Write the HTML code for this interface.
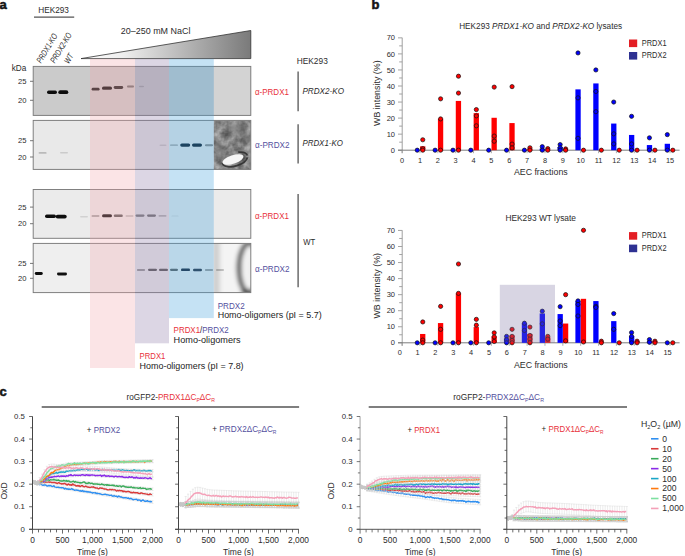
<!DOCTYPE html>
<html><head><meta charset="utf-8"><style>
html,body{margin:0;padding:0;background:#fff;}
svg{display:block;font-family:"Liberation Sans", sans-serif;}
</style></head><body>
<svg width="685" height="556" viewBox="0 0 685 556">
<rect width="685" height="556" fill="#fff"/>
<text x="-0.60" y="9.20" font-size="13" fill="#151515" text-anchor="start" font-weight="bold" stroke="#151515" stroke-width="0.55">a</text>
<text x="38.20" y="13.40" font-size="8.3" fill="#2c2c2c" text-anchor="start" font-weight="normal" textLength="30.7" lengthAdjust="spacingAndGlyphs">HEK293</text>
<line x1="34.00" y1="17.10" x2="74.20" y2="17.10" stroke="#555" stroke-width="1.3"/>
<text transform="translate(41.00,63.80) rotate(-59)" font-size="8.6" fill="#2c2c2c" font-style="italic" textLength="32.8" lengthAdjust="spacingAndGlyphs">PRDX1-KO</text>
<text transform="translate(54.80,63.80) rotate(-59)" font-size="8.6" fill="#2c2c2c" font-style="italic" textLength="33.8" lengthAdjust="spacingAndGlyphs">PRDX2-KO</text>
<text transform="translate(68.80,64.20) rotate(-59)" font-size="8.6" fill="#2c2c2c" font-style="italic" textLength="9.8" lengthAdjust="spacingAndGlyphs">WT</text>
<text x="11.70" y="70.80" font-size="8.3" fill="#2c2c2c" text-anchor="start" font-weight="normal" textLength="14.6" lengthAdjust="spacingAndGlyphs">kDa</text>
<defs><linearGradient id="tg" x1="0" x2="1" y1="0" y2="0"><stop offset="0" stop-color="#ffffff"/><stop offset="0.25" stop-color="#eeeeee"/><stop offset="1" stop-color="#7a7a7a"/></linearGradient><filter id="blur1" x="-20%" y="-50%" width="140%" height="200%"><feGaussianBlur stdDeviation="0.55"/></filter><filter id="blur2" x="-30%" y="-30%" width="160%" height="160%"><feGaussianBlur stdDeviation="2.2"/></filter><filter id="blur05"><feGaussianBlur stdDeviation="0.45"/></filter></defs>
<polygon points="81,58.6 250.8,30.5 250.8,58.6" fill="url(#tg)" stroke="#333" stroke-width="0.8"/>
<text x="120.80" y="34.20" font-size="8.8" fill="#2c2c2c" text-anchor="start" font-weight="normal" textLength="69.6" lengthAdjust="spacingAndGlyphs">20–250 mM NaCl</text>
<rect x="33.20" y="66.40" width="217.60" height="49.00" fill="#cbcbcb"/>
<rect x="33.20" y="120.40" width="217.60" height="49.00" fill="#e9e9e9"/>
<rect x="33.20" y="189.50" width="217.60" height="48.80" fill="#ebebeb"/>
<rect x="33.20" y="243.40" width="217.60" height="49.20" fill="#efefef"/>
<rect x="213.80" y="66.40" width="37.00" height="49.00" fill="#d3d3d3"/>
<clipPath id="cp2"><rect x="213.8" y="120.4" width="37" height="49"/></clipPath><clipPath id="cp4"><rect x="213.8" y="243.4" width="37" height="49.2"/></clipPath>
<filter id="turb" x="0" y="0" width="100%" height="100%"><feTurbulence type="fractalNoise" baseFrequency="0.13" numOctaves="3" seed="4"/><feColorMatrix type="matrix" values="0 0 0 0 0  0 0 0 0 0  0 0 0 0 0  0 0 0 -1.6 1.25"/></filter>
<g clip-path="url(#cp2)">
<rect x="205.00" y="115.00" width="55.00" height="60.00" fill="#b4b4b4"/>
<rect x="213.8" y="120.4" width="37" height="49" fill="#000" filter="url(#turb)" opacity="0.55"/>
<g filter="url(#blur2)">
<ellipse cx="236" cy="128" rx="10" ry="5" fill="#707070" opacity="0.6"/>
<ellipse cx="219" cy="150" rx="5" ry="12" fill="#707070" opacity="0.5"/>
<ellipse cx="246" cy="138" rx="4" ry="8" fill="#606060" opacity="0.5"/>
</g>
<g filter="url(#blur1)"><ellipse cx="235" cy="159.5" rx="13" ry="6.5" fill="none" stroke="#2a2a2a" stroke-width="1.8" stroke-dasharray="30 20" stroke-dashoffset="-2" opacity="0.85" transform="rotate(-18 235 159.5)"/><ellipse cx="233" cy="159.5" rx="11" ry="4.2" fill="#f6f6f6" transform="rotate(-18 233 159.5)"/></g></g>
<g clip-path="url(#cp4)"><g filter="url(#blur2)">
<rect x="205.00" y="240.00" width="55.00" height="60.00" fill="#f4f4f4"/>
<rect x="212" y="240" width="8" height="60" fill="#d0d0d0"/>
<ellipse cx="249.5" cy="268" rx="10.5" ry="25" fill="none" stroke="#454545" stroke-width="5"/>
<ellipse cx="252" cy="268" rx="6" ry="17" fill="#f0f0f0"/>
<ellipse cx="247" cy="292" rx="6" ry="3" fill="#222"/>
</g></g>
<rect x="47.0" y="90.5" width="10.0" height="3.5" rx="1.8" fill="#111" fill-opacity="1.00" filter="url(#blur1)"/>
<rect x="58.3" y="90.3" width="10.0" height="3.8" rx="1.9" fill="#111" fill-opacity="1.00" filter="url(#blur1)"/>
<rect x="91.6" y="87.8" width="8.0" height="2.8" rx="1.4" fill="#111" fill-opacity="0.94" filter="url(#blur1)"/>
<rect x="102.0" y="86.6" width="10.0" height="3.2" rx="1.6" fill="#111" fill-opacity="0.99" filter="url(#blur1)"/>
<rect x="113.7" y="86.1" width="9.5" height="2.8" rx="1.4" fill="#111" fill-opacity="0.88" filter="url(#blur1)"/>
<rect x="127.0" y="85.5" width="7.0" height="1.9" rx="0.9" fill="#111" fill-opacity="0.50" filter="url(#blur1)"/>
<rect x="139.0" y="85.8" width="5.0" height="1.5" rx="0.8" fill="#111" fill-opacity="0.17" filter="url(#blur1)"/>
<rect x="38.6" y="151.9" width="8.0" height="1.9" rx="0.9" fill="#111" fill-opacity="0.20" filter="url(#blur1)"/>
<rect x="60.0" y="152.0" width="8.0" height="1.6" rx="0.8" fill="#111" fill-opacity="0.13" filter="url(#blur1)"/>
<rect x="159.5" y="144.4" width="7.0" height="1.6" rx="0.8" fill="#111" fill-opacity="0.13" filter="url(#blur1)"/>
<rect x="170.0" y="144.3" width="8.0" height="1.8" rx="0.9" fill="#111" fill-opacity="0.24" filter="url(#blur1)"/>
<rect x="180.2" y="143.5" width="10.0" height="3.2" rx="1.6" fill="#0a1a2a" fill-opacity="1.00" filter="url(#blur1)"/>
<rect x="192.0" y="143.5" width="10.0" height="3.2" rx="1.6" fill="#0a1a2a" fill-opacity="1.00" filter="url(#blur1)"/>
<rect x="205.0" y="144.2" width="8.0" height="2.0" rx="1.0" fill="#111" fill-opacity="0.44" filter="url(#blur1)"/>
<rect x="45.0" y="214.4" width="11.0" height="3.5" rx="1.8" fill="#111" fill-opacity="1.00" filter="url(#blur1)"/>
<rect x="55.7" y="214.7" width="11.0" height="3.8" rx="1.9" fill="#111" fill-opacity="1.00" filter="url(#blur1)"/>
<rect x="80.0" y="216.0" width="8.0" height="1.6" rx="0.8" fill="#111" fill-opacity="0.11" filter="url(#blur1)"/>
<rect x="91.5" y="215.1" width="8.0" height="1.9" rx="0.9" fill="#111" fill-opacity="0.28" filter="url(#blur1)"/>
<rect x="102.0" y="214.2" width="10.0" height="3.0" rx="1.5" fill="#111" fill-opacity="0.99" filter="url(#blur1)"/>
<rect x="113.8" y="214.6" width="9.0" height="2.4" rx="1.2" fill="#111" fill-opacity="0.66" filter="url(#blur1)"/>
<rect x="125.5" y="215.2" width="8.0" height="1.6" rx="0.8" fill="#111" fill-opacity="0.22" filter="url(#blur1)"/>
<rect x="135.5" y="214.5" width="9.0" height="2.2" rx="1.1" fill="#111" fill-opacity="0.50" filter="url(#blur1)"/>
<rect x="147.0" y="214.5" width="9.0" height="2.2" rx="1.1" fill="#111" fill-opacity="0.55" filter="url(#blur1)"/>
<rect x="158.5" y="215.1" width="8.0" height="1.6" rx="0.8" fill="#111" fill-opacity="0.22" filter="url(#blur1)"/>
<rect x="171.5" y="215.4" width="7.0" height="1.2" rx="0.6" fill="#111" fill-opacity="0.09" filter="url(#blur1)"/>
<rect x="34.8" y="272.1" width="8.0" height="2.8" rx="1.4" fill="#111" fill-opacity="1.00" filter="url(#blur1)"/>
<rect x="57.0" y="272.6" width="10.0" height="2.8" rx="1.4" fill="#111" fill-opacity="0.99" filter="url(#blur1)"/>
<rect x="137.0" y="269.0" width="8.0" height="1.9" rx="0.9" fill="#111" fill-opacity="0.39" filter="url(#blur1)"/>
<rect x="148.0" y="268.7" width="9.0" height="2.2" rx="1.1" fill="#111" fill-opacity="0.66" filter="url(#blur1)"/>
<rect x="159.0" y="268.8" width="9.0" height="2.2" rx="1.1" fill="#111" fill-opacity="0.66" filter="url(#blur1)"/>
<rect x="170.0" y="268.7" width="8.0" height="2.2" rx="1.1" fill="#111" fill-opacity="0.66" filter="url(#blur1)"/>
<rect x="181.0" y="268.6" width="9.0" height="2.5" rx="1.2" fill="#0a1a2a" fill-opacity="0.94" filter="url(#blur1)"/>
<rect x="193.0" y="268.8" width="9.0" height="2.5" rx="1.2" fill="#0a1a2a" fill-opacity="0.88" filter="url(#blur1)"/>
<rect x="205.0" y="269.1" width="8.0" height="1.8" rx="0.9" fill="#111" fill-opacity="0.39" filter="url(#blur1)"/>
<rect x="216.0" y="269.2" width="8.0" height="1.6" rx="0.8" fill="#111" fill-opacity="0.28" filter="url(#blur1)"/>
<rect x="33.20" y="66.40" width="217.60" height="49.00" fill="none" stroke="#7a7a7a" stroke-width="0.95"/>
<rect x="33.20" y="120.40" width="217.60" height="49.00" fill="none" stroke="#7a7a7a" stroke-width="0.95"/>
<rect x="33.20" y="189.50" width="217.60" height="48.80" fill="none" stroke="#7a7a7a" stroke-width="0.95"/>
<rect x="33.20" y="243.40" width="217.60" height="49.20" fill="none" stroke="#7a7a7a" stroke-width="0.95"/>
<line x1="30.00" y1="81.30" x2="33.20" y2="81.30" stroke="#555" stroke-width="0.8"/>
<line x1="30.00" y1="100.30" x2="33.20" y2="100.30" stroke="#555" stroke-width="0.8"/>
<text x="26.50" y="83.90" font-size="7.6" fill="#2c2c2c" text-anchor="end" font-weight="normal">25</text>
<text x="26.50" y="102.90" font-size="7.6" fill="#2c2c2c" text-anchor="end" font-weight="normal">20</text>
<line x1="30.00" y1="140.70" x2="33.20" y2="140.70" stroke="#555" stroke-width="0.8"/>
<line x1="30.00" y1="157.00" x2="33.20" y2="157.00" stroke="#555" stroke-width="0.8"/>
<text x="26.50" y="143.30" font-size="7.6" fill="#2c2c2c" text-anchor="end" font-weight="normal">25</text>
<text x="26.50" y="159.60" font-size="7.6" fill="#2c2c2c" text-anchor="end" font-weight="normal">20</text>
<line x1="30.00" y1="207.10" x2="33.20" y2="207.10" stroke="#555" stroke-width="0.8"/>
<line x1="30.00" y1="223.70" x2="33.20" y2="223.70" stroke="#555" stroke-width="0.8"/>
<text x="26.50" y="209.70" font-size="7.6" fill="#2c2c2c" text-anchor="end" font-weight="normal">25</text>
<text x="26.50" y="226.30" font-size="7.6" fill="#2c2c2c" text-anchor="end" font-weight="normal">20</text>
<line x1="30.00" y1="263.40" x2="33.20" y2="263.40" stroke="#555" stroke-width="0.8"/>
<line x1="30.00" y1="278.30" x2="33.20" y2="278.30" stroke="#555" stroke-width="0.8"/>
<text x="26.50" y="266.00" font-size="7.6" fill="#2c2c2c" text-anchor="end" font-weight="normal">25</text>
<text x="26.50" y="280.90" font-size="7.6" fill="#2c2c2c" text-anchor="end" font-weight="normal">20</text>
<g>
<rect x="90.00" y="58.80" width="45.00" height="309.20" fill="rgb(242,165,172)" fill-opacity="0.3"/>
<rect x="135.00" y="58.80" width="34.00" height="284.50" fill="rgb(138,118,165)" fill-opacity="0.3"/>
<rect x="169.00" y="58.80" width="44.80" height="259.30" fill="rgb(62,158,218)" fill-opacity="0.3"/>
</g>
<text x="296.70" y="64.00" font-size="8.3" fill="#2c2c2c" text-anchor="start" font-weight="normal" textLength="31.1" lengthAdjust="spacingAndGlyphs">HEK293</text>
<text x="255.00" y="95.00" font-size="8.8" fill="#e8313b" text-anchor="start" font-weight="normal" textLength="33.9" lengthAdjust="spacingAndGlyphs">α-PRDX1</text>
<text x="255.00" y="148.30" font-size="8.8" fill="#5451a0" text-anchor="start" font-weight="normal" textLength="34.5" lengthAdjust="spacingAndGlyphs">α-PRDX2</text>
<text x="255.00" y="218.80" font-size="8.8" fill="#e8313b" text-anchor="start" font-weight="normal" textLength="33.9" lengthAdjust="spacingAndGlyphs">α-PRDX1</text>
<text x="255.00" y="272.30" font-size="8.8" fill="#5451a0" text-anchor="start" font-weight="normal" textLength="34.5" lengthAdjust="spacingAndGlyphs">α-PRDX2</text>
<line x1="298.10" y1="71.40" x2="298.10" y2="111.20" stroke="#555" stroke-width="1.3"/>
<line x1="298.10" y1="124.20" x2="298.10" y2="163.60" stroke="#555" stroke-width="1.3"/>
<line x1="298.10" y1="194.00" x2="298.10" y2="287.20" stroke="#555" stroke-width="1.3"/>
<text x="302.40" y="93.90" font-size="8.8" fill="#2c2c2c" text-anchor="start" font-weight="normal" font-style="italic" textLength="41.6" lengthAdjust="spacingAndGlyphs">PRDX2-KO</text>
<text x="302.40" y="146.30" font-size="8.8" fill="#2c2c2c" text-anchor="start" font-weight="normal" font-style="italic" textLength="40.5" lengthAdjust="spacingAndGlyphs">PRDX1-KO</text>
<text x="303.20" y="245.10" font-size="8.8" fill="#2c2c2c" text-anchor="start" font-weight="normal" textLength="12" lengthAdjust="spacingAndGlyphs">WT</text>
<text x="217.70" y="308.60" font-size="8.8" fill="#5451a0" text-anchor="start" font-weight="normal" textLength="27" lengthAdjust="spacingAndGlyphs">PRDX2</text>
<text x="217.70" y="318.30" font-size="8.8" fill="#222" text-anchor="start" font-weight="normal" textLength="104" lengthAdjust="spacingAndGlyphs">Homo-oligomers (pI = 5.7)</text>
<text x="173.6" y="333.3" font-size="8.8" textLength="55.2" lengthAdjust="spacingAndGlyphs"><tspan fill="#e8313b">PRDX1</tspan><tspan fill="#222">/</tspan><tspan fill="#5451a0">PRDX2</tspan></text>
<text x="173.60" y="342.80" font-size="8.8" fill="#222" text-anchor="start" font-weight="normal" textLength="67" lengthAdjust="spacingAndGlyphs">Homo-oligomers</text>
<text x="139.60" y="359.00" font-size="8.8" fill="#e8313b" text-anchor="start" font-weight="normal" textLength="25.8" lengthAdjust="spacingAndGlyphs">PRDX1</text>
<text x="139.60" y="368.50" font-size="8.8" fill="#222" text-anchor="start" font-weight="normal" textLength="104" lengthAdjust="spacingAndGlyphs">Homo-oligomers (pI = 7.8)</text>
<text x="371.60" y="8.90" font-size="13" fill="#151515" text-anchor="start" font-weight="bold" stroke="#151515" stroke-width="0.55">b</text>
<text x="459.2" y="28.70" font-size="8.4" fill="#2c2c2c" textLength="162.9" lengthAdjust="spacingAndGlyphs">HEK293 <tspan font-style="italic">PRDX1-KO</tspan> and <tspan font-style="italic">PRDX2-KO</tspan> lysates</text>
<rect x="629.00" y="39.50" width="8.20" height="7.60" fill="#e31e24"/>
<rect x="629.00" y="52.00" width="8.20" height="7.60" fill="#2e3192"/>
<text x="641.80" y="45.70" font-size="8.6" fill="#2c2c2c" text-anchor="start" font-weight="normal" textLength="24.7" lengthAdjust="spacingAndGlyphs">PRDX1</text>
<text x="641.80" y="58.30" font-size="8.6" fill="#2c2c2c" text-anchor="start" font-weight="normal" textLength="24.7" lengthAdjust="spacingAndGlyphs">PRDX2</text>
<line x1="402.20" y1="37.70" x2="402.20" y2="153.20" stroke="#a0a0a0" stroke-width="1"/>
<line x1="398.00" y1="150.20" x2="402.20" y2="150.20" stroke="#9a9a9a" stroke-width="0.9"/>
<text x="395.00" y="152.80" font-size="7.5" fill="#2c2c2c" text-anchor="end" font-weight="normal">0</text>
<line x1="399.20" y1="142.17" x2="402.20" y2="142.17" stroke="#9a9a9a" stroke-width="0.9"/>
<line x1="398.00" y1="134.15" x2="402.20" y2="134.15" stroke="#9a9a9a" stroke-width="0.9"/>
<text x="395.00" y="136.75" font-size="7.5" fill="#2c2c2c" text-anchor="end" font-weight="normal">10</text>
<line x1="399.20" y1="126.12" x2="402.20" y2="126.12" stroke="#9a9a9a" stroke-width="0.9"/>
<line x1="398.00" y1="118.10" x2="402.20" y2="118.10" stroke="#9a9a9a" stroke-width="0.9"/>
<text x="395.00" y="120.70" font-size="7.5" fill="#2c2c2c" text-anchor="end" font-weight="normal">20</text>
<line x1="399.20" y1="110.07" x2="402.20" y2="110.07" stroke="#9a9a9a" stroke-width="0.9"/>
<line x1="398.00" y1="102.05" x2="402.20" y2="102.05" stroke="#9a9a9a" stroke-width="0.9"/>
<text x="395.00" y="104.65" font-size="7.5" fill="#2c2c2c" text-anchor="end" font-weight="normal">30</text>
<line x1="399.20" y1="94.02" x2="402.20" y2="94.02" stroke="#9a9a9a" stroke-width="0.9"/>
<line x1="398.00" y1="86.00" x2="402.20" y2="86.00" stroke="#9a9a9a" stroke-width="0.9"/>
<text x="395.00" y="88.60" font-size="7.5" fill="#2c2c2c" text-anchor="end" font-weight="normal">40</text>
<line x1="399.20" y1="77.97" x2="402.20" y2="77.97" stroke="#9a9a9a" stroke-width="0.9"/>
<line x1="398.00" y1="69.95" x2="402.20" y2="69.95" stroke="#9a9a9a" stroke-width="0.9"/>
<text x="395.00" y="72.55" font-size="7.5" fill="#2c2c2c" text-anchor="end" font-weight="normal">50</text>
<line x1="399.20" y1="61.92" x2="402.20" y2="61.92" stroke="#9a9a9a" stroke-width="0.9"/>
<line x1="398.00" y1="53.90" x2="402.20" y2="53.90" stroke="#9a9a9a" stroke-width="0.9"/>
<text x="395.00" y="56.50" font-size="7.5" fill="#2c2c2c" text-anchor="end" font-weight="normal">60</text>
<line x1="399.20" y1="45.87" x2="402.20" y2="45.87" stroke="#9a9a9a" stroke-width="0.9"/>
<line x1="398.00" y1="37.85" x2="402.20" y2="37.85" stroke="#9a9a9a" stroke-width="0.9"/>
<text x="395.00" y="40.45" font-size="7.5" fill="#2c2c2c" text-anchor="end" font-weight="normal">70</text>
<line x1="398.00" y1="150.20" x2="679.60" y2="150.20" stroke="#6e6e6e" stroke-width="0.9"/>
<line x1="402.10" y1="150.20" x2="402.10" y2="153.20" stroke="#9a9a9a" stroke-width="0.8"/>
<text x="402.10" y="162.80" font-size="7.4" fill="#2c2c2c" text-anchor="middle" font-weight="normal">0</text>
<line x1="419.96" y1="150.20" x2="419.96" y2="153.20" stroke="#9a9a9a" stroke-width="0.8"/>
<text x="419.96" y="162.80" font-size="7.4" fill="#2c2c2c" text-anchor="middle" font-weight="normal">1</text>
<line x1="437.82" y1="150.20" x2="437.82" y2="153.20" stroke="#9a9a9a" stroke-width="0.8"/>
<text x="437.82" y="162.80" font-size="7.4" fill="#2c2c2c" text-anchor="middle" font-weight="normal">2</text>
<line x1="455.68" y1="150.20" x2="455.68" y2="153.20" stroke="#9a9a9a" stroke-width="0.8"/>
<text x="455.68" y="162.80" font-size="7.4" fill="#2c2c2c" text-anchor="middle" font-weight="normal">3</text>
<line x1="473.54" y1="150.20" x2="473.54" y2="153.20" stroke="#9a9a9a" stroke-width="0.8"/>
<text x="473.54" y="162.80" font-size="7.4" fill="#2c2c2c" text-anchor="middle" font-weight="normal">4</text>
<line x1="491.40" y1="150.20" x2="491.40" y2="153.20" stroke="#9a9a9a" stroke-width="0.8"/>
<text x="491.40" y="162.80" font-size="7.4" fill="#2c2c2c" text-anchor="middle" font-weight="normal">5</text>
<line x1="509.26" y1="150.20" x2="509.26" y2="153.20" stroke="#9a9a9a" stroke-width="0.8"/>
<text x="509.26" y="162.80" font-size="7.4" fill="#2c2c2c" text-anchor="middle" font-weight="normal">6</text>
<line x1="527.12" y1="150.20" x2="527.12" y2="153.20" stroke="#9a9a9a" stroke-width="0.8"/>
<text x="527.12" y="162.80" font-size="7.4" fill="#2c2c2c" text-anchor="middle" font-weight="normal">7</text>
<line x1="544.98" y1="150.20" x2="544.98" y2="153.20" stroke="#9a9a9a" stroke-width="0.8"/>
<text x="544.98" y="162.80" font-size="7.4" fill="#2c2c2c" text-anchor="middle" font-weight="normal">8</text>
<line x1="562.84" y1="150.20" x2="562.84" y2="153.20" stroke="#9a9a9a" stroke-width="0.8"/>
<text x="562.84" y="162.80" font-size="7.4" fill="#2c2c2c" text-anchor="middle" font-weight="normal">9</text>
<line x1="580.70" y1="150.20" x2="580.70" y2="153.20" stroke="#9a9a9a" stroke-width="0.8"/>
<text x="580.70" y="162.80" font-size="7.4" fill="#2c2c2c" text-anchor="middle" font-weight="normal">10</text>
<line x1="598.56" y1="150.20" x2="598.56" y2="153.20" stroke="#9a9a9a" stroke-width="0.8"/>
<text x="598.56" y="162.80" font-size="7.4" fill="#2c2c2c" text-anchor="middle" font-weight="normal">11</text>
<line x1="616.42" y1="150.20" x2="616.42" y2="153.20" stroke="#9a9a9a" stroke-width="0.8"/>
<text x="616.42" y="162.80" font-size="7.4" fill="#2c2c2c" text-anchor="middle" font-weight="normal">12</text>
<line x1="634.28" y1="150.20" x2="634.28" y2="153.20" stroke="#9a9a9a" stroke-width="0.8"/>
<text x="634.28" y="162.80" font-size="7.4" fill="#2c2c2c" text-anchor="middle" font-weight="normal">13</text>
<line x1="652.14" y1="150.20" x2="652.14" y2="153.20" stroke="#9a9a9a" stroke-width="0.8"/>
<text x="652.14" y="162.80" font-size="7.4" fill="#2c2c2c" text-anchor="middle" font-weight="normal">14</text>
<line x1="670.00" y1="150.20" x2="670.00" y2="153.20" stroke="#9a9a9a" stroke-width="0.8"/>
<text x="670.00" y="162.80" font-size="7.4" fill="#2c2c2c" text-anchor="middle" font-weight="normal">15</text>
<rect x="420.06" y="146.35" width="5.30" height="3.85" fill="#ff0000"/>
<rect x="437.92" y="118.74" width="5.30" height="31.46" fill="#ff0000"/>
<rect x="455.78" y="100.93" width="5.30" height="49.27" fill="#ff0000"/>
<rect x="473.64" y="113.12" width="5.30" height="37.08" fill="#ff0000"/>
<rect x="491.50" y="117.78" width="5.30" height="32.42" fill="#ff0000"/>
<rect x="509.36" y="123.08" width="5.30" height="27.12" fill="#ff0000"/>
<rect x="527.22" y="148.59" width="5.30" height="1.60" fill="#ff0000"/>
<rect x="539.68" y="148.59" width="5.30" height="1.60" fill="#0000ff"/>
<rect x="545.08" y="149.40" width="5.30" height="0.80" fill="#ff0000"/>
<rect x="557.54" y="146.99" width="5.30" height="3.21" fill="#0000ff"/>
<rect x="562.94" y="149.40" width="5.30" height="0.80" fill="#ff0000"/>
<rect x="575.40" y="89.37" width="5.30" height="60.83" fill="#0000ff"/>
<rect x="593.26" y="83.43" width="5.30" height="66.77" fill="#0000ff"/>
<rect x="611.12" y="123.56" width="5.30" height="26.64" fill="#0000ff"/>
<rect x="628.98" y="134.95" width="5.30" height="15.25" fill="#0000ff"/>
<rect x="646.84" y="145.06" width="5.30" height="5.14" fill="#0000ff"/>
<rect x="664.70" y="143.78" width="5.30" height="6.42" fill="#0000ff"/>
<circle cx="417.26" cy="150.20" r="2.1" fill="#0000ff" stroke="#111" stroke-width="0.7"/>
<circle cx="422.76" cy="139.77" r="2.1" fill="#ff0000" stroke="#111" stroke-width="0.7"/>
<circle cx="422.76" cy="148.59" r="2.1" fill="#ff0000" stroke="#111" stroke-width="0.7"/>
<circle cx="422.76" cy="150.20" r="2.1" fill="#ff0000" stroke="#111" stroke-width="0.7"/>
<circle cx="435.12" cy="150.20" r="2.1" fill="#0000ff" stroke="#111" stroke-width="0.7"/>
<circle cx="440.62" cy="98.84" r="2.1" fill="#ff0000" stroke="#111" stroke-width="0.7"/>
<circle cx="440.62" cy="118.90" r="2.1" fill="#ff0000" stroke="#111" stroke-width="0.7"/>
<circle cx="440.62" cy="150.20" r="2.1" fill="#ff0000" stroke="#111" stroke-width="0.7"/>
<circle cx="452.98" cy="150.20" r="2.1" fill="#0000ff" stroke="#111" stroke-width="0.7"/>
<circle cx="458.48" cy="76.21" r="2.1" fill="#ff0000" stroke="#111" stroke-width="0.7"/>
<circle cx="458.48" cy="93.06" r="2.1" fill="#ff0000" stroke="#111" stroke-width="0.7"/>
<circle cx="458.48" cy="150.20" r="2.1" fill="#ff0000" stroke="#111" stroke-width="0.7"/>
<circle cx="470.84" cy="150.20" r="2.1" fill="#0000ff" stroke="#111" stroke-width="0.7"/>
<circle cx="476.34" cy="109.59" r="2.1" fill="#ff0000" stroke="#111" stroke-width="0.7"/>
<circle cx="476.34" cy="115.85" r="2.1" fill="#ff0000" stroke="#111" stroke-width="0.7"/>
<circle cx="476.34" cy="125.80" r="2.1" fill="#ff0000" stroke="#111" stroke-width="0.7"/>
<circle cx="488.70" cy="150.20" r="2.1" fill="#0000ff" stroke="#111" stroke-width="0.7"/>
<circle cx="494.20" cy="87.12" r="2.1" fill="#ff0000" stroke="#111" stroke-width="0.7"/>
<circle cx="494.20" cy="136.08" r="2.1" fill="#ff0000" stroke="#111" stroke-width="0.7"/>
<circle cx="494.20" cy="141.21" r="2.1" fill="#ff0000" stroke="#111" stroke-width="0.7"/>
<circle cx="506.56" cy="150.20" r="2.1" fill="#0000ff" stroke="#111" stroke-width="0.7"/>
<circle cx="512.06" cy="86.64" r="2.1" fill="#ff0000" stroke="#111" stroke-width="0.7"/>
<circle cx="512.06" cy="144.10" r="2.1" fill="#ff0000" stroke="#111" stroke-width="0.7"/>
<circle cx="512.06" cy="147.95" r="2.1" fill="#ff0000" stroke="#111" stroke-width="0.7"/>
<circle cx="524.42" cy="150.20" r="2.1" fill="#0000ff" stroke="#111" stroke-width="0.7"/>
<circle cx="529.92" cy="147.79" r="2.1" fill="#ff0000" stroke="#111" stroke-width="0.7"/>
<circle cx="529.92" cy="150.20" r="2.1" fill="#ff0000" stroke="#111" stroke-width="0.7"/>
<circle cx="542.28" cy="146.67" r="2.1" fill="#0000ff" stroke="#111" stroke-width="0.7"/>
<circle cx="542.28" cy="150.20" r="2.1" fill="#0000ff" stroke="#111" stroke-width="0.7"/>
<circle cx="547.78" cy="148.59" r="2.1" fill="#ff0000" stroke="#111" stroke-width="0.7"/>
<circle cx="547.78" cy="150.20" r="2.1" fill="#ff0000" stroke="#111" stroke-width="0.7"/>
<circle cx="560.14" cy="144.58" r="2.1" fill="#0000ff" stroke="#111" stroke-width="0.7"/>
<circle cx="560.14" cy="147.79" r="2.1" fill="#0000ff" stroke="#111" stroke-width="0.7"/>
<circle cx="560.14" cy="150.20" r="2.1" fill="#0000ff" stroke="#111" stroke-width="0.7"/>
<circle cx="565.64" cy="148.92" r="2.1" fill="#ff0000" stroke="#111" stroke-width="0.7"/>
<circle cx="565.64" cy="150.20" r="2.1" fill="#ff0000" stroke="#111" stroke-width="0.7"/>
<circle cx="578.00" cy="52.94" r="2.1" fill="#0000ff" stroke="#111" stroke-width="0.7"/>
<circle cx="578.00" cy="97.88" r="2.1" fill="#0000ff" stroke="#111" stroke-width="0.7"/>
<circle cx="578.00" cy="138.32" r="2.1" fill="#0000ff" stroke="#111" stroke-width="0.7"/>
<circle cx="583.50" cy="150.20" r="2.1" fill="#ff0000" stroke="#111" stroke-width="0.7"/>
<circle cx="595.86" cy="69.95" r="2.1" fill="#0000ff" stroke="#111" stroke-width="0.7"/>
<circle cx="595.86" cy="91.46" r="2.1" fill="#0000ff" stroke="#111" stroke-width="0.7"/>
<circle cx="595.86" cy="111.68" r="2.1" fill="#0000ff" stroke="#111" stroke-width="0.7"/>
<circle cx="601.36" cy="150.20" r="2.1" fill="#ff0000" stroke="#111" stroke-width="0.7"/>
<circle cx="613.72" cy="102.05" r="2.1" fill="#0000ff" stroke="#111" stroke-width="0.7"/>
<circle cx="613.72" cy="133.83" r="2.1" fill="#0000ff" stroke="#111" stroke-width="0.7"/>
<circle cx="613.72" cy="143.94" r="2.1" fill="#0000ff" stroke="#111" stroke-width="0.7"/>
<circle cx="619.22" cy="150.20" r="2.1" fill="#ff0000" stroke="#111" stroke-width="0.7"/>
<circle cx="631.58" cy="116.33" r="2.1" fill="#0000ff" stroke="#111" stroke-width="0.7"/>
<circle cx="631.58" cy="143.94" r="2.1" fill="#0000ff" stroke="#111" stroke-width="0.7"/>
<circle cx="631.58" cy="150.20" r="2.1" fill="#0000ff" stroke="#111" stroke-width="0.7"/>
<circle cx="637.08" cy="150.20" r="2.1" fill="#ff0000" stroke="#111" stroke-width="0.7"/>
<circle cx="649.44" cy="137.84" r="2.1" fill="#0000ff" stroke="#111" stroke-width="0.7"/>
<circle cx="649.44" cy="150.20" r="2.1" fill="#0000ff" stroke="#111" stroke-width="0.7"/>
<circle cx="654.94" cy="150.20" r="2.1" fill="#ff0000" stroke="#111" stroke-width="0.7"/>
<circle cx="667.30" cy="134.63" r="2.1" fill="#0000ff" stroke="#111" stroke-width="0.7"/>
<circle cx="667.30" cy="150.20" r="2.1" fill="#0000ff" stroke="#111" stroke-width="0.7"/>
<circle cx="672.80" cy="150.20" r="2.1" fill="#ff0000" stroke="#111" stroke-width="0.7"/>
<text transform="translate(379.5,93.20) rotate(-90)" font-size="8.4" fill="#2c2c2c" text-anchor="middle" textLength="65.6" lengthAdjust="spacingAndGlyphs">WB intensity (%)</text>
<text x="513.90" y="174.90" font-size="8.6" fill="#2c2c2c" text-anchor="start" font-weight="normal" textLength="53.8" lengthAdjust="spacingAndGlyphs">AEC fractions</text>
<text x="505.4" y="221.30" font-size="8.4" fill="#2c2c2c" textLength="70.6" lengthAdjust="spacingAndGlyphs">HEK293 WT lysate</text>
<rect x="629.00" y="232.10" width="8.20" height="7.60" fill="#e31e24"/>
<rect x="629.00" y="244.60" width="8.20" height="7.60" fill="#2e3192"/>
<text x="641.80" y="238.30" font-size="8.6" fill="#2c2c2c" text-anchor="start" font-weight="normal" textLength="24.7" lengthAdjust="spacingAndGlyphs">PRDX1</text>
<text x="641.80" y="250.90" font-size="8.6" fill="#2c2c2c" text-anchor="start" font-weight="normal" textLength="24.7" lengthAdjust="spacingAndGlyphs">PRDX2</text>
<line x1="402.20" y1="230.30" x2="402.20" y2="345.80" stroke="#a0a0a0" stroke-width="1"/>
<line x1="398.00" y1="342.80" x2="402.20" y2="342.80" stroke="#9a9a9a" stroke-width="0.9"/>
<text x="395.00" y="345.40" font-size="7.5" fill="#2c2c2c" text-anchor="end" font-weight="normal">0</text>
<line x1="399.20" y1="334.78" x2="402.20" y2="334.78" stroke="#9a9a9a" stroke-width="0.9"/>
<line x1="398.00" y1="326.75" x2="402.20" y2="326.75" stroke="#9a9a9a" stroke-width="0.9"/>
<text x="395.00" y="329.35" font-size="7.5" fill="#2c2c2c" text-anchor="end" font-weight="normal">10</text>
<line x1="399.20" y1="318.73" x2="402.20" y2="318.73" stroke="#9a9a9a" stroke-width="0.9"/>
<line x1="398.00" y1="310.70" x2="402.20" y2="310.70" stroke="#9a9a9a" stroke-width="0.9"/>
<text x="395.00" y="313.30" font-size="7.5" fill="#2c2c2c" text-anchor="end" font-weight="normal">20</text>
<line x1="399.20" y1="302.68" x2="402.20" y2="302.68" stroke="#9a9a9a" stroke-width="0.9"/>
<line x1="398.00" y1="294.65" x2="402.20" y2="294.65" stroke="#9a9a9a" stroke-width="0.9"/>
<text x="395.00" y="297.25" font-size="7.5" fill="#2c2c2c" text-anchor="end" font-weight="normal">30</text>
<line x1="399.20" y1="286.62" x2="402.20" y2="286.62" stroke="#9a9a9a" stroke-width="0.9"/>
<line x1="398.00" y1="278.60" x2="402.20" y2="278.60" stroke="#9a9a9a" stroke-width="0.9"/>
<text x="395.00" y="281.20" font-size="7.5" fill="#2c2c2c" text-anchor="end" font-weight="normal">40</text>
<line x1="399.20" y1="270.58" x2="402.20" y2="270.58" stroke="#9a9a9a" stroke-width="0.9"/>
<line x1="398.00" y1="262.55" x2="402.20" y2="262.55" stroke="#9a9a9a" stroke-width="0.9"/>
<text x="395.00" y="265.15" font-size="7.5" fill="#2c2c2c" text-anchor="end" font-weight="normal">50</text>
<line x1="399.20" y1="254.53" x2="402.20" y2="254.53" stroke="#9a9a9a" stroke-width="0.9"/>
<line x1="398.00" y1="246.50" x2="402.20" y2="246.50" stroke="#9a9a9a" stroke-width="0.9"/>
<text x="395.00" y="249.10" font-size="7.5" fill="#2c2c2c" text-anchor="end" font-weight="normal">60</text>
<line x1="399.20" y1="238.48" x2="402.20" y2="238.48" stroke="#9a9a9a" stroke-width="0.9"/>
<line x1="398.00" y1="230.45" x2="402.20" y2="230.45" stroke="#9a9a9a" stroke-width="0.9"/>
<text x="395.00" y="233.05" font-size="7.5" fill="#2c2c2c" text-anchor="end" font-weight="normal">70</text>
<line x1="398.00" y1="342.80" x2="679.60" y2="342.80" stroke="#6e6e6e" stroke-width="0.9"/>
<line x1="402.10" y1="342.80" x2="402.10" y2="345.80" stroke="#9a9a9a" stroke-width="0.8"/>
<text x="399.70" y="355.40" font-size="7.4" fill="#2c2c2c" text-anchor="middle" font-weight="normal">0</text>
<line x1="419.96" y1="342.80" x2="419.96" y2="345.80" stroke="#9a9a9a" stroke-width="0.8"/>
<text x="417.56" y="355.40" font-size="7.4" fill="#2c2c2c" text-anchor="middle" font-weight="normal">1</text>
<line x1="437.82" y1="342.80" x2="437.82" y2="345.80" stroke="#9a9a9a" stroke-width="0.8"/>
<text x="435.42" y="355.40" font-size="7.4" fill="#2c2c2c" text-anchor="middle" font-weight="normal">2</text>
<line x1="455.68" y1="342.80" x2="455.68" y2="345.80" stroke="#9a9a9a" stroke-width="0.8"/>
<text x="453.28" y="355.40" font-size="7.4" fill="#2c2c2c" text-anchor="middle" font-weight="normal">3</text>
<line x1="473.54" y1="342.80" x2="473.54" y2="345.80" stroke="#9a9a9a" stroke-width="0.8"/>
<text x="471.14" y="355.40" font-size="7.4" fill="#2c2c2c" text-anchor="middle" font-weight="normal">4</text>
<line x1="491.40" y1="342.80" x2="491.40" y2="345.80" stroke="#9a9a9a" stroke-width="0.8"/>
<text x="489.00" y="355.40" font-size="7.4" fill="#2c2c2c" text-anchor="middle" font-weight="normal">5</text>
<line x1="509.26" y1="342.80" x2="509.26" y2="345.80" stroke="#9a9a9a" stroke-width="0.8"/>
<text x="506.86" y="355.40" font-size="7.4" fill="#2c2c2c" text-anchor="middle" font-weight="normal">6</text>
<line x1="527.12" y1="342.80" x2="527.12" y2="345.80" stroke="#9a9a9a" stroke-width="0.8"/>
<text x="524.72" y="355.40" font-size="7.4" fill="#2c2c2c" text-anchor="middle" font-weight="normal">7</text>
<line x1="544.98" y1="342.80" x2="544.98" y2="345.80" stroke="#9a9a9a" stroke-width="0.8"/>
<text x="542.58" y="355.40" font-size="7.4" fill="#2c2c2c" text-anchor="middle" font-weight="normal">8</text>
<line x1="562.84" y1="342.80" x2="562.84" y2="345.80" stroke="#9a9a9a" stroke-width="0.8"/>
<text x="560.44" y="355.40" font-size="7.4" fill="#2c2c2c" text-anchor="middle" font-weight="normal">9</text>
<line x1="580.70" y1="342.80" x2="580.70" y2="345.80" stroke="#9a9a9a" stroke-width="0.8"/>
<text x="578.30" y="355.40" font-size="7.4" fill="#2c2c2c" text-anchor="middle" font-weight="normal">10</text>
<line x1="598.56" y1="342.80" x2="598.56" y2="345.80" stroke="#9a9a9a" stroke-width="0.8"/>
<text x="596.16" y="355.40" font-size="7.4" fill="#2c2c2c" text-anchor="middle" font-weight="normal">11</text>
<line x1="616.42" y1="342.80" x2="616.42" y2="345.80" stroke="#9a9a9a" stroke-width="0.8"/>
<text x="614.02" y="355.40" font-size="7.4" fill="#2c2c2c" text-anchor="middle" font-weight="normal">12</text>
<line x1="634.28" y1="342.80" x2="634.28" y2="345.80" stroke="#9a9a9a" stroke-width="0.8"/>
<text x="631.88" y="355.40" font-size="7.4" fill="#2c2c2c" text-anchor="middle" font-weight="normal">13</text>
<line x1="652.14" y1="342.80" x2="652.14" y2="345.80" stroke="#9a9a9a" stroke-width="0.8"/>
<text x="649.74" y="355.40" font-size="7.4" fill="#2c2c2c" text-anchor="middle" font-weight="normal">14</text>
<line x1="670.00" y1="342.80" x2="670.00" y2="345.80" stroke="#9a9a9a" stroke-width="0.8"/>
<text x="667.60" y="355.40" font-size="7.4" fill="#2c2c2c" text-anchor="middle" font-weight="normal">15</text>
<rect x="420.06" y="333.97" width="5.30" height="8.83" fill="#ff0000"/>
<rect x="437.92" y="323.06" width="5.30" height="19.74" fill="#ff0000"/>
<rect x="455.78" y="293.37" width="5.30" height="49.43" fill="#ff0000"/>
<rect x="473.64" y="327.07" width="5.30" height="15.73" fill="#ff0000"/>
<rect x="491.50" y="336.38" width="5.30" height="6.42" fill="#ff0000"/>
<rect x="503.96" y="338.31" width="5.30" height="4.49" fill="#0000ff"/>
<rect x="509.36" y="335.42" width="5.30" height="7.38" fill="#ff0000"/>
<rect x="521.82" y="323.22" width="5.30" height="19.58" fill="#0000ff"/>
<rect x="527.22" y="333.97" width="5.30" height="8.83" fill="#ff0000"/>
<rect x="539.68" y="313.43" width="5.30" height="29.37" fill="#0000ff"/>
<rect x="545.08" y="337.18" width="5.30" height="5.62" fill="#ff0000"/>
<rect x="557.54" y="314.07" width="5.30" height="28.73" fill="#0000ff"/>
<rect x="562.94" y="323.54" width="5.30" height="19.26" fill="#ff0000"/>
<rect x="575.40" y="300.91" width="5.30" height="41.89" fill="#0000ff"/>
<rect x="580.80" y="298.82" width="5.30" height="43.98" fill="#ff0000"/>
<rect x="593.26" y="301.07" width="5.30" height="41.73" fill="#0000ff"/>
<rect x="598.66" y="342.00" width="5.30" height="0.80" fill="#ff0000"/>
<rect x="611.12" y="321.13" width="5.30" height="21.67" fill="#0000ff"/>
<rect x="628.98" y="336.06" width="5.30" height="6.74" fill="#0000ff"/>
<rect x="634.38" y="341.19" width="5.30" height="1.60" fill="#ff0000"/>
<rect x="646.84" y="341.19" width="5.30" height="1.60" fill="#0000ff"/>
<rect x="652.24" y="341.19" width="5.30" height="1.60" fill="#ff0000"/>
<circle cx="417.26" cy="342.80" r="2.1" fill="#0000ff" stroke="#111" stroke-width="0.7"/>
<circle cx="422.76" cy="321.94" r="2.1" fill="#ff0000" stroke="#111" stroke-width="0.7"/>
<circle cx="422.76" cy="340.07" r="2.1" fill="#ff0000" stroke="#111" stroke-width="0.7"/>
<circle cx="422.76" cy="342.80" r="2.1" fill="#ff0000" stroke="#111" stroke-width="0.7"/>
<circle cx="435.12" cy="342.80" r="2.1" fill="#0000ff" stroke="#111" stroke-width="0.7"/>
<circle cx="440.62" cy="306.37" r="2.1" fill="#ff0000" stroke="#111" stroke-width="0.7"/>
<circle cx="440.62" cy="329.32" r="2.1" fill="#ff0000" stroke="#111" stroke-width="0.7"/>
<circle cx="440.62" cy="342.80" r="2.1" fill="#ff0000" stroke="#111" stroke-width="0.7"/>
<circle cx="452.98" cy="342.80" r="2.1" fill="#0000ff" stroke="#111" stroke-width="0.7"/>
<circle cx="458.48" cy="263.99" r="2.1" fill="#ff0000" stroke="#111" stroke-width="0.7"/>
<circle cx="458.48" cy="293.37" r="2.1" fill="#ff0000" stroke="#111" stroke-width="0.7"/>
<circle cx="458.48" cy="342.80" r="2.1" fill="#ff0000" stroke="#111" stroke-width="0.7"/>
<circle cx="470.84" cy="342.80" r="2.1" fill="#0000ff" stroke="#111" stroke-width="0.7"/>
<circle cx="476.34" cy="319.37" r="2.1" fill="#ff0000" stroke="#111" stroke-width="0.7"/>
<circle cx="476.34" cy="325.14" r="2.1" fill="#ff0000" stroke="#111" stroke-width="0.7"/>
<circle cx="476.34" cy="342.80" r="2.1" fill="#ff0000" stroke="#111" stroke-width="0.7"/>
<circle cx="488.70" cy="342.80" r="2.1" fill="#0000ff" stroke="#111" stroke-width="0.7"/>
<circle cx="494.20" cy="332.85" r="2.1" fill="#ff0000" stroke="#111" stroke-width="0.7"/>
<circle cx="494.20" cy="336.86" r="2.1" fill="#ff0000" stroke="#111" stroke-width="0.7"/>
<circle cx="494.20" cy="341.52" r="2.1" fill="#ff0000" stroke="#111" stroke-width="0.7"/>
<circle cx="506.56" cy="336.38" r="2.1" fill="#0000ff" stroke="#111" stroke-width="0.7"/>
<circle cx="506.56" cy="339.75" r="2.1" fill="#0000ff" stroke="#111" stroke-width="0.7"/>
<circle cx="506.56" cy="342.80" r="2.1" fill="#0000ff" stroke="#111" stroke-width="0.7"/>
<circle cx="512.06" cy="329.32" r="2.1" fill="#ff0000" stroke="#111" stroke-width="0.7"/>
<circle cx="512.06" cy="336.38" r="2.1" fill="#ff0000" stroke="#111" stroke-width="0.7"/>
<circle cx="512.06" cy="340.39" r="2.1" fill="#ff0000" stroke="#111" stroke-width="0.7"/>
<circle cx="512.06" cy="342.80" r="2.1" fill="#ff0000" stroke="#111" stroke-width="0.7"/>
<circle cx="524.42" cy="323.22" r="2.1" fill="#0000ff" stroke="#111" stroke-width="0.7"/>
<circle cx="524.42" cy="330.44" r="2.1" fill="#0000ff" stroke="#111" stroke-width="0.7"/>
<circle cx="529.92" cy="327.07" r="2.1" fill="#ff0000" stroke="#111" stroke-width="0.7"/>
<circle cx="529.92" cy="335.42" r="2.1" fill="#ff0000" stroke="#111" stroke-width="0.7"/>
<circle cx="529.92" cy="339.11" r="2.1" fill="#ff0000" stroke="#111" stroke-width="0.7"/>
<circle cx="529.92" cy="342.80" r="2.1" fill="#ff0000" stroke="#111" stroke-width="0.7"/>
<circle cx="542.28" cy="311.18" r="2.1" fill="#0000ff" stroke="#111" stroke-width="0.7"/>
<circle cx="542.28" cy="323.86" r="2.1" fill="#0000ff" stroke="#111" stroke-width="0.7"/>
<circle cx="547.78" cy="336.38" r="2.1" fill="#ff0000" stroke="#111" stroke-width="0.7"/>
<circle cx="547.78" cy="339.11" r="2.1" fill="#ff0000" stroke="#111" stroke-width="0.7"/>
<circle cx="560.14" cy="306.69" r="2.1" fill="#0000ff" stroke="#111" stroke-width="0.7"/>
<circle cx="560.14" cy="320.97" r="2.1" fill="#0000ff" stroke="#111" stroke-width="0.7"/>
<circle cx="560.14" cy="325.63" r="2.1" fill="#0000ff" stroke="#111" stroke-width="0.7"/>
<circle cx="565.64" cy="294.65" r="2.1" fill="#ff0000" stroke="#111" stroke-width="0.7"/>
<circle cx="565.64" cy="340.87" r="2.1" fill="#ff0000" stroke="#111" stroke-width="0.7"/>
<circle cx="578.00" cy="300.91" r="2.1" fill="#0000ff" stroke="#111" stroke-width="0.7"/>
<circle cx="578.00" cy="304.44" r="2.1" fill="#0000ff" stroke="#111" stroke-width="0.7"/>
<circle cx="578.00" cy="316.00" r="2.1" fill="#0000ff" stroke="#111" stroke-width="0.7"/>
<circle cx="583.50" cy="230.29" r="2.1" fill="#ff0000" stroke="#111" stroke-width="0.7"/>
<circle cx="583.50" cy="342.00" r="2.1" fill="#ff0000" stroke="#111" stroke-width="0.7"/>
<circle cx="595.86" cy="306.37" r="2.1" fill="#0000ff" stroke="#111" stroke-width="0.7"/>
<circle cx="595.86" cy="307.49" r="2.1" fill="#0000ff" stroke="#111" stroke-width="0.7"/>
<circle cx="601.36" cy="341.19" r="2.1" fill="#ff0000" stroke="#111" stroke-width="0.7"/>
<circle cx="601.36" cy="342.80" r="2.1" fill="#ff0000" stroke="#111" stroke-width="0.7"/>
<circle cx="613.72" cy="313.59" r="2.1" fill="#0000ff" stroke="#111" stroke-width="0.7"/>
<circle cx="613.72" cy="329.32" r="2.1" fill="#0000ff" stroke="#111" stroke-width="0.7"/>
<circle cx="619.22" cy="342.80" r="2.1" fill="#ff0000" stroke="#111" stroke-width="0.7"/>
<circle cx="631.58" cy="332.53" r="2.1" fill="#0000ff" stroke="#111" stroke-width="0.7"/>
<circle cx="631.58" cy="336.38" r="2.1" fill="#0000ff" stroke="#111" stroke-width="0.7"/>
<circle cx="631.58" cy="342.80" r="2.1" fill="#0000ff" stroke="#111" stroke-width="0.7"/>
<circle cx="637.08" cy="341.19" r="2.1" fill="#ff0000" stroke="#111" stroke-width="0.7"/>
<circle cx="637.08" cy="342.80" r="2.1" fill="#ff0000" stroke="#111" stroke-width="0.7"/>
<circle cx="649.44" cy="339.59" r="2.1" fill="#0000ff" stroke="#111" stroke-width="0.7"/>
<circle cx="649.44" cy="342.32" r="2.1" fill="#0000ff" stroke="#111" stroke-width="0.7"/>
<circle cx="654.94" cy="341.19" r="2.1" fill="#ff0000" stroke="#111" stroke-width="0.7"/>
<circle cx="654.94" cy="342.80" r="2.1" fill="#ff0000" stroke="#111" stroke-width="0.7"/>
<circle cx="667.30" cy="342.80" r="2.1" fill="#0000ff" stroke="#111" stroke-width="0.7"/>
<circle cx="672.80" cy="342.80" r="2.1" fill="#ff0000" stroke="#111" stroke-width="0.7"/>
<rect x="499.80" y="284.80" width="55.20" height="58.00" fill="rgb(125,115,162)" fill-opacity="0.3"/>
<text transform="translate(379.5,285.80) rotate(-90)" font-size="8.4" fill="#2c2c2c" text-anchor="middle" textLength="65.6" lengthAdjust="spacingAndGlyphs">WB intensity (%)</text>
<text x="513.90" y="367.50" font-size="8.6" fill="#2c2c2c" text-anchor="start" font-weight="normal" textLength="53.8" lengthAdjust="spacingAndGlyphs">AEC fractions</text>
<text x="-0.40" y="396.00" font-size="13" fill="#151515" text-anchor="start" font-weight="bold" stroke="#151515" stroke-width="0.55">c</text>
<path d="M39.7 482.8V485.6M38.6 482.8h2.2M38.6 485.6h2.2M42.1 483.4V486.1M41.0 483.4h2.2M41.0 486.1h2.2M44.5 483.8V486.5M43.4 483.8h2.2M43.4 486.5h2.2M46.9 484.2V486.9M45.8 484.2h2.2M45.8 486.9h2.2M49.3 484.5V487.2M48.2 484.5h2.2M48.2 487.2h2.2M51.7 484.9V487.6M50.6 484.9h2.2M50.6 487.6h2.2M54.1 485.3V488.0M53.0 485.3h2.2M53.0 488.0h2.2M56.5 485.7V488.4M55.4 485.7h2.2M55.4 488.4h2.2M58.9 486.1V488.8M57.8 486.1h2.2M57.8 488.8h2.2M61.3 486.4V489.1M60.2 486.4h2.2M60.2 489.1h2.2M63.7 486.8V489.5M62.6 486.8h2.2M62.6 489.5h2.2M66.1 487.2V489.9M65.0 487.2h2.2M65.0 489.9h2.2M68.5 487.6V490.3M67.4 487.6h2.2M67.4 490.3h2.2M70.9 488.0V490.7M69.8 488.0h2.2M69.8 490.7h2.2M73.3 488.3V491.0M72.2 488.3h2.2M72.2 491.0h2.2M75.7 488.7V491.4M74.6 488.7h2.2M74.6 491.4h2.2M78.1 489.1V491.8M77.0 489.1h2.2M77.0 491.8h2.2M80.5 489.5V492.2M79.4 489.5h2.2M79.4 492.2h2.2M82.9 489.9V492.6M81.8 489.9h2.2M81.8 492.6h2.2M85.3 490.2V492.9M84.2 490.2h2.2M84.2 492.9h2.2M87.7 490.6V493.3M86.6 490.6h2.2M86.6 493.3h2.2M90.1 491.0V493.7M89.0 491.0h2.2M89.0 493.7h2.2M92.5 491.4V494.1M91.4 491.4h2.2M91.4 494.1h2.2M94.9 491.8V494.5M93.8 491.8h2.2M93.8 494.5h2.2M97.3 492.1V494.8M96.2 492.1h2.2M96.2 494.8h2.2M99.7 492.5V495.2M98.6 492.5h2.2M98.6 495.2h2.2M102.1 492.9V495.6M101.0 492.9h2.2M101.0 495.6h2.2M104.5 493.3V496.0M103.4 493.3h2.2M103.4 496.0h2.2M106.9 493.7V496.4M105.8 493.7h2.2M105.8 496.4h2.2M109.3 494.0V496.7M108.2 494.0h2.2M108.2 496.7h2.2M111.7 494.4V497.1M110.6 494.4h2.2M110.6 497.1h2.2M114.1 494.8V497.5M113.0 494.8h2.2M113.0 497.5h2.2M116.5 495.2V497.9M115.4 495.2h2.2M115.4 497.9h2.2M118.9 495.6V498.3M117.8 495.6h2.2M117.8 498.3h2.2M121.3 495.9V498.6M120.2 495.9h2.2M120.2 498.6h2.2M123.7 496.3V499.0M122.6 496.3h2.2M122.6 499.0h2.2M126.1 496.7V499.4M125.0 496.7h2.2M125.0 499.4h2.2M128.5 497.1V499.8M127.4 497.1h2.2M127.4 499.8h2.2M130.9 497.5V500.2M129.8 497.5h2.2M129.8 500.2h2.2M133.3 497.8V500.5M132.2 497.8h2.2M132.2 500.5h2.2M135.7 498.2V500.9M134.6 498.2h2.2M134.6 500.9h2.2M138.1 498.6V501.3M137.0 498.6h2.2M137.0 501.3h2.2M140.5 499.0V501.7M139.4 499.0h2.2M139.4 501.7h2.2M142.9 499.4V502.1M141.8 499.4h2.2M141.8 502.1h2.2M145.3 499.7V502.4M144.2 499.7h2.2M144.2 502.4h2.2M147.7 500.1V502.8M146.6 500.1h2.2M146.6 502.8h2.2M150.1 500.5V503.2M149.0 500.5h2.2M149.0 503.2h2.2M152.5 500.7V503.4M151.4 500.7h2.2M151.4 503.4h2.2" stroke="#d2d2d2" stroke-width="0.4" fill="none"/>
<polyline points="38.50,483.87 39.40,484.51 40.30,484.23 41.20,484.23 42.10,484.88 43.00,485.30 43.90,485.05 44.80,485.02 45.70,484.97 46.60,485.85 47.50,486.01 48.40,485.52 49.30,485.74 50.20,485.55 51.10,485.86 52.00,486.35 52.90,486.55 53.80,485.79 54.70,486.84 55.60,487.14 56.50,487.39 57.40,487.14 58.30,487.27 59.20,487.57 60.10,487.62 61.00,487.66 61.90,487.67 62.80,487.68 63.70,488.10 64.60,488.88 65.50,488.23 66.40,489.05 67.30,488.79 68.20,489.35 69.10,489.02 70.00,489.41 70.90,489.24 71.80,488.41 72.70,489.61 73.60,489.47 74.50,490.30 75.40,490.11 76.30,489.96 77.20,490.34 78.10,490.33 79.00,490.56 79.90,491.05 80.80,490.70 81.70,491.28 82.60,490.57 83.50,491.46 84.40,491.23 85.30,491.59 86.20,491.43 87.10,492.06 88.00,491.70 88.90,492.20 89.80,491.90 90.70,492.25 91.60,492.54 92.50,492.98 93.40,492.63 94.30,492.87 95.20,492.64 96.10,493.42 97.00,493.27 97.90,493.42 98.80,493.64 99.70,493.80 100.60,493.95 101.50,494.34 102.40,494.62 103.30,494.56 104.20,494.39 105.10,494.25 106.00,494.56 106.90,494.68 107.80,494.91 108.70,495.07 109.60,495.38 110.50,495.34 111.40,495.16 112.30,495.97 113.20,496.23 114.10,495.53 115.00,496.21 115.90,496.13 116.80,496.30 117.70,497.08 118.60,496.09 119.50,496.44 120.40,497.09 121.30,497.05 122.20,497.39 123.10,497.85 124.00,497.75 124.90,497.74 125.80,497.65 126.70,497.92 127.60,498.27 128.50,498.00 129.40,498.81 130.30,498.46 131.20,498.50 132.10,499.09 133.00,499.71 133.90,499.57 134.80,499.35 135.70,499.40 136.60,499.22 137.50,500.17 138.40,500.00 139.30,499.93 140.20,500.33 141.10,501.17 142.00,500.31 142.90,499.98 143.80,500.53 144.70,501.28 145.60,501.27 146.50,501.21 147.40,500.63 148.30,501.36 149.20,501.65 150.10,501.31 151.00,501.94 151.90,501.42" fill="none" stroke="#2f8ff0" stroke-width="1.45" stroke-linejoin="round"/>
<path d="M39.7 481.8V484.5M38.6 481.8h2.2M38.6 484.5h2.2M42.1 481.3V484.0M41.0 481.3h2.2M41.0 484.0h2.2M44.5 480.7V483.4M43.4 480.7h2.2M43.4 483.4h2.2M46.9 480.6V483.3M45.8 480.6h2.2M45.8 483.3h2.2M49.3 480.7V483.4M48.2 480.7h2.2M48.2 483.4h2.2M51.7 481.0V483.7M50.6 481.0h2.2M50.6 483.7h2.2M54.1 481.3V484.0M53.0 481.3h2.2M53.0 484.0h2.2M56.5 481.6V484.3M55.4 481.6h2.2M55.4 484.3h2.2M58.9 481.9V484.6M57.8 481.9h2.2M57.8 484.6h2.2M61.3 482.2V484.9M60.2 482.2h2.2M60.2 484.9h2.2M63.7 482.5V485.2M62.6 482.5h2.2M62.6 485.2h2.2M66.1 482.8V485.5M65.0 482.8h2.2M65.0 485.5h2.2M68.5 483.1V485.8M67.4 483.1h2.2M67.4 485.8h2.2M70.9 483.4V486.1M69.8 483.4h2.2M69.8 486.1h2.2M73.3 483.7V486.4M72.2 483.7h2.2M72.2 486.4h2.2M75.7 484.0V486.7M74.6 484.0h2.2M74.6 486.7h2.2M78.1 484.3V487.0M77.0 484.3h2.2M77.0 487.0h2.2M80.5 484.6V487.3M79.4 484.6h2.2M79.4 487.3h2.2M82.9 484.9V487.6M81.8 484.9h2.2M81.8 487.6h2.2M85.3 485.1V487.9M84.2 485.1h2.2M84.2 487.9h2.2M87.7 485.4V488.2M86.6 485.4h2.2M86.6 488.2h2.2M90.1 485.7V488.4M89.0 485.7h2.2M89.0 488.4h2.2M92.5 486.0V488.7M91.4 486.0h2.2M91.4 488.7h2.2M94.9 486.3V489.0M93.8 486.3h2.2M93.8 489.0h2.2M97.3 486.6V489.3M96.2 486.6h2.2M96.2 489.3h2.2M99.7 486.9V489.6M98.6 486.9h2.2M98.6 489.6h2.2M102.1 487.2V489.9M101.0 487.2h2.2M101.0 489.9h2.2M104.5 487.5V490.2M103.4 487.5h2.2M103.4 490.2h2.2M106.9 487.8V490.5M105.8 487.8h2.2M105.8 490.5h2.2M109.3 488.1V490.8M108.2 488.1h2.2M108.2 490.8h2.2M111.7 488.4V491.1M110.6 488.4h2.2M110.6 491.1h2.2M114.1 488.7V491.4M113.0 488.7h2.2M113.0 491.4h2.2M116.5 489.0V491.7M115.4 489.0h2.2M115.4 491.7h2.2M118.9 489.3V492.0M117.8 489.3h2.2M117.8 492.0h2.2M121.3 489.6V492.3M120.2 489.6h2.2M120.2 492.3h2.2M123.7 489.9V492.6M122.6 489.9h2.2M122.6 492.6h2.2M126.1 490.2V492.9M125.0 490.2h2.2M125.0 492.9h2.2M128.5 490.5V493.2M127.4 490.5h2.2M127.4 493.2h2.2M130.9 490.8V493.5M129.8 490.8h2.2M129.8 493.5h2.2M133.3 491.1V493.8M132.2 491.1h2.2M132.2 493.8h2.2M135.7 491.4V494.1M134.6 491.4h2.2M134.6 494.1h2.2M138.1 491.7V494.4M137.0 491.7h2.2M137.0 494.4h2.2M140.5 492.0V494.7M139.4 492.0h2.2M139.4 494.7h2.2M142.9 492.2V495.0M141.8 492.2h2.2M141.8 495.0h2.2M145.3 492.5V495.2M144.2 492.5h2.2M144.2 495.2h2.2M147.7 492.8V495.5M146.6 492.8h2.2M146.6 495.5h2.2M150.1 493.1V495.8M149.0 493.1h2.2M149.0 495.8h2.2M152.5 493.3V496.0M151.4 493.3h2.2M151.4 496.0h2.2" stroke="#d2d2d2" stroke-width="0.4" fill="none"/>
<polyline points="38.50,483.22 39.40,483.39 40.30,483.19 41.20,482.62 42.10,482.16 43.00,482.18 43.90,482.09 44.80,482.61 45.70,482.18 46.60,482.12 47.50,482.11 48.40,481.82 49.30,482.19 50.20,481.94 51.10,482.26 52.00,482.50 52.90,482.47 53.80,482.48 54.70,482.46 55.60,482.99 56.50,483.03 57.40,483.49 58.30,482.67 59.20,482.83 60.10,483.45 61.00,483.66 61.90,484.01 62.80,483.67 63.70,483.77 64.60,483.26 65.50,483.98 66.40,484.42 67.30,485.05 68.20,483.95 69.10,484.44 70.00,485.12 70.90,484.67 71.80,485.35 72.70,483.85 73.60,484.71 74.50,484.99 75.40,485.34 76.30,486.07 77.20,485.54 78.10,486.10 79.00,485.54 79.90,486.51 80.80,486.23 81.70,485.67 82.60,485.65 83.50,486.65 84.40,486.87 85.30,486.22 86.20,486.34 87.10,487.03 88.00,487.05 88.90,487.16 89.80,487.43 90.70,487.38 91.60,486.88 92.50,487.17 93.40,486.85 94.30,487.64 95.20,487.76 96.10,488.14 97.00,487.98 97.90,488.47 98.80,488.73 99.70,488.06 100.60,487.93 101.50,488.23 102.40,488.19 103.30,488.64 104.20,489.06 105.10,488.91 106.00,489.17 106.90,489.51 107.80,489.81 108.70,489.85 109.60,489.50 110.50,489.56 111.40,489.87 112.30,489.38 113.20,489.88 114.10,489.87 115.00,489.78 115.90,490.53 116.80,491.01 117.70,490.26 118.60,490.82 119.50,490.30 120.40,490.72 121.30,490.62 122.20,490.81 123.10,491.82 124.00,491.04 124.90,491.59 125.80,491.73 126.70,491.74 127.60,491.47 128.50,491.55 129.40,491.62 130.30,492.57 131.20,492.34 132.10,493.02 133.00,492.41 133.90,492.30 134.80,492.84 135.70,492.64 136.60,492.75 137.50,492.62 138.40,493.30 139.30,493.42 140.20,493.51 141.10,492.82 142.00,493.14 142.90,493.64 143.80,493.64 144.70,493.79 145.60,493.87 146.50,494.11 147.40,494.26 148.30,494.65 149.20,494.56 150.10,493.93 151.00,494.37 151.90,494.59" fill="none" stroke="#d83a3a" stroke-width="1.45" stroke-linejoin="round"/>
<path d="M39.7 481.6V484.3M38.6 481.6h2.2M38.6 484.3h2.2M42.1 480.7V483.4M41.0 480.7h2.2M41.0 483.4h2.2M44.5 479.6V482.3M43.4 479.6h2.2M43.4 482.3h2.2M46.9 478.7V481.4M45.8 478.7h2.2M45.8 481.4h2.2M49.3 478.3V481.0M48.2 478.3h2.2M48.2 481.0h2.2M51.7 478.3V481.0M50.6 478.3h2.2M50.6 481.0h2.2M54.1 478.5V481.2M53.0 478.5h2.2M53.0 481.2h2.2M56.5 478.7V481.4M55.4 478.7h2.2M55.4 481.4h2.2M58.9 479.0V481.7M57.8 479.0h2.2M57.8 481.7h2.2M61.3 479.2V481.9M60.2 479.2h2.2M60.2 481.9h2.2M63.7 479.4V482.1M62.6 479.4h2.2M62.6 482.1h2.2M66.1 479.7V482.4M65.0 479.7h2.2M65.0 482.4h2.2M68.5 479.9V482.6M67.4 479.9h2.2M67.4 482.6h2.2M70.9 480.1V482.8M69.8 480.1h2.2M69.8 482.8h2.2M73.3 480.4V483.1M72.2 480.4h2.2M72.2 483.1h2.2M75.7 480.6V483.3M74.6 480.6h2.2M74.6 483.3h2.2M78.1 480.8V483.5M77.0 480.8h2.2M77.0 483.5h2.2M80.5 481.1V483.8M79.4 481.1h2.2M79.4 483.8h2.2M82.9 481.3V484.0M81.8 481.3h2.2M81.8 484.0h2.2M85.3 481.5V484.2M84.2 481.5h2.2M84.2 484.2h2.2M87.7 481.7V484.5M86.6 481.7h2.2M86.6 484.5h2.2M90.1 482.0V484.7M89.0 482.0h2.2M89.0 484.7h2.2M92.5 482.2V484.9M91.4 482.2h2.2M91.4 484.9h2.2M94.9 482.4V485.2M93.8 482.4h2.2M93.8 485.2h2.2M97.3 482.7V485.4M96.2 482.7h2.2M96.2 485.4h2.2M99.7 482.9V485.6M98.6 482.9h2.2M98.6 485.6h2.2M102.1 483.1V485.8M101.0 483.1h2.2M101.0 485.8h2.2M104.5 483.4V486.1M103.4 483.4h2.2M103.4 486.1h2.2M106.9 483.6V486.3M105.8 483.6h2.2M105.8 486.3h2.2M109.3 483.8V486.5M108.2 483.8h2.2M108.2 486.5h2.2M111.7 484.1V486.8M110.6 484.1h2.2M110.6 486.8h2.2M114.1 484.3V487.0M113.0 484.3h2.2M113.0 487.0h2.2M116.5 484.5V487.2M115.4 484.5h2.2M115.4 487.2h2.2M118.9 484.8V487.5M117.8 484.8h2.2M117.8 487.5h2.2M121.3 485.0V487.7M120.2 485.0h2.2M120.2 487.7h2.2M123.7 485.2V487.9M122.6 485.2h2.2M122.6 487.9h2.2M126.1 485.5V488.2M125.0 485.5h2.2M125.0 488.2h2.2M128.5 485.7V488.4M127.4 485.7h2.2M127.4 488.4h2.2M130.9 485.9V488.6M129.8 485.9h2.2M129.8 488.6h2.2M133.3 486.2V488.9M132.2 486.2h2.2M132.2 488.9h2.2M135.7 486.4V489.1M134.6 486.4h2.2M134.6 489.1h2.2M138.1 486.6V489.3M137.0 486.6h2.2M137.0 489.3h2.2M140.5 486.9V489.6M139.4 486.9h2.2M139.4 489.6h2.2M142.9 487.1V489.8M141.8 487.1h2.2M141.8 489.8h2.2M145.3 487.3V490.0M144.2 487.3h2.2M144.2 490.0h2.2M147.7 487.5V490.3M146.6 487.5h2.2M146.6 490.3h2.2M150.1 487.8V490.5M149.0 487.8h2.2M149.0 490.5h2.2M152.5 487.9V490.6M151.4 487.9h2.2M151.4 490.6h2.2" stroke="#d2d2d2" stroke-width="0.4" fill="none"/>
<polyline points="38.50,483.11 39.40,483.07 40.30,482.76 41.20,482.36 42.10,482.30 43.00,481.62 43.90,481.18 44.80,481.08 45.70,480.72 46.60,480.47 47.50,480.25 48.40,479.47 49.30,480.40 50.20,479.71 51.10,479.83 52.00,479.88 52.90,479.72 53.80,479.47 54.70,479.89 55.60,480.04 56.50,480.28 57.40,480.21 58.30,479.97 59.20,480.47 60.10,480.80 61.00,480.92 61.90,480.96 62.80,481.14 63.70,480.44 64.60,480.76 65.50,481.03 66.40,480.58 67.30,481.34 68.20,480.98 69.10,481.05 70.00,481.88 70.90,481.97 71.80,481.86 72.70,481.37 73.60,481.33 74.50,482.22 75.40,481.58 76.30,482.12 77.20,482.21 78.10,482.35 79.00,482.36 79.90,482.92 80.80,482.75 81.70,482.91 82.60,482.46 83.50,482.04 84.40,481.92 85.30,482.98 86.20,483.50 87.10,483.17 88.00,483.43 88.90,482.59 89.80,483.13 90.70,483.62 91.60,483.19 92.50,483.40 93.40,484.17 94.30,483.91 95.20,483.90 96.10,483.91 97.00,483.96 97.90,484.20 98.80,484.12 99.70,484.45 100.60,484.63 101.50,483.96 102.40,484.41 103.30,484.47 104.20,485.20 105.10,484.84 106.00,484.61 106.90,485.37 107.80,484.70 108.70,485.26 109.60,485.09 110.50,485.35 111.40,485.33 112.30,485.10 113.20,485.70 114.10,485.16 115.00,485.99 115.90,486.12 116.80,485.69 117.70,486.34 118.60,486.21 119.50,485.89 120.40,485.88 121.30,486.91 122.20,486.28 123.10,485.93 124.00,486.24 124.90,486.78 125.80,486.98 126.70,486.97 127.60,487.33 128.50,487.13 129.40,487.19 130.30,487.27 131.20,486.94 132.10,487.47 133.00,487.94 133.90,487.24 134.80,488.00 135.70,487.89 136.60,487.87 137.50,488.03 138.40,488.32 139.30,488.17 140.20,487.49 141.10,488.46 142.00,488.40 142.90,488.09 143.80,488.29 144.70,488.37 145.60,488.43 146.50,489.41 147.40,489.15 148.30,488.92 149.20,488.88 150.10,488.70 151.00,489.03 151.90,489.31" fill="none" stroke="#3aaa5a" stroke-width="1.45" stroke-linejoin="round"/>
<path d="M39.7 481.5V484.2M38.6 481.5h2.2M38.6 484.2h2.2M42.1 480.5V483.2M41.0 480.5h2.2M41.0 483.2h2.2M44.5 479.1V481.8M43.4 479.1h2.2M43.4 481.8h2.2M46.9 477.7V480.4M45.8 477.7h2.2M45.8 480.4h2.2M49.3 476.5V479.2M48.2 476.5h2.2M48.2 479.2h2.2M51.7 475.6V478.4M50.6 475.6h2.2M50.6 478.4h2.2M54.1 475.3V478.0M53.0 475.3h2.2M53.0 478.0h2.2M56.5 475.1V477.8M55.4 475.1h2.2M55.4 477.8h2.2M58.9 474.9V477.6M57.8 474.9h2.2M57.8 477.6h2.2M61.3 474.8V477.5M60.2 474.8h2.2M60.2 477.5h2.2M63.7 474.7V477.4M62.6 474.7h2.2M62.6 477.4h2.2M66.1 474.6V477.3M65.0 474.6h2.2M65.0 477.3h2.2M68.5 474.4V477.1M67.4 474.4h2.2M67.4 477.1h2.2M70.9 474.3V477.0M69.8 474.3h2.2M69.8 477.0h2.2M73.3 474.2V476.9M72.2 474.2h2.2M72.2 476.9h2.2M75.7 474.0V476.7M74.6 474.0h2.2M74.6 476.7h2.2M78.1 473.9V476.6M77.0 473.9h2.2M77.0 476.6h2.2M80.5 473.8V476.5M79.4 473.8h2.2M79.4 476.5h2.2M82.9 473.7V476.4M81.8 473.7h2.2M81.8 476.4h2.2M85.3 473.6V476.3M84.2 473.6h2.2M84.2 476.3h2.2M87.7 473.6V476.3M86.6 473.6h2.2M86.6 476.3h2.2M90.1 473.7V476.4M89.0 473.7h2.2M89.0 476.4h2.2M92.5 473.8V476.5M91.4 473.8h2.2M91.4 476.5h2.2M94.9 473.9V476.6M93.8 473.9h2.2M93.8 476.6h2.2M97.3 474.1V476.8M96.2 474.1h2.2M96.2 476.8h2.2M99.7 474.2V476.9M98.6 474.2h2.2M98.6 476.9h2.2M102.1 474.3V477.1M101.0 474.3h2.2M101.0 477.1h2.2M104.5 474.5V477.2M103.4 474.5h2.2M103.4 477.2h2.2M106.9 474.6V477.3M105.8 474.6h2.2M105.8 477.3h2.2M109.3 474.7V477.5M108.2 474.7h2.2M108.2 477.5h2.2M111.7 474.9V477.6M110.6 474.9h2.2M110.6 477.6h2.2M114.1 475.0V477.7M113.0 475.0h2.2M113.0 477.7h2.2M116.5 475.2V477.9M115.4 475.2h2.2M115.4 477.9h2.2M118.9 475.3V478.0M117.8 475.3h2.2M117.8 478.0h2.2M121.3 475.4V478.1M120.2 475.4h2.2M120.2 478.1h2.2M123.7 475.6V478.3M122.6 475.6h2.2M122.6 478.3h2.2M126.1 475.7V478.4M125.0 475.7h2.2M125.0 478.4h2.2M128.5 475.8V478.5M127.4 475.8h2.2M127.4 478.5h2.2M130.9 476.0V478.7M129.8 476.0h2.2M129.8 478.7h2.2M133.3 476.1V478.8M132.2 476.1h2.2M132.2 478.8h2.2M135.7 476.2V478.9M134.6 476.2h2.2M134.6 478.9h2.2M138.1 476.4V479.1M137.0 476.4h2.2M137.0 479.1h2.2M140.5 476.5V479.2M139.4 476.5h2.2M139.4 479.2h2.2M142.9 476.6V479.4M141.8 476.6h2.2M141.8 479.4h2.2M145.3 476.8V479.5M144.2 476.8h2.2M144.2 479.5h2.2M147.7 476.9V479.6M146.6 476.9h2.2M146.6 479.6h2.2M150.1 477.0V479.7M149.0 477.0h2.2M149.0 479.7h2.2M152.5 477.1V479.8M151.4 477.1h2.2M151.4 479.8h2.2" stroke="#d2d2d2" stroke-width="0.4" fill="none"/>
<polyline points="38.50,483.03 39.40,482.88 40.30,482.70 41.20,482.19 42.10,481.61 43.00,481.44 43.90,481.07 44.80,480.54 45.70,479.39 46.60,478.80 47.50,478.38 48.40,477.96 49.30,477.54 50.20,477.45 51.10,476.95 52.00,477.26 52.90,476.83 53.80,476.87 54.70,476.32 55.60,476.66 56.50,476.46 57.40,476.24 58.30,475.89 59.20,476.52 60.10,476.52 61.00,475.92 61.90,476.48 62.80,475.94 63.70,476.21 64.60,476.02 65.50,476.51 66.40,475.66 67.30,476.00 68.20,476.08 69.10,475.09 70.00,475.47 70.90,474.54 71.80,475.47 72.70,475.66 73.60,475.47 74.50,474.95 75.40,475.42 76.30,475.22 77.20,475.15 78.10,475.55 79.00,475.18 79.90,475.33 80.80,475.52 81.70,474.80 82.60,474.82 83.50,474.97 84.40,475.25 85.30,475.58 86.20,474.78 87.10,474.97 88.00,475.49 88.90,475.00 89.80,475.50 90.70,475.07 91.60,475.06 92.50,475.05 93.40,475.14 94.30,475.20 95.20,475.67 96.10,475.48 97.00,475.57 97.90,475.53 98.80,475.43 99.70,475.37 100.60,475.10 101.50,476.47 102.40,475.59 103.30,475.83 104.20,475.10 105.10,475.57 106.00,476.44 106.90,475.84 107.80,476.18 108.70,475.76 109.60,476.45 110.50,476.20 111.40,476.26 112.30,476.30 113.20,476.51 114.10,476.95 115.00,476.28 115.90,476.16 116.80,476.55 117.70,476.90 118.60,476.56 119.50,476.50 120.40,476.79 121.30,476.78 122.20,476.39 123.10,477.24 124.00,477.11 124.90,477.59 125.80,477.26 126.70,477.32 127.60,477.44 128.50,477.41 129.40,476.67 130.30,477.35 131.20,477.37 132.10,476.70 133.00,477.46 133.90,478.04 134.80,477.41 135.70,477.89 136.60,477.13 137.50,478.09 138.40,477.93 139.30,478.30 140.20,477.82 141.10,478.22 142.00,477.97 142.90,478.12 143.80,478.24 144.70,477.80 145.60,477.86 146.50,478.18 147.40,478.54 148.30,478.64 149.20,478.26 150.10,477.63 151.00,478.57 151.90,478.71" fill="none" stroke="#8a2be8" stroke-width="1.45" stroke-linejoin="round"/>
<path d="M39.7 481.0V483.7M38.6 481.0h2.2M38.6 483.7h2.2M42.1 479.6V482.3M41.0 479.6h2.2M41.0 482.3h2.2M44.5 477.6V480.3M43.4 477.6h2.2M43.4 480.3h2.2M46.9 475.6V478.3M45.8 475.6h2.2M45.8 478.3h2.2M49.3 473.9V476.6M48.2 473.9h2.2M48.2 476.6h2.2M51.7 472.7V475.4M50.6 472.7h2.2M50.6 475.4h2.2M54.1 472.0V474.7M53.0 472.0h2.2M53.0 474.7h2.2M56.5 471.6V474.3M55.4 471.6h2.2M55.4 474.3h2.2M58.9 471.2V474.0M57.8 471.2h2.2M57.8 474.0h2.2M61.3 470.9V473.6M60.2 470.9h2.2M60.2 473.6h2.2M63.7 470.6V473.3M62.6 470.6h2.2M62.6 473.3h2.2M66.1 470.2V472.9M65.0 470.2h2.2M65.0 472.9h2.2M68.5 469.9V472.6M67.4 469.9h2.2M67.4 472.6h2.2M70.9 469.5V472.2M69.8 469.5h2.2M69.8 472.2h2.2M73.3 469.2V471.9M72.2 469.2h2.2M72.2 471.9h2.2M75.7 468.9V471.6M74.6 468.9h2.2M74.6 471.6h2.2M78.1 468.5V471.3M77.0 468.5h2.2M77.0 471.3h2.2M80.5 468.3V471.0M79.4 468.3h2.2M79.4 471.0h2.2M82.9 468.3V471.0M81.8 468.3h2.2M81.8 471.0h2.2M85.3 468.3V471.0M84.2 468.3h2.2M84.2 471.0h2.2M87.7 468.3V471.0M86.6 468.3h2.2M86.6 471.0h2.2M90.1 468.3V471.1M89.0 468.3h2.2M89.0 471.1h2.2M92.5 468.4V471.1M91.4 468.4h2.2M91.4 471.1h2.2M94.9 468.4V471.1M93.8 468.4h2.2M93.8 471.1h2.2M97.3 468.5V471.2M96.2 468.5h2.2M96.2 471.2h2.2M99.7 468.5V471.2M98.6 468.5h2.2M98.6 471.2h2.2M102.1 468.6V471.3M101.0 468.6h2.2M101.0 471.3h2.2M104.5 468.6V471.3M103.4 468.6h2.2M103.4 471.3h2.2M106.9 468.7V471.4M105.8 468.7h2.2M105.8 471.4h2.2M109.3 468.7V471.4M108.2 468.7h2.2M108.2 471.4h2.2M111.7 468.7V471.5M110.6 468.7h2.2M110.6 471.5h2.2M114.1 468.8V471.5M113.0 468.8h2.2M113.0 471.5h2.2M116.5 468.8V471.5M115.4 468.8h2.2M115.4 471.5h2.2M118.9 468.9V471.6M117.8 468.9h2.2M117.8 471.6h2.2M121.3 468.9V471.6M120.2 468.9h2.2M120.2 471.6h2.2M123.7 469.0V471.7M122.6 469.0h2.2M122.6 471.7h2.2M126.1 469.0V471.7M125.0 469.0h2.2M125.0 471.7h2.2M128.5 469.1V471.8M127.4 469.1h2.2M127.4 471.8h2.2M130.9 469.1V471.8M129.8 469.1h2.2M129.8 471.8h2.2M133.3 469.2V471.9M132.2 469.2h2.2M132.2 471.9h2.2M135.7 469.2V471.9M134.6 469.2h2.2M134.6 471.9h2.2M138.1 469.2V472.0M137.0 469.2h2.2M137.0 472.0h2.2M140.5 469.3V472.0M139.4 469.3h2.2M139.4 472.0h2.2M142.9 469.3V472.0M141.8 469.3h2.2M141.8 472.0h2.2M145.3 469.4V472.1M144.2 469.4h2.2M144.2 472.1h2.2M147.7 469.4V472.1M146.6 469.4h2.2M146.6 472.1h2.2M150.1 469.5V472.2M149.0 469.5h2.2M149.0 472.2h2.2M152.5 469.5V472.2M151.4 469.5h2.2M151.4 472.2h2.2" stroke="#d2d2d2" stroke-width="0.4" fill="none"/>
<polyline points="38.50,482.77 39.40,482.73 40.30,482.44 41.20,481.86 42.10,480.98 43.00,479.77 43.90,479.49 44.80,478.89 45.70,478.49 46.60,477.17 47.50,476.53 48.40,476.25 49.30,475.60 50.20,474.75 51.10,473.97 52.00,473.74 52.90,473.59 53.80,473.54 54.70,473.15 55.60,473.10 56.50,472.27 57.40,473.18 58.30,472.80 59.20,472.16 60.10,472.51 61.00,471.85 61.90,472.19 62.80,472.00 63.70,472.03 64.60,472.22 65.50,471.97 66.40,470.83 67.30,471.20 68.20,471.08 69.10,470.84 70.00,470.84 70.90,470.56 71.80,470.84 72.70,470.70 73.60,470.19 74.50,470.49 75.40,470.67 76.30,470.20 77.20,470.18 78.10,469.71 79.00,470.04 79.90,470.07 80.80,469.78 81.70,469.14 82.60,469.62 83.50,469.55 84.40,469.60 85.30,469.52 86.20,469.33 87.10,469.20 88.00,470.18 88.90,469.24 89.80,469.69 90.70,469.81 91.60,468.97 92.50,469.80 93.40,469.14 94.30,469.47 95.20,470.12 96.10,469.66 97.00,469.59 97.90,469.88 98.80,470.60 99.70,469.99 100.60,469.95 101.50,470.26 102.40,469.35 103.30,470.02 104.20,470.09 105.10,470.07 106.00,470.24 106.90,470.26 107.80,470.00 108.70,469.95 109.60,470.22 110.50,470.11 111.40,470.54 112.30,469.95 113.20,470.37 114.10,470.08 115.00,470.45 115.90,470.34 116.80,470.13 117.70,470.60 118.60,469.45 119.50,470.26 120.40,470.29 121.30,470.52 122.20,469.80 123.10,469.88 124.00,470.24 124.90,470.78 125.80,470.53 126.70,470.19 127.60,470.56 128.50,470.79 129.40,470.81 130.30,470.70 131.20,470.46 132.10,470.69 133.00,470.50 133.90,469.64 134.80,469.98 135.70,470.88 136.60,470.46 137.50,470.56 138.40,470.65 139.30,470.29 140.20,470.74 141.10,470.76 142.00,470.79 142.90,470.72 143.80,470.30 144.70,470.48 145.60,471.16 146.50,470.90 147.40,471.03 148.30,470.53 149.20,470.73 150.10,470.54 151.00,470.85 151.90,471.45" fill="none" stroke="#1aa6c8" stroke-width="1.45" stroke-linejoin="round"/>
<path d="M39.7 480.9V483.6M38.6 480.9h2.2M38.6 483.6h2.2M42.1 479.3V482.0M41.0 479.3h2.2M41.0 482.0h2.2M44.5 477.2V479.9M43.4 477.2h2.2M43.4 479.9h2.2M46.9 475.0V477.7M45.8 475.0h2.2M45.8 477.7h2.2M49.3 473.0V475.7M48.2 473.0h2.2M48.2 475.7h2.2M51.7 471.3V474.0M50.6 471.3h2.2M50.6 474.0h2.2M54.1 470.0V472.7M53.0 470.0h2.2M53.0 472.7h2.2M56.5 468.9V471.6M55.4 468.9h2.2M55.4 471.6h2.2M58.9 467.9V470.6M57.8 467.9h2.2M57.8 470.6h2.2M61.3 466.8V469.5M60.2 466.8h2.2M60.2 469.5h2.2M63.7 465.8V468.5M62.6 465.8h2.2M62.6 468.5h2.2M66.1 464.8V467.5M65.0 464.8h2.2M65.0 467.5h2.2M68.5 464.0V466.7M67.4 464.0h2.2M67.4 466.7h2.2M70.9 463.5V466.2M69.8 463.5h2.2M69.8 466.2h2.2M73.3 463.2V466.0M72.2 463.2h2.2M72.2 466.0h2.2M75.7 463.0V465.7M74.6 463.0h2.2M74.6 465.7h2.2M78.1 462.8V465.5M77.0 462.8h2.2M77.0 465.5h2.2M80.5 462.6V465.3M79.4 462.6h2.2M79.4 465.3h2.2M82.9 462.4V465.1M81.8 462.4h2.2M81.8 465.1h2.2M85.3 462.2V464.9M84.2 462.2h2.2M84.2 464.9h2.2M87.7 462.0V464.7M86.6 462.0h2.2M86.6 464.7h2.2M90.1 461.8V464.5M89.0 461.8h2.2M89.0 464.5h2.2M92.5 461.5V464.3M91.4 461.5h2.2M91.4 464.3h2.2M94.9 461.3V464.0M93.8 461.3h2.2M93.8 464.0h2.2M97.3 461.1V463.8M96.2 461.1h2.2M96.2 463.8h2.2M99.7 460.9V463.6M98.6 460.9h2.2M98.6 463.6h2.2M102.1 460.7V463.4M101.0 460.7h2.2M101.0 463.4h2.2M104.5 460.6V463.3M103.4 460.6h2.2M103.4 463.3h2.2M106.9 460.5V463.2M105.8 460.5h2.2M105.8 463.2h2.2M109.3 460.4V463.2M108.2 460.4h2.2M108.2 463.2h2.2M111.7 460.4V463.1M110.6 460.4h2.2M110.6 463.1h2.2M114.1 460.4V463.1M113.0 460.4h2.2M113.0 463.1h2.2M116.5 460.4V463.1M115.4 460.4h2.2M115.4 463.1h2.2M118.9 460.4V463.1M117.8 460.4h2.2M117.8 463.1h2.2M121.3 460.3V463.0M120.2 460.3h2.2M120.2 463.0h2.2M123.7 460.3V463.0M122.6 460.3h2.2M122.6 463.0h2.2M126.1 460.3V463.0M125.0 460.3h2.2M125.0 463.0h2.2M128.5 460.3V463.0M127.4 460.3h2.2M127.4 463.0h2.2M130.9 460.2V463.0M129.8 460.2h2.2M129.8 463.0h2.2M133.3 460.2V462.9M132.2 460.2h2.2M132.2 462.9h2.2M135.7 460.2V462.9M134.6 460.2h2.2M134.6 462.9h2.2M138.1 460.2V462.9M137.0 460.2h2.2M137.0 462.9h2.2M140.5 460.2V462.9M139.4 460.2h2.2M139.4 462.9h2.2M142.9 460.1V462.8M141.8 460.1h2.2M141.8 462.8h2.2M145.3 460.1V462.8M144.2 460.1h2.2M144.2 462.8h2.2M147.7 460.1V462.8M146.6 460.1h2.2M146.6 462.8h2.2M150.1 460.1V462.8M149.0 460.1h2.2M149.0 462.8h2.2M152.5 460.1V462.8M151.4 460.1h2.2M151.4 462.8h2.2" stroke="#d2d2d2" stroke-width="0.4" fill="none"/>
<polyline points="38.50,482.69 39.40,482.24 40.30,481.85 41.20,481.17 42.10,481.05 43.00,479.85 43.90,479.29 44.80,478.47 45.70,477.32 46.60,476.50 47.50,476.09 48.40,475.58 49.30,475.10 50.20,473.83 51.10,472.68 52.00,472.50 52.90,472.70 53.80,471.80 54.70,470.96 55.60,470.15 56.50,469.90 57.40,469.76 58.30,469.42 59.20,469.42 60.10,468.83 61.00,468.40 61.90,468.15 62.80,467.49 63.70,467.25 64.60,466.64 65.50,465.93 66.40,465.81 67.30,465.60 68.20,465.54 69.10,465.71 70.00,465.08 70.90,464.72 71.80,465.08 72.70,464.26 73.60,464.67 74.50,464.36 75.40,464.50 76.30,464.72 77.20,463.59 78.10,464.53 79.00,463.79 79.90,464.18 80.80,463.84 81.70,464.10 82.60,463.90 83.50,463.40 84.40,462.99 85.30,463.80 86.20,463.45 87.10,463.07 88.00,463.49 88.90,462.99 89.80,463.38 90.70,462.87 91.60,462.84 92.50,462.52 93.40,462.70 94.30,463.12 95.20,462.45 96.10,462.93 97.00,462.27 97.90,461.95 98.80,462.16 99.70,462.44 100.60,461.82 101.50,462.07 102.40,462.45 103.30,462.11 104.20,461.50 105.10,462.00 106.00,461.83 106.90,461.95 107.80,462.36 108.70,461.97 109.60,461.69 110.50,461.72 111.40,461.84 112.30,462.45 113.20,461.38 114.10,461.53 115.00,461.42 115.90,461.33 116.80,461.87 117.70,461.91 118.60,461.61 119.50,461.18 120.40,462.23 121.30,461.76 122.20,461.91 123.10,461.49 124.00,461.20 124.90,461.75 125.80,462.04 126.70,461.62 127.60,461.72 128.50,462.11 129.40,461.33 130.30,461.77 131.20,461.38 132.10,462.00 133.00,461.23 133.90,462.02 134.80,461.23 135.70,462.12 136.60,461.11 137.50,461.65 138.40,462.02 139.30,461.59 140.20,461.40 141.10,461.81 142.00,461.65 142.90,461.40 143.80,461.53 144.70,462.44 145.60,461.60 146.50,461.32 147.40,461.35 148.30,461.12 149.20,461.64 150.10,460.61 151.00,461.16 151.90,461.31" fill="none" stroke="#ff7a10" stroke-width="1.45" stroke-linejoin="round"/>
<path d="M39.7 480.2V482.9M38.6 480.2h2.2M38.6 482.9h2.2M42.1 477.8V480.5M41.0 477.8h2.2M41.0 480.5h2.2M44.5 474.8V477.5M43.4 474.8h2.2M43.4 477.5h2.2M46.9 471.7V474.4M45.8 471.7h2.2M45.8 474.4h2.2M49.3 469.0V471.8M48.2 469.0h2.2M48.2 471.8h2.2M51.7 467.2V469.9M50.6 467.2h2.2M50.6 469.9h2.2M54.1 466.1V468.8M53.0 466.1h2.2M53.0 468.8h2.2M56.5 465.4V468.1M55.4 465.4h2.2M55.4 468.1h2.2M58.9 464.8V467.5M57.8 464.8h2.2M57.8 467.5h2.2M61.3 464.2V466.9M60.2 464.2h2.2M60.2 466.9h2.2M63.7 463.7V466.4M62.6 463.7h2.2M62.6 466.4h2.2M66.1 463.1V465.9M65.0 463.1h2.2M65.0 465.9h2.2M68.5 462.7V465.4M67.4 462.7h2.2M67.4 465.4h2.2M70.9 462.5V465.2M69.8 462.5h2.2M69.8 465.2h2.2M73.3 462.4V465.1M72.2 462.4h2.2M72.2 465.1h2.2M75.7 462.3V465.0M74.6 462.3h2.2M74.6 465.0h2.2M78.1 462.2V464.9M77.0 462.2h2.2M77.0 464.9h2.2M80.5 462.1V464.8M79.4 462.1h2.2M79.4 464.8h2.2M82.9 462.0V464.7M81.8 462.0h2.2M81.8 464.7h2.2M85.3 461.9V464.6M84.2 461.9h2.2M84.2 464.6h2.2M87.7 461.9V464.6M86.6 461.9h2.2M86.6 464.6h2.2M90.1 461.8V464.5M89.0 461.8h2.2M89.0 464.5h2.2M92.5 461.7V464.4M91.4 461.7h2.2M91.4 464.4h2.2M94.9 461.6V464.3M93.8 461.6h2.2M93.8 464.3h2.2M97.3 461.5V464.2M96.2 461.5h2.2M96.2 464.2h2.2M99.7 461.4V464.1M98.6 461.4h2.2M98.6 464.1h2.2M102.1 461.3V464.1M101.0 461.3h2.2M101.0 464.1h2.2M104.5 461.3V464.0M103.4 461.3h2.2M103.4 464.0h2.2M106.9 461.2V463.9M105.8 461.2h2.2M105.8 463.9h2.2M109.3 461.1V463.8M108.2 461.1h2.2M108.2 463.8h2.2M111.7 461.0V463.7M110.6 461.0h2.2M110.6 463.7h2.2M114.1 460.9V463.6M113.0 460.9h2.2M113.0 463.6h2.2M116.5 460.8V463.6M115.4 460.8h2.2M115.4 463.6h2.2M118.9 460.8V463.5M117.8 460.8h2.2M117.8 463.5h2.2M121.3 460.7V463.4M120.2 460.7h2.2M120.2 463.4h2.2M123.7 460.6V463.3M122.6 460.6h2.2M122.6 463.3h2.2M126.1 460.5V463.2M125.0 460.5h2.2M125.0 463.2h2.2M128.5 460.4V463.1M127.4 460.4h2.2M127.4 463.1h2.2M130.9 460.3V463.1M129.8 460.3h2.2M129.8 463.1h2.2M133.3 460.3V463.0M132.2 460.3h2.2M132.2 463.0h2.2M135.7 460.2V462.9M134.6 460.2h2.2M134.6 462.9h2.2M138.1 460.1V462.8M137.0 460.1h2.2M137.0 462.8h2.2M140.5 460.0V462.7M139.4 460.0h2.2M139.4 462.7h2.2M142.9 459.9V462.6M141.8 459.9h2.2M141.8 462.6h2.2M145.3 459.8V462.5M144.2 459.8h2.2M144.2 462.5h2.2M147.7 459.8V462.5M146.6 459.8h2.2M146.6 462.5h2.2M150.1 459.7V462.4M149.0 459.7h2.2M149.0 462.4h2.2M152.5 459.6V462.3M151.4 459.6h2.2M151.4 462.3h2.2" stroke="#d2d2d2" stroke-width="0.4" fill="none"/>
<polyline points="38.50,482.27 39.40,481.42 40.30,480.75 41.20,480.15 42.10,479.37 43.00,477.76 43.90,476.81 44.80,476.37 45.70,474.96 46.60,473.32 47.50,472.33 48.40,471.24 49.30,470.20 50.20,469.54 51.10,468.40 52.00,468.52 52.90,468.02 53.80,467.43 54.70,467.00 55.60,466.73 56.50,466.28 57.40,466.67 58.30,465.94 59.20,465.94 60.10,466.21 61.00,465.71 61.90,464.79 62.80,464.99 63.70,465.18 64.60,465.58 65.50,464.86 66.40,464.67 67.30,464.25 68.20,463.41 69.10,463.78 70.00,463.82 70.90,464.14 71.80,464.16 72.70,463.81 73.60,463.85 74.50,462.72 75.40,463.76 76.30,463.80 77.20,463.22 78.10,463.52 79.00,463.90 79.90,463.07 80.80,463.55 81.70,463.83 82.60,463.28 83.50,463.20 84.40,463.43 85.30,463.07 86.20,463.00 87.10,463.51 88.00,463.84 88.90,463.92 89.80,463.17 90.70,462.71 91.60,462.75 92.50,462.60 93.40,462.42 94.30,462.97 95.20,462.61 96.10,463.40 97.00,462.66 97.90,462.73 98.80,462.85 99.70,462.93 100.60,463.11 101.50,462.68 102.40,462.29 103.30,462.78 104.20,462.46 105.10,462.81 106.00,462.49 106.90,462.85 107.80,462.38 108.70,462.54 109.60,462.34 110.50,462.60 111.40,462.75 112.30,462.45 113.20,461.99 114.10,461.79 115.00,462.36 115.90,461.97 116.80,461.95 117.70,462.03 118.60,462.62 119.50,461.99 120.40,462.37 121.30,461.66 122.20,461.75 123.10,461.77 124.00,462.74 124.90,461.71 125.80,461.65 126.70,462.25 127.60,461.51 128.50,461.76 129.40,461.81 130.30,461.94 131.20,462.01 132.10,461.79 133.00,460.65 133.90,461.53 134.80,461.50 135.70,461.73 136.60,461.69 137.50,461.64 138.40,461.72 139.30,461.13 140.20,461.46 141.10,461.07 142.00,461.67 142.90,460.98 143.80,461.26 144.70,461.00 145.60,461.22 146.50,461.43 147.40,460.74 148.30,461.23 149.20,461.11 150.10,461.32 151.00,460.95 151.90,461.12" fill="none" stroke="#7ee0a0" stroke-width="1.45" stroke-linejoin="round"/>
<path d="M39.7 477.6V483.1M38.6 477.6h2.2M38.6 483.1h2.2M42.1 474.0V479.4M41.0 474.0h2.2M41.0 479.4h2.2M44.5 469.8V475.2M43.4 469.8h2.2M43.4 475.2h2.2M46.9 466.3V471.7M45.8 466.3h2.2M45.8 471.7h2.2M49.3 464.5V469.9M48.2 464.5h2.2M48.2 469.9h2.2M51.7 464.0V469.4M50.6 464.0h2.2M50.6 469.4h2.2M54.1 464.1V469.5M53.0 464.1h2.2M53.0 469.5h2.2M56.5 464.4V469.8M55.4 464.4h2.2M55.4 469.8h2.2M58.9 464.6V470.0M57.8 464.6h2.2M57.8 470.0h2.2M61.3 464.8V470.3M60.2 464.8h2.2M60.2 470.3h2.2M63.7 465.0V470.4M62.6 465.0h2.2M62.6 470.4h2.2M66.1 465.1V470.5M65.0 465.1h2.2M65.0 470.5h2.2M68.5 465.2V470.6M67.4 465.2h2.2M67.4 470.6h2.2M70.9 465.3V470.7M69.8 465.3h2.2M69.8 470.7h2.2M73.3 465.4V470.8M72.2 465.4h2.2M72.2 470.8h2.2M75.7 465.5V470.9M74.6 465.5h2.2M74.6 470.9h2.2M78.1 465.6V471.0M77.0 465.6h2.2M77.0 471.0h2.2M80.5 465.7V471.1M79.4 465.7h2.2M79.4 471.1h2.2M82.9 465.8V471.2M81.8 465.8h2.2M81.8 471.2h2.2M85.3 465.9V471.3M84.2 465.9h2.2M84.2 471.3h2.2M87.7 466.0V471.4M86.6 466.0h2.2M86.6 471.4h2.2M90.1 466.1V471.5M89.0 466.1h2.2M89.0 471.5h2.2M92.5 466.2V471.6M91.4 466.2h2.2M91.4 471.6h2.2M94.9 466.4V471.8M93.8 466.4h2.2M93.8 471.8h2.2M97.3 466.6V472.0M96.2 466.6h2.2M96.2 472.0h2.2M99.7 466.8V472.2M98.6 466.8h2.2M98.6 472.2h2.2M102.1 467.0V472.4M101.0 467.0h2.2M101.0 472.4h2.2M104.5 467.2V472.6M103.4 467.2h2.2M103.4 472.6h2.2M106.9 467.4V472.8M105.8 467.4h2.2M105.8 472.8h2.2M109.3 467.6V473.1M108.2 467.6h2.2M108.2 473.1h2.2M111.7 467.9V473.3M110.6 467.9h2.2M110.6 473.3h2.2M114.1 468.1V473.5M113.0 468.1h2.2M113.0 473.5h2.2M116.5 468.3V473.7M115.4 468.3h2.2M115.4 473.7h2.2M118.9 468.5V473.9M117.8 468.5h2.2M117.8 473.9h2.2M121.3 468.7V474.1M120.2 468.7h2.2M120.2 474.1h2.2M123.7 468.9V474.4M122.6 468.9h2.2M122.6 474.4h2.2M126.1 469.2V474.6M125.0 469.2h2.2M125.0 474.6h2.2M128.5 469.4V474.8M127.4 469.4h2.2M127.4 474.8h2.2M130.9 469.6V475.0M129.8 469.6h2.2M129.8 475.0h2.2M133.3 469.8V475.2M132.2 469.8h2.2M132.2 475.2h2.2M135.7 470.0V475.4M134.6 470.0h2.2M134.6 475.4h2.2M138.1 470.2V475.7M137.0 470.2h2.2M137.0 475.7h2.2M140.5 470.5V475.9M139.4 470.5h2.2M139.4 475.9h2.2M142.9 470.7V476.1M141.8 470.7h2.2M141.8 476.1h2.2M145.3 470.9V476.3M144.2 470.9h2.2M144.2 476.3h2.2M147.7 471.1V476.5M146.6 471.1h2.2M146.6 476.5h2.2M150.1 471.3V476.7M149.0 471.3h2.2M149.0 476.7h2.2M152.5 471.4V476.9M151.4 471.4h2.2M151.4 476.9h2.2" stroke="#d2d2d2" stroke-width="0.4" fill="none"/>
<polyline points="38.50,481.55 39.40,480.61 40.30,479.47 41.20,478.45 42.10,477.18 43.00,475.00 43.90,473.25 44.80,471.78 45.70,470.95 46.60,469.19 47.50,468.28 48.40,467.58 49.30,467.04 50.20,466.99 51.10,466.68 52.00,466.42 52.90,466.90 53.80,467.27 54.70,466.93 55.60,466.92 56.50,467.66 57.40,467.39 58.30,467.08 59.20,467.40 60.10,467.41 61.00,467.92 61.90,467.31 62.80,467.11 63.70,467.78 64.60,468.00 65.50,468.18 66.40,467.57 67.30,467.86 68.20,468.18 69.10,467.58 70.00,467.75 70.90,467.84 71.80,468.62 72.70,468.13 73.60,467.93 74.50,468.55 75.40,467.90 76.30,467.78 77.20,467.94 78.10,468.53 79.00,468.56 79.90,468.07 80.80,468.09 81.70,468.04 82.60,468.09 83.50,468.53 84.40,468.66 85.30,469.15 86.20,468.36 87.10,467.92 88.00,468.82 88.90,468.86 89.80,468.54 90.70,468.67 91.60,469.27 92.50,469.12 93.40,469.30 94.30,468.38 95.20,469.32 96.10,468.90 97.00,468.64 97.90,468.73 98.80,468.96 99.70,468.97 100.60,469.96 101.50,469.76 102.40,469.96 103.30,469.91 104.20,469.07 105.10,470.51 106.00,469.88 106.90,470.53 107.80,469.80 108.70,469.89 109.60,470.54 110.50,469.81 111.40,470.52 112.30,470.21 113.20,470.61 114.10,470.97 115.00,470.99 115.90,470.99 116.80,470.84 117.70,471.07 118.60,470.45 119.50,471.34 120.40,471.50 121.30,471.67 122.20,471.76 123.10,472.06 124.00,471.99 124.90,471.48 125.80,471.83 126.70,471.98 127.60,471.90 128.50,471.75 129.40,471.97 130.30,472.01 131.20,472.51 132.10,472.50 133.00,472.74 133.90,472.61 134.80,472.91 135.70,472.86 136.60,472.87 137.50,472.97 138.40,473.07 139.30,473.22 140.20,472.73 141.10,473.33 142.00,473.63 142.90,473.33 143.80,473.81 144.70,473.89 145.60,473.60 146.50,474.24 147.40,474.81 148.30,473.78 149.20,473.62 150.10,474.54 151.00,474.36 151.90,473.94" fill="none" stroke="#f4a0b8" stroke-width="1.45" stroke-linejoin="round"/>
<polyline points="32.50,483.30 32.98,482.66 33.46,483.01 33.94,482.47 34.42,483.82 34.90,482.04 35.38,482.91 35.86,482.78 36.34,483.37 36.82,484.76 37.30,483.59 37.78,484.55 38.26,483.79" fill="none" stroke="#c6c6c6" stroke-width="1.6" stroke-linejoin="round"/>
<polyline points="32.50,482.52 32.98,482.27 33.46,482.32 33.94,481.78 34.42,481.92 34.90,483.26 35.38,482.72 35.86,481.85 36.34,482.62 36.82,483.55 37.30,483.22 37.78,483.42 38.26,482.58" fill="none" stroke="#c6c6c6" stroke-width="1.6" stroke-linejoin="round"/>
<polyline points="32.50,481.92 32.98,481.80 33.46,480.68 33.94,483.23 34.42,483.12 34.90,483.74 35.38,483.77 35.86,482.24 36.34,482.73 36.82,481.91 37.30,484.41 37.78,483.71 38.26,482.14" fill="none" stroke="#c6c6c6" stroke-width="1.6" stroke-linejoin="round"/>
<polyline points="32.50,481.25 32.98,481.45 33.46,481.58 33.94,482.28 34.42,482.44 34.90,482.54 35.38,482.11 35.86,482.91 36.34,482.68 36.82,482.00 37.30,483.80 37.78,483.57 38.26,482.67" fill="none" stroke="#c6c6c6" stroke-width="1.6" stroke-linejoin="round"/>
<polyline points="32.50,482.12 32.98,482.16 33.46,480.74 33.94,482.00 34.42,482.69 34.90,481.79 35.38,480.94 35.86,483.50 36.34,483.28 36.82,482.80 37.30,483.33 37.78,481.41 38.26,482.46" fill="none" stroke="#c6c6c6" stroke-width="1.6" stroke-linejoin="round"/>
<polyline points="32.50,482.21 32.98,481.72 33.46,482.70 33.94,482.69 34.42,482.33 34.90,480.91 35.38,484.16 35.86,482.44 36.34,481.88 36.82,482.34 37.30,481.55 37.78,482.51 38.26,482.65" fill="none" stroke="#c6c6c6" stroke-width="1.6" stroke-linejoin="round"/>
<polyline points="32.50,482.03 32.98,482.62 33.46,481.04 33.94,483.06 34.42,482.46 34.90,482.83 35.38,483.10 35.86,484.14 36.34,482.93 36.82,482.58 37.30,482.53 37.78,481.95 38.26,482.48" fill="none" stroke="#c6c6c6" stroke-width="1.6" stroke-linejoin="round"/>
<polyline points="32.50,482.36 32.98,481.82 33.46,481.68 33.94,482.84 34.42,483.35 34.90,483.10 35.38,481.74 35.86,481.80 36.34,483.06 36.82,482.30 37.30,481.67 37.78,481.12 38.26,482.17" fill="none" stroke="#c6c6c6" stroke-width="1.6" stroke-linejoin="round"/>
<line x1="32.50" y1="416.40" x2="32.50" y2="529.30" stroke="#444" stroke-width="1.0"/>
<line x1="29.10" y1="529.30" x2="152.90" y2="529.30" stroke="#444" stroke-width="1.0"/>
<line x1="29.10" y1="529.30" x2="32.50" y2="529.30" stroke="#444" stroke-width="0.8"/>
<text x="24.90" y="531.80" font-size="7.8" fill="#2c2c2c" text-anchor="end" font-weight="normal">0</text>
<line x1="30.30" y1="518.02" x2="32.50" y2="518.02" stroke="#444" stroke-width="0.8"/>
<line x1="29.10" y1="506.74" x2="32.50" y2="506.74" stroke="#444" stroke-width="0.8"/>
<text x="24.90" y="509.24" font-size="7.8" fill="#2c2c2c" text-anchor="end" font-weight="normal">0.1</text>
<line x1="30.30" y1="495.46" x2="32.50" y2="495.46" stroke="#444" stroke-width="0.8"/>
<line x1="29.10" y1="484.18" x2="32.50" y2="484.18" stroke="#444" stroke-width="0.8"/>
<text x="24.90" y="486.68" font-size="7.8" fill="#2c2c2c" text-anchor="end" font-weight="normal">0.2</text>
<line x1="30.30" y1="472.90" x2="32.50" y2="472.90" stroke="#444" stroke-width="0.8"/>
<line x1="29.10" y1="461.62" x2="32.50" y2="461.62" stroke="#444" stroke-width="0.8"/>
<text x="24.90" y="464.12" font-size="7.8" fill="#2c2c2c" text-anchor="end" font-weight="normal">0.3</text>
<line x1="30.30" y1="450.34" x2="32.50" y2="450.34" stroke="#444" stroke-width="0.8"/>
<line x1="29.10" y1="439.06" x2="32.50" y2="439.06" stroke="#444" stroke-width="0.8"/>
<text x="24.90" y="441.56" font-size="7.8" fill="#2c2c2c" text-anchor="end" font-weight="normal">0.4</text>
<line x1="30.30" y1="427.78" x2="32.50" y2="427.78" stroke="#444" stroke-width="0.8"/>
<line x1="29.10" y1="416.50" x2="32.50" y2="416.50" stroke="#444" stroke-width="0.8"/>
<text x="24.90" y="419.00" font-size="7.8" fill="#2c2c2c" text-anchor="end" font-weight="normal">0.5</text>
<line x1="32.50" y1="529.30" x2="32.50" y2="533.60" stroke="#444" stroke-width="0.8"/>
<line x1="38.50" y1="529.30" x2="38.50" y2="532.40" stroke="#444" stroke-width="0.8"/>
<line x1="44.50" y1="529.30" x2="44.50" y2="532.40" stroke="#444" stroke-width="0.8"/>
<line x1="50.50" y1="529.30" x2="50.50" y2="532.40" stroke="#444" stroke-width="0.8"/>
<line x1="56.50" y1="529.30" x2="56.50" y2="532.40" stroke="#444" stroke-width="0.8"/>
<line x1="62.50" y1="529.30" x2="62.50" y2="533.60" stroke="#444" stroke-width="0.8"/>
<line x1="68.50" y1="529.30" x2="68.50" y2="532.40" stroke="#444" stroke-width="0.8"/>
<line x1="74.50" y1="529.30" x2="74.50" y2="532.40" stroke="#444" stroke-width="0.8"/>
<line x1="80.50" y1="529.30" x2="80.50" y2="532.40" stroke="#444" stroke-width="0.8"/>
<line x1="86.50" y1="529.30" x2="86.50" y2="532.40" stroke="#444" stroke-width="0.8"/>
<line x1="92.50" y1="529.30" x2="92.50" y2="533.60" stroke="#444" stroke-width="0.8"/>
<line x1="98.50" y1="529.30" x2="98.50" y2="532.40" stroke="#444" stroke-width="0.8"/>
<line x1="104.50" y1="529.30" x2="104.50" y2="532.40" stroke="#444" stroke-width="0.8"/>
<line x1="110.50" y1="529.30" x2="110.50" y2="532.40" stroke="#444" stroke-width="0.8"/>
<line x1="116.50" y1="529.30" x2="116.50" y2="532.40" stroke="#444" stroke-width="0.8"/>
<line x1="122.50" y1="529.30" x2="122.50" y2="533.60" stroke="#444" stroke-width="0.8"/>
<line x1="128.50" y1="529.30" x2="128.50" y2="532.40" stroke="#444" stroke-width="0.8"/>
<line x1="134.50" y1="529.30" x2="134.50" y2="532.40" stroke="#444" stroke-width="0.8"/>
<line x1="140.50" y1="529.30" x2="140.50" y2="532.40" stroke="#444" stroke-width="0.8"/>
<line x1="146.50" y1="529.30" x2="146.50" y2="532.40" stroke="#444" stroke-width="0.8"/>
<line x1="152.50" y1="529.30" x2="152.50" y2="533.60" stroke="#444" stroke-width="0.8"/>
<text x="32.50" y="542.90" font-size="8.4" fill="#2c2c2c" text-anchor="middle" font-weight="normal">0</text>
<text x="62.50" y="542.90" font-size="8.4" fill="#2c2c2c" text-anchor="middle" font-weight="normal">500</text>
<text x="92.50" y="542.90" font-size="8.4" fill="#2c2c2c" text-anchor="middle" font-weight="normal">1,000</text>
<text x="122.50" y="542.90" font-size="8.4" fill="#2c2c2c" text-anchor="middle" font-weight="normal">1,500</text>
<text x="152.50" y="542.90" font-size="8.4" fill="#2c2c2c" text-anchor="middle" font-weight="normal">2,000</text>
<text x="92.50" y="554.60" font-size="8.5" fill="#2c2c2c" text-anchor="middle" font-weight="normal">Time (s)</text>
<text x="86.8" y="432.6" font-size="9" fill="#222" lengthAdjust="spacingAndGlyphs" textLength="33.4">+ <tspan fill="#5451a0">PRDX2</tspan></text>
<path d="M185.7 502.0V507.4M184.6 502.0h2.2M184.6 507.4h2.2M188.1 501.9V507.3M187.0 501.9h2.2M187.0 507.3h2.2M190.5 501.7V507.1M189.4 501.7h2.2M189.4 507.1h2.2M192.9 501.5V506.9M191.8 501.5h2.2M191.8 506.9h2.2M195.3 501.3V506.7M194.2 501.3h2.2M194.2 506.7h2.2M197.7 501.2V506.6M196.6 501.2h2.2M196.6 506.6h2.2M200.1 501.2V506.6M199.0 501.2h2.2M199.0 506.6h2.2M202.5 501.2V506.6M201.4 501.2h2.2M201.4 506.6h2.2M204.9 501.2V506.6M203.8 501.2h2.2M203.8 506.6h2.2M207.3 501.2V506.7M206.2 501.2h2.2M206.2 506.7h2.2M209.7 501.3V506.7M208.6 501.3h2.2M208.6 506.7h2.2M212.1 501.3V506.7M211.0 501.3h2.2M211.0 506.7h2.2M214.5 501.3V506.8M213.4 501.3h2.2M213.4 506.8h2.2M216.9 501.4V506.8M215.8 501.4h2.2M215.8 506.8h2.2M219.3 501.4V506.8M218.2 501.4h2.2M218.2 506.8h2.2M221.7 501.4V506.8M220.6 501.4h2.2M220.6 506.8h2.2M224.1 501.5V506.9M223.0 501.5h2.2M223.0 506.9h2.2M226.5 501.5V506.9M225.4 501.5h2.2M225.4 506.9h2.2M228.9 501.5V506.9M227.8 501.5h2.2M227.8 506.9h2.2M231.3 501.6V507.0M230.2 501.6h2.2M230.2 507.0h2.2M233.7 501.6V507.0M232.6 501.6h2.2M232.6 507.0h2.2M236.1 501.6V507.0M235.0 501.6h2.2M235.0 507.0h2.2M238.5 501.7V507.1M237.4 501.7h2.2M237.4 507.1h2.2M240.9 501.7V507.1M239.8 501.7h2.2M239.8 507.1h2.2M243.3 501.7V507.1M242.2 501.7h2.2M242.2 507.1h2.2M245.7 501.8V507.2M244.6 501.8h2.2M244.6 507.2h2.2M248.1 501.8V507.2M247.0 501.8h2.2M247.0 507.2h2.2M250.5 501.8V507.2M249.4 501.8h2.2M249.4 507.2h2.2M252.9 501.8V507.3M251.8 501.8h2.2M251.8 507.3h2.2M255.3 501.9V507.3M254.2 501.9h2.2M254.2 507.3h2.2M257.7 501.9V507.3M256.6 501.9h2.2M256.6 507.3h2.2M260.1 501.9V507.4M259.0 501.9h2.2M259.0 507.4h2.2M262.5 502.0V507.4M261.4 502.0h2.2M261.4 507.4h2.2M264.9 502.0V507.4M263.8 502.0h2.2M263.8 507.4h2.2M267.3 502.0V507.5M266.2 502.0h2.2M266.2 507.5h2.2M269.7 502.1V507.5M268.6 502.1h2.2M268.6 507.5h2.2M272.1 502.1V507.5M271.0 502.1h2.2M271.0 507.5h2.2M274.5 502.1V507.5M273.4 502.1h2.2M273.4 507.5h2.2M276.9 502.2V507.6M275.8 502.2h2.2M275.8 507.6h2.2M279.3 502.2V507.6M278.2 502.2h2.2M278.2 507.6h2.2M281.7 502.2V507.6M280.6 502.2h2.2M280.6 507.6h2.2M284.1 502.3V507.7M283.0 502.3h2.2M283.0 507.7h2.2M286.5 502.3V507.7M285.4 502.3h2.2M285.4 507.7h2.2M288.9 502.3V507.7M287.8 502.3h2.2M287.8 507.7h2.2M291.3 502.4V507.8M290.2 502.4h2.2M290.2 507.8h2.2M293.7 502.4V507.8M292.6 502.4h2.2M292.6 507.8h2.2M296.1 502.4V507.8M295.0 502.4h2.2M295.0 507.8h2.2M298.5 502.4V507.9M297.4 502.4h2.2M297.4 507.9h2.2" stroke="#d2d2d2" stroke-width="0.4" fill="none"/>
<polyline points="184.50,504.67 185.40,504.76 186.30,504.22 187.20,503.87 188.10,504.09 189.00,504.86 189.90,504.28 190.80,504.44 191.70,504.28 192.60,504.39 193.50,504.26 194.40,504.04 195.30,503.41 196.20,503.71 197.10,503.77 198.00,503.87 198.90,504.11 199.80,503.94 200.70,503.48 201.60,503.62 202.50,503.27 203.40,503.82 204.30,503.92 205.20,504.43 206.10,503.81 207.00,504.49 207.90,503.48 208.80,504.17 209.70,503.98 210.60,504.42 211.50,504.16 212.40,504.31 213.30,503.67 214.20,503.96 215.10,504.43 216.00,504.68 216.90,504.10 217.80,504.24 218.70,504.45 219.60,503.93 220.50,504.18 221.40,504.10 222.30,504.34 223.20,504.34 224.10,504.32 225.00,504.69 225.90,504.00 226.80,504.08 227.70,504.77 228.60,504.20 229.50,503.88 230.40,504.18 231.30,503.86 232.20,504.37 233.10,504.29 234.00,504.72 234.90,504.60 235.80,504.90 236.70,504.62 237.60,504.28 238.50,504.20 239.40,504.01 240.30,504.35 241.20,504.71 242.10,504.28 243.00,504.47 243.90,503.87 244.80,503.83 245.70,504.16 246.60,504.83 247.50,504.65 248.40,504.44 249.30,504.73 250.20,504.35 251.10,504.32 252.00,504.28 252.90,504.48 253.80,504.85 254.70,504.85 255.60,504.63 256.50,504.18 257.40,504.12 258.30,504.32 259.20,504.52 260.10,504.44 261.00,504.40 261.90,504.27 262.80,504.42 263.70,505.18 264.60,504.41 265.50,504.60 266.40,504.88 267.30,504.58 268.20,504.67 269.10,504.79 270.00,505.32 270.90,504.76 271.80,504.63 272.70,504.83 273.60,505.33 274.50,504.70 275.40,504.63 276.30,504.81 277.20,504.74 278.10,505.00 279.00,505.11 279.90,504.75 280.80,505.04 281.70,504.88 282.60,503.92 283.50,504.74 284.40,504.93 285.30,505.50 286.20,504.97 287.10,504.77 288.00,505.24 288.90,505.11 289.80,505.76 290.70,504.88 291.60,505.26 292.50,504.87 293.40,504.66 294.30,505.16 295.20,504.80 296.10,505.05 297.00,505.20 297.90,505.23" fill="none" stroke="#2f8ff0" stroke-width="1.45" stroke-linejoin="round"/>
<path d="M185.7 502.0V507.4M184.6 502.0h2.2M184.6 507.4h2.2M188.1 501.9V507.3M187.0 501.9h2.2M187.0 507.3h2.2M190.5 501.7V507.1M189.4 501.7h2.2M189.4 507.1h2.2M192.9 501.5V506.9M191.8 501.5h2.2M191.8 506.9h2.2M195.3 501.3V506.7M194.2 501.3h2.2M194.2 506.7h2.2M197.7 501.2V506.6M196.6 501.2h2.2M196.6 506.6h2.2M200.1 501.2V506.6M199.0 501.2h2.2M199.0 506.6h2.2M202.5 501.2V506.6M201.4 501.2h2.2M201.4 506.6h2.2M204.9 501.2V506.6M203.8 501.2h2.2M203.8 506.6h2.2M207.3 501.2V506.7M206.2 501.2h2.2M206.2 506.7h2.2M209.7 501.3V506.7M208.6 501.3h2.2M208.6 506.7h2.2M212.1 501.3V506.7M211.0 501.3h2.2M211.0 506.7h2.2M214.5 501.3V506.8M213.4 501.3h2.2M213.4 506.8h2.2M216.9 501.4V506.8M215.8 501.4h2.2M215.8 506.8h2.2M219.3 501.4V506.8M218.2 501.4h2.2M218.2 506.8h2.2M221.7 501.4V506.8M220.6 501.4h2.2M220.6 506.8h2.2M224.1 501.5V506.9M223.0 501.5h2.2M223.0 506.9h2.2M226.5 501.5V506.9M225.4 501.5h2.2M225.4 506.9h2.2M228.9 501.5V506.9M227.8 501.5h2.2M227.8 506.9h2.2M231.3 501.6V507.0M230.2 501.6h2.2M230.2 507.0h2.2M233.7 501.6V507.0M232.6 501.6h2.2M232.6 507.0h2.2M236.1 501.6V507.0M235.0 501.6h2.2M235.0 507.0h2.2M238.5 501.7V507.1M237.4 501.7h2.2M237.4 507.1h2.2M240.9 501.7V507.1M239.8 501.7h2.2M239.8 507.1h2.2M243.3 501.7V507.1M242.2 501.7h2.2M242.2 507.1h2.2M245.7 501.8V507.2M244.6 501.8h2.2M244.6 507.2h2.2M248.1 501.8V507.2M247.0 501.8h2.2M247.0 507.2h2.2M250.5 501.8V507.2M249.4 501.8h2.2M249.4 507.2h2.2M252.9 501.8V507.3M251.8 501.8h2.2M251.8 507.3h2.2M255.3 501.9V507.3M254.2 501.9h2.2M254.2 507.3h2.2M257.7 501.9V507.3M256.6 501.9h2.2M256.6 507.3h2.2M260.1 501.9V507.4M259.0 501.9h2.2M259.0 507.4h2.2M262.5 502.0V507.4M261.4 502.0h2.2M261.4 507.4h2.2M264.9 502.0V507.4M263.8 502.0h2.2M263.8 507.4h2.2M267.3 502.0V507.5M266.2 502.0h2.2M266.2 507.5h2.2M269.7 502.1V507.5M268.6 502.1h2.2M268.6 507.5h2.2M272.1 502.1V507.5M271.0 502.1h2.2M271.0 507.5h2.2M274.5 502.1V507.5M273.4 502.1h2.2M273.4 507.5h2.2M276.9 502.2V507.6M275.8 502.2h2.2M275.8 507.6h2.2M279.3 502.2V507.6M278.2 502.2h2.2M278.2 507.6h2.2M281.7 502.2V507.6M280.6 502.2h2.2M280.6 507.6h2.2M284.1 502.3V507.7M283.0 502.3h2.2M283.0 507.7h2.2M286.5 502.3V507.7M285.4 502.3h2.2M285.4 507.7h2.2M288.9 502.3V507.7M287.8 502.3h2.2M287.8 507.7h2.2M291.3 502.4V507.8M290.2 502.4h2.2M290.2 507.8h2.2M293.7 502.4V507.8M292.6 502.4h2.2M292.6 507.8h2.2M296.1 502.4V507.8M295.0 502.4h2.2M295.0 507.8h2.2M298.5 502.4V507.9M297.4 502.4h2.2M297.4 507.9h2.2" stroke="#d2d2d2" stroke-width="0.4" fill="none"/>
<polyline points="184.50,504.67 185.40,504.95 186.30,504.26 187.20,504.35 188.10,504.89 189.00,504.23 189.90,504.65 190.80,504.82 191.70,503.88 192.60,504.59 193.50,503.73 194.40,503.98 195.30,503.70 196.20,503.77 197.10,503.54 198.00,503.77 198.90,503.69 199.80,503.79 200.70,503.52 201.60,504.00 202.50,503.57 203.40,503.42 204.30,503.93 205.20,503.78 206.10,504.10 207.00,504.04 207.90,503.88 208.80,504.08 209.70,504.26 210.60,504.00 211.50,503.95 212.40,503.92 213.30,503.81 214.20,504.60 215.10,503.61 216.00,504.12 216.90,504.32 217.80,504.21 218.70,503.96 219.60,503.84 220.50,504.24 221.40,504.09 222.30,504.65 223.20,504.11 224.10,504.21 225.00,504.32 225.90,503.92 226.80,503.64 227.70,503.90 228.60,504.48 229.50,503.76 230.40,504.36 231.30,504.28 232.20,504.46 233.10,504.15 234.00,504.13 234.90,504.27 235.80,504.40 236.70,504.39 237.60,504.48 238.50,504.06 239.40,504.54 240.30,504.44 241.20,504.47 242.10,504.65 243.00,504.50 243.90,504.90 244.80,504.32 245.70,504.29 246.60,504.57 247.50,503.99 248.40,504.75 249.30,504.33 250.20,504.37 251.10,504.70 252.00,504.62 252.90,504.28 253.80,504.55 254.70,504.49 255.60,504.15 256.50,504.54 257.40,505.14 258.30,504.86 259.20,504.38 260.10,504.69 261.00,505.00 261.90,505.30 262.80,504.59 263.70,504.23 264.60,505.10 265.50,505.40 266.40,504.58 267.30,504.92 268.20,504.85 269.10,504.87 270.00,505.07 270.90,504.66 271.80,504.52 272.70,504.70 273.60,505.01 274.50,504.52 275.40,504.89 276.30,504.68 277.20,505.17 278.10,504.68 279.00,504.67 279.90,504.51 280.80,504.92 281.70,504.80 282.60,505.13 283.50,504.68 284.40,504.73 285.30,504.65 286.20,505.12 287.10,505.39 288.00,505.04 288.90,505.10 289.80,505.28 290.70,504.87 291.60,504.77 292.50,504.96 293.40,504.74 294.30,504.98 295.20,505.42 296.10,505.31 297.00,505.24 297.90,504.93" fill="none" stroke="#d83a3a" stroke-width="1.45" stroke-linejoin="round"/>
<path d="M185.7 502.0V507.4M184.6 502.0h2.2M184.6 507.4h2.2M188.1 501.9V507.3M187.0 501.9h2.2M187.0 507.3h2.2M190.5 501.7V507.1M189.4 501.7h2.2M189.4 507.1h2.2M192.9 501.5V506.9M191.8 501.5h2.2M191.8 506.9h2.2M195.3 501.3V506.7M194.2 501.3h2.2M194.2 506.7h2.2M197.7 501.2V506.6M196.6 501.2h2.2M196.6 506.6h2.2M200.1 501.2V506.6M199.0 501.2h2.2M199.0 506.6h2.2M202.5 501.2V506.6M201.4 501.2h2.2M201.4 506.6h2.2M204.9 501.2V506.6M203.8 501.2h2.2M203.8 506.6h2.2M207.3 501.2V506.7M206.2 501.2h2.2M206.2 506.7h2.2M209.7 501.3V506.7M208.6 501.3h2.2M208.6 506.7h2.2M212.1 501.3V506.7M211.0 501.3h2.2M211.0 506.7h2.2M214.5 501.3V506.8M213.4 501.3h2.2M213.4 506.8h2.2M216.9 501.4V506.8M215.8 501.4h2.2M215.8 506.8h2.2M219.3 501.4V506.8M218.2 501.4h2.2M218.2 506.8h2.2M221.7 501.4V506.8M220.6 501.4h2.2M220.6 506.8h2.2M224.1 501.5V506.9M223.0 501.5h2.2M223.0 506.9h2.2M226.5 501.5V506.9M225.4 501.5h2.2M225.4 506.9h2.2M228.9 501.5V506.9M227.8 501.5h2.2M227.8 506.9h2.2M231.3 501.6V507.0M230.2 501.6h2.2M230.2 507.0h2.2M233.7 501.6V507.0M232.6 501.6h2.2M232.6 507.0h2.2M236.1 501.6V507.0M235.0 501.6h2.2M235.0 507.0h2.2M238.5 501.7V507.1M237.4 501.7h2.2M237.4 507.1h2.2M240.9 501.7V507.1M239.8 501.7h2.2M239.8 507.1h2.2M243.3 501.7V507.1M242.2 501.7h2.2M242.2 507.1h2.2M245.7 501.8V507.2M244.6 501.8h2.2M244.6 507.2h2.2M248.1 501.8V507.2M247.0 501.8h2.2M247.0 507.2h2.2M250.5 501.8V507.2M249.4 501.8h2.2M249.4 507.2h2.2M252.9 501.8V507.3M251.8 501.8h2.2M251.8 507.3h2.2M255.3 501.9V507.3M254.2 501.9h2.2M254.2 507.3h2.2M257.7 501.9V507.3M256.6 501.9h2.2M256.6 507.3h2.2M260.1 501.9V507.4M259.0 501.9h2.2M259.0 507.4h2.2M262.5 502.0V507.4M261.4 502.0h2.2M261.4 507.4h2.2M264.9 502.0V507.4M263.8 502.0h2.2M263.8 507.4h2.2M267.3 502.0V507.5M266.2 502.0h2.2M266.2 507.5h2.2M269.7 502.1V507.5M268.6 502.1h2.2M268.6 507.5h2.2M272.1 502.1V507.5M271.0 502.1h2.2M271.0 507.5h2.2M274.5 502.1V507.5M273.4 502.1h2.2M273.4 507.5h2.2M276.9 502.2V507.6M275.8 502.2h2.2M275.8 507.6h2.2M279.3 502.2V507.6M278.2 502.2h2.2M278.2 507.6h2.2M281.7 502.2V507.6M280.6 502.2h2.2M280.6 507.6h2.2M284.1 502.3V507.7M283.0 502.3h2.2M283.0 507.7h2.2M286.5 502.3V507.7M285.4 502.3h2.2M285.4 507.7h2.2M288.9 502.3V507.7M287.8 502.3h2.2M287.8 507.7h2.2M291.3 502.4V507.8M290.2 502.4h2.2M290.2 507.8h2.2M293.7 502.4V507.8M292.6 502.4h2.2M292.6 507.8h2.2M296.1 502.4V507.8M295.0 502.4h2.2M295.0 507.8h2.2M298.5 502.4V507.9M297.4 502.4h2.2M297.4 507.9h2.2" stroke="#d2d2d2" stroke-width="0.4" fill="none"/>
<polyline points="184.50,504.67 185.40,504.40 186.30,504.62 187.20,504.31 188.10,504.83 189.00,504.53 189.90,503.96 190.80,504.20 191.70,503.93 192.60,504.77 193.50,504.63 194.40,504.31 195.30,503.67 196.20,503.43 197.10,504.09 198.00,504.19 198.90,504.18 199.80,504.14 200.70,503.70 201.60,503.98 202.50,503.30 203.40,503.67 204.30,504.12 205.20,503.85 206.10,503.98 207.00,503.70 207.90,503.68 208.80,504.08 209.70,503.70 210.60,503.82 211.50,504.03 212.40,503.94 213.30,503.82 214.20,504.14 215.10,504.26 216.00,503.67 216.90,504.08 217.80,504.27 218.70,503.96 219.60,504.57 220.50,504.11 221.40,504.56 222.30,504.28 223.20,504.71 224.10,504.40 225.00,503.91 225.90,504.25 226.80,504.59 227.70,503.68 228.60,504.43 229.50,503.78 230.40,504.42 231.30,504.72 232.20,503.71 233.10,504.43 234.00,504.07 234.90,503.95 235.80,504.73 236.70,504.32 237.60,504.53 238.50,504.18 239.40,504.38 240.30,504.78 241.20,504.38 242.10,504.17 243.00,504.51 243.90,504.26 244.80,504.61 245.70,504.47 246.60,504.36 247.50,504.44 248.40,504.10 249.30,504.21 250.20,504.26 251.10,504.31 252.00,504.49 252.90,504.91 253.80,504.24 254.70,504.04 255.60,504.52 256.50,504.68 257.40,504.62 258.30,504.25 259.20,504.55 260.10,504.95 261.00,504.71 261.90,504.91 262.80,504.75 263.70,504.97 264.60,504.98 265.50,504.26 266.40,504.41 267.30,505.24 268.20,505.06 269.10,504.91 270.00,504.90 270.90,505.22 271.80,504.53 272.70,505.31 273.60,504.61 274.50,504.62 275.40,504.97 276.30,505.07 277.20,504.86 278.10,504.84 279.00,505.55 279.90,505.30 280.80,504.76 281.70,504.97 282.60,505.08 283.50,505.27 284.40,505.19 285.30,505.22 286.20,504.13 287.10,505.39 288.00,504.55 288.90,504.88 289.80,504.98 290.70,504.99 291.60,505.18 292.50,504.58 293.40,504.93 294.30,505.11 295.20,505.15 296.10,505.06 297.00,505.48 297.90,505.24" fill="none" stroke="#3aaa5a" stroke-width="1.45" stroke-linejoin="round"/>
<path d="M185.7 502.0V507.4M184.6 502.0h2.2M184.6 507.4h2.2M188.1 501.9V507.3M187.0 501.9h2.2M187.0 507.3h2.2M190.5 501.7V507.1M189.4 501.7h2.2M189.4 507.1h2.2M192.9 501.5V506.9M191.8 501.5h2.2M191.8 506.9h2.2M195.3 501.3V506.7M194.2 501.3h2.2M194.2 506.7h2.2M197.7 501.2V506.6M196.6 501.2h2.2M196.6 506.6h2.2M200.1 501.2V506.6M199.0 501.2h2.2M199.0 506.6h2.2M202.5 501.2V506.6M201.4 501.2h2.2M201.4 506.6h2.2M204.9 501.2V506.6M203.8 501.2h2.2M203.8 506.6h2.2M207.3 501.2V506.7M206.2 501.2h2.2M206.2 506.7h2.2M209.7 501.3V506.7M208.6 501.3h2.2M208.6 506.7h2.2M212.1 501.3V506.7M211.0 501.3h2.2M211.0 506.7h2.2M214.5 501.3V506.8M213.4 501.3h2.2M213.4 506.8h2.2M216.9 501.4V506.8M215.8 501.4h2.2M215.8 506.8h2.2M219.3 501.4V506.8M218.2 501.4h2.2M218.2 506.8h2.2M221.7 501.4V506.8M220.6 501.4h2.2M220.6 506.8h2.2M224.1 501.5V506.9M223.0 501.5h2.2M223.0 506.9h2.2M226.5 501.5V506.9M225.4 501.5h2.2M225.4 506.9h2.2M228.9 501.5V506.9M227.8 501.5h2.2M227.8 506.9h2.2M231.3 501.6V507.0M230.2 501.6h2.2M230.2 507.0h2.2M233.7 501.6V507.0M232.6 501.6h2.2M232.6 507.0h2.2M236.1 501.6V507.0M235.0 501.6h2.2M235.0 507.0h2.2M238.5 501.7V507.1M237.4 501.7h2.2M237.4 507.1h2.2M240.9 501.7V507.1M239.8 501.7h2.2M239.8 507.1h2.2M243.3 501.7V507.1M242.2 501.7h2.2M242.2 507.1h2.2M245.7 501.8V507.2M244.6 501.8h2.2M244.6 507.2h2.2M248.1 501.8V507.2M247.0 501.8h2.2M247.0 507.2h2.2M250.5 501.8V507.2M249.4 501.8h2.2M249.4 507.2h2.2M252.9 501.8V507.3M251.8 501.8h2.2M251.8 507.3h2.2M255.3 501.9V507.3M254.2 501.9h2.2M254.2 507.3h2.2M257.7 501.9V507.3M256.6 501.9h2.2M256.6 507.3h2.2M260.1 501.9V507.4M259.0 501.9h2.2M259.0 507.4h2.2M262.5 502.0V507.4M261.4 502.0h2.2M261.4 507.4h2.2M264.9 502.0V507.4M263.8 502.0h2.2M263.8 507.4h2.2M267.3 502.0V507.5M266.2 502.0h2.2M266.2 507.5h2.2M269.7 502.1V507.5M268.6 502.1h2.2M268.6 507.5h2.2M272.1 502.1V507.5M271.0 502.1h2.2M271.0 507.5h2.2M274.5 502.1V507.5M273.4 502.1h2.2M273.4 507.5h2.2M276.9 502.2V507.6M275.8 502.2h2.2M275.8 507.6h2.2M279.3 502.2V507.6M278.2 502.2h2.2M278.2 507.6h2.2M281.7 502.2V507.6M280.6 502.2h2.2M280.6 507.6h2.2M284.1 502.3V507.7M283.0 502.3h2.2M283.0 507.7h2.2M286.5 502.3V507.7M285.4 502.3h2.2M285.4 507.7h2.2M288.9 502.3V507.7M287.8 502.3h2.2M287.8 507.7h2.2M291.3 502.4V507.8M290.2 502.4h2.2M290.2 507.8h2.2M293.7 502.4V507.8M292.6 502.4h2.2M292.6 507.8h2.2M296.1 502.4V507.8M295.0 502.4h2.2M295.0 507.8h2.2M298.5 502.4V507.9M297.4 502.4h2.2M297.4 507.9h2.2" stroke="#d2d2d2" stroke-width="0.4" fill="none"/>
<polyline points="184.50,504.67 185.40,504.87 186.30,504.47 187.20,504.44 188.10,505.14 189.00,504.57 189.90,504.12 190.80,504.74 191.70,504.62 192.60,503.87 193.50,504.15 194.40,504.18 195.30,504.35 196.20,503.88 197.10,504.07 198.00,503.81 198.90,503.73 199.80,503.65 200.70,503.97 201.60,504.04 202.50,503.88 203.40,503.93 204.30,503.86 205.20,504.08 206.10,504.01 207.00,504.12 207.90,504.14 208.80,503.92 209.70,503.62 210.60,504.16 211.50,503.82 212.40,503.91 213.30,503.99 214.20,503.83 215.10,504.22 216.00,503.89 216.90,503.98 217.80,505.17 218.70,503.99 219.60,503.93 220.50,503.52 221.40,504.46 222.30,504.12 223.20,504.05 224.10,504.47 225.00,503.81 225.90,504.06 226.80,504.45 227.70,504.59 228.60,504.36 229.50,503.51 230.40,503.59 231.30,505.03 232.20,504.84 233.10,504.08 234.00,504.34 234.90,504.51 235.80,504.14 236.70,504.31 237.60,504.26 238.50,504.28 239.40,504.71 240.30,503.98 241.20,504.54 242.10,504.06 243.00,504.21 243.90,504.42 244.80,504.40 245.70,504.47 246.60,505.04 247.50,504.58 248.40,504.36 249.30,505.00 250.20,504.98 251.10,504.19 252.00,504.29 252.90,505.03 253.80,504.42 254.70,504.59 255.60,504.29 256.50,504.70 257.40,504.68 258.30,504.86 259.20,504.58 260.10,504.69 261.00,504.86 261.90,504.78 262.80,504.92 263.70,504.50 264.60,505.03 265.50,505.20 266.40,505.03 267.30,504.41 268.20,504.91 269.10,504.57 270.00,504.55 270.90,504.95 271.80,504.57 272.70,504.66 273.60,504.84 274.50,505.06 275.40,504.87 276.30,505.26 277.20,504.96 278.10,505.07 279.00,504.76 279.90,504.81 280.80,505.12 281.70,504.67 282.60,504.58 283.50,504.94 284.40,505.20 285.30,504.83 286.20,505.76 287.10,505.19 288.00,504.84 288.90,504.41 289.80,505.27 290.70,504.58 291.60,504.34 292.50,504.49 293.40,505.83 294.30,504.76 295.20,505.05 296.10,504.81 297.00,505.19 297.90,505.33" fill="none" stroke="#8a2be8" stroke-width="1.45" stroke-linejoin="round"/>
<path d="M185.7 502.0V507.4M184.6 502.0h2.2M184.6 507.4h2.2M188.1 501.9V507.3M187.0 501.9h2.2M187.0 507.3h2.2M190.5 501.7V507.1M189.4 501.7h2.2M189.4 507.1h2.2M192.9 501.5V506.9M191.8 501.5h2.2M191.8 506.9h2.2M195.3 501.3V506.7M194.2 501.3h2.2M194.2 506.7h2.2M197.7 501.2V506.6M196.6 501.2h2.2M196.6 506.6h2.2M200.1 501.2V506.6M199.0 501.2h2.2M199.0 506.6h2.2M202.5 501.2V506.6M201.4 501.2h2.2M201.4 506.6h2.2M204.9 501.2V506.6M203.8 501.2h2.2M203.8 506.6h2.2M207.3 501.2V506.7M206.2 501.2h2.2M206.2 506.7h2.2M209.7 501.3V506.7M208.6 501.3h2.2M208.6 506.7h2.2M212.1 501.3V506.7M211.0 501.3h2.2M211.0 506.7h2.2M214.5 501.3V506.8M213.4 501.3h2.2M213.4 506.8h2.2M216.9 501.4V506.8M215.8 501.4h2.2M215.8 506.8h2.2M219.3 501.4V506.8M218.2 501.4h2.2M218.2 506.8h2.2M221.7 501.4V506.8M220.6 501.4h2.2M220.6 506.8h2.2M224.1 501.5V506.9M223.0 501.5h2.2M223.0 506.9h2.2M226.5 501.5V506.9M225.4 501.5h2.2M225.4 506.9h2.2M228.9 501.5V506.9M227.8 501.5h2.2M227.8 506.9h2.2M231.3 501.6V507.0M230.2 501.6h2.2M230.2 507.0h2.2M233.7 501.6V507.0M232.6 501.6h2.2M232.6 507.0h2.2M236.1 501.6V507.0M235.0 501.6h2.2M235.0 507.0h2.2M238.5 501.7V507.1M237.4 501.7h2.2M237.4 507.1h2.2M240.9 501.7V507.1M239.8 501.7h2.2M239.8 507.1h2.2M243.3 501.7V507.1M242.2 501.7h2.2M242.2 507.1h2.2M245.7 501.8V507.2M244.6 501.8h2.2M244.6 507.2h2.2M248.1 501.8V507.2M247.0 501.8h2.2M247.0 507.2h2.2M250.5 501.8V507.2M249.4 501.8h2.2M249.4 507.2h2.2M252.9 501.8V507.3M251.8 501.8h2.2M251.8 507.3h2.2M255.3 501.9V507.3M254.2 501.9h2.2M254.2 507.3h2.2M257.7 501.9V507.3M256.6 501.9h2.2M256.6 507.3h2.2M260.1 501.9V507.4M259.0 501.9h2.2M259.0 507.4h2.2M262.5 502.0V507.4M261.4 502.0h2.2M261.4 507.4h2.2M264.9 502.0V507.4M263.8 502.0h2.2M263.8 507.4h2.2M267.3 502.0V507.5M266.2 502.0h2.2M266.2 507.5h2.2M269.7 502.1V507.5M268.6 502.1h2.2M268.6 507.5h2.2M272.1 502.1V507.5M271.0 502.1h2.2M271.0 507.5h2.2M274.5 502.1V507.5M273.4 502.1h2.2M273.4 507.5h2.2M276.9 502.2V507.6M275.8 502.2h2.2M275.8 507.6h2.2M279.3 502.2V507.6M278.2 502.2h2.2M278.2 507.6h2.2M281.7 502.2V507.6M280.6 502.2h2.2M280.6 507.6h2.2M284.1 502.3V507.7M283.0 502.3h2.2M283.0 507.7h2.2M286.5 502.3V507.7M285.4 502.3h2.2M285.4 507.7h2.2M288.9 502.3V507.7M287.8 502.3h2.2M287.8 507.7h2.2M291.3 502.4V507.8M290.2 502.4h2.2M290.2 507.8h2.2M293.7 502.4V507.8M292.6 502.4h2.2M292.6 507.8h2.2M296.1 502.4V507.8M295.0 502.4h2.2M295.0 507.8h2.2M298.5 502.4V507.9M297.4 502.4h2.2M297.4 507.9h2.2" stroke="#d2d2d2" stroke-width="0.4" fill="none"/>
<polyline points="184.50,504.67 185.40,504.75 186.30,504.20 187.20,504.36 188.10,504.66 189.00,504.38 189.90,504.15 190.80,504.16 191.70,504.27 192.60,504.39 193.50,504.34 194.40,504.18 195.30,504.15 196.20,504.43 197.10,504.34 198.00,503.60 198.90,504.22 199.80,504.28 200.70,503.88 201.60,503.42 202.50,503.49 203.40,504.03 204.30,504.23 205.20,504.09 206.10,504.22 207.00,504.12 207.90,503.81 208.80,504.30 209.70,504.23 210.60,504.07 211.50,504.01 212.40,504.26 213.30,504.28 214.20,504.40 215.10,504.29 216.00,503.90 216.90,504.15 217.80,505.06 218.70,503.91 219.60,504.13 220.50,504.40 221.40,504.22 222.30,505.10 223.20,504.68 224.10,503.81 225.00,503.51 225.90,503.51 226.80,504.44 227.70,504.21 228.60,503.99 229.50,504.63 230.40,503.71 231.30,504.50 232.20,504.17 233.10,504.65 234.00,504.19 234.90,504.32 235.80,503.99 236.70,504.70 237.60,504.36 238.50,503.79 239.40,504.75 240.30,504.28 241.20,504.26 242.10,504.57 243.00,504.51 243.90,503.99 244.80,504.09 245.70,504.28 246.60,504.39 247.50,504.84 248.40,504.47 249.30,503.94 250.20,504.19 251.10,504.96 252.00,505.20 252.90,504.76 253.80,504.52 254.70,504.75 255.60,504.69 256.50,504.50 257.40,504.33 258.30,504.56 259.20,504.24 260.10,505.10 261.00,504.52 261.90,504.54 262.80,505.16 263.70,504.30 264.60,505.22 265.50,505.18 266.40,503.89 267.30,504.34 268.20,504.64 269.10,504.34 270.00,504.42 270.90,505.15 271.80,504.65 272.70,504.37 273.60,504.88 274.50,504.82 275.40,505.00 276.30,504.63 277.20,505.05 278.10,505.08 279.00,505.29 279.90,505.21 280.80,504.86 281.70,504.79 282.60,505.07 283.50,505.29 284.40,504.87 285.30,504.87 286.20,504.59 287.10,505.17 288.00,505.15 288.90,504.87 289.80,504.56 290.70,505.07 291.60,505.09 292.50,505.38 293.40,505.21 294.30,504.80 295.20,504.84 296.10,504.77 297.00,505.66 297.90,504.88" fill="none" stroke="#1aa6c8" stroke-width="1.45" stroke-linejoin="round"/>
<path d="M185.7 502.0V507.4M184.6 502.0h2.2M184.6 507.4h2.2M188.1 501.9V507.3M187.0 501.9h2.2M187.0 507.3h2.2M190.5 501.7V507.1M189.4 501.7h2.2M189.4 507.1h2.2M192.9 501.5V506.9M191.8 501.5h2.2M191.8 506.9h2.2M195.3 501.3V506.7M194.2 501.3h2.2M194.2 506.7h2.2M197.7 501.2V506.6M196.6 501.2h2.2M196.6 506.6h2.2M200.1 501.2V506.6M199.0 501.2h2.2M199.0 506.6h2.2M202.5 501.2V506.6M201.4 501.2h2.2M201.4 506.6h2.2M204.9 501.3V506.7M203.8 501.3h2.2M203.8 506.7h2.2M207.3 501.3V506.7M206.2 501.3h2.2M206.2 506.7h2.2M209.7 501.4V506.8M208.6 501.4h2.2M208.6 506.8h2.2M212.1 501.4V506.8M211.0 501.4h2.2M211.0 506.8h2.2M214.5 501.5V506.9M213.4 501.5h2.2M213.4 506.9h2.2M216.9 501.5V506.9M215.8 501.5h2.2M215.8 506.9h2.2M219.3 501.6V507.0M218.2 501.6h2.2M218.2 507.0h2.2M221.7 501.6V507.0M220.6 501.6h2.2M220.6 507.0h2.2M224.1 501.6V507.1M223.0 501.6h2.2M223.0 507.1h2.2M226.5 501.7V507.1M225.4 501.7h2.2M225.4 507.1h2.2M228.9 501.7V507.2M227.8 501.7h2.2M227.8 507.2h2.2M231.3 501.8V507.2M230.2 501.8h2.2M230.2 507.2h2.2M233.7 501.8V507.3M232.6 501.8h2.2M232.6 507.3h2.2M236.1 501.9V507.3M235.0 501.9h2.2M235.0 507.3h2.2M238.5 501.9V507.4M237.4 501.9h2.2M237.4 507.4h2.2M240.9 502.0V507.4M239.8 502.0h2.2M239.8 507.4h2.2M243.3 502.0V507.4M242.2 502.0h2.2M242.2 507.4h2.2M245.7 502.1V507.5M244.6 502.1h2.2M244.6 507.5h2.2M248.1 502.1V507.5M247.0 502.1h2.2M247.0 507.5h2.2M250.5 502.2V507.6M249.4 502.2h2.2M249.4 507.6h2.2M252.9 502.2V507.6M251.8 502.2h2.2M251.8 507.6h2.2M255.3 502.3V507.7M254.2 502.3h2.2M254.2 507.7h2.2M257.7 502.3V507.7M256.6 502.3h2.2M256.6 507.7h2.2M260.1 502.4V507.8M259.0 502.4h2.2M259.0 507.8h2.2M262.5 502.4V507.8M261.4 502.4h2.2M261.4 507.8h2.2M264.9 502.5V507.9M263.8 502.5h2.2M263.8 507.9h2.2M267.3 502.5V507.9M266.2 502.5h2.2M266.2 507.9h2.2M269.7 502.6V508.0M268.6 502.6h2.2M268.6 508.0h2.2M272.1 502.6V508.0M271.0 502.6h2.2M271.0 508.0h2.2M274.5 502.7V508.1M273.4 502.7h2.2M273.4 508.1h2.2M276.9 502.7V508.1M275.8 502.7h2.2M275.8 508.1h2.2M279.3 502.7V508.2M278.2 502.7h2.2M278.2 508.2h2.2M281.7 502.8V508.2M280.6 502.8h2.2M280.6 508.2h2.2M284.1 502.8V508.3M283.0 502.8h2.2M283.0 508.3h2.2M286.5 502.9V508.3M285.4 502.9h2.2M285.4 508.3h2.2M288.9 502.9V508.4M287.8 502.9h2.2M287.8 508.4h2.2M291.3 503.0V508.4M290.2 503.0h2.2M290.2 508.4h2.2M293.7 503.0V508.4M292.6 503.0h2.2M292.6 508.4h2.2M296.1 503.1V508.5M295.0 503.1h2.2M295.0 508.5h2.2M298.5 503.1V508.5M297.4 503.1h2.2M297.4 508.5h2.2" stroke="#d2d2d2" stroke-width="0.4" fill="none"/>
<polyline points="184.50,504.67 185.40,504.98 186.30,504.48 187.20,505.38 188.10,504.60 189.00,504.78 189.90,504.02 190.80,504.30 191.70,503.85 192.60,504.32 193.50,503.48 194.40,504.18 195.30,503.38 196.20,504.10 197.10,504.22 198.00,503.61 198.90,504.01 199.80,503.91 200.70,504.33 201.60,504.02 202.50,503.89 203.40,504.17 204.30,503.84 205.20,504.71 206.10,503.71 207.00,504.15 207.90,503.57 208.80,504.16 209.70,504.28 210.60,504.23 211.50,504.02 212.40,503.93 213.30,504.29 214.20,504.41 215.10,504.04 216.00,503.93 216.90,504.77 217.80,504.57 218.70,504.46 219.60,503.72 220.50,503.89 221.40,504.05 222.30,504.16 223.20,504.70 224.10,504.00 225.00,504.52 225.90,504.65 226.80,503.79 227.70,504.89 228.60,504.00 229.50,504.40 230.40,504.78 231.30,504.44 232.20,504.79 233.10,504.48 234.00,504.76 234.90,504.95 235.80,503.74 236.70,504.77 237.60,504.31 238.50,504.66 239.40,504.44 240.30,505.08 241.20,505.03 242.10,505.76 243.00,504.41 243.90,504.61 244.80,505.14 245.70,504.52 246.60,504.61 247.50,503.89 248.40,504.76 249.30,504.56 250.20,504.68 251.10,504.65 252.00,504.92 252.90,505.06 253.80,504.72 254.70,504.57 255.60,505.36 256.50,505.36 257.40,505.03 258.30,504.46 259.20,505.12 260.10,505.62 261.00,504.83 261.90,504.87 262.80,504.50 263.70,505.08 264.60,504.53 265.50,505.41 266.40,504.91 267.30,505.17 268.20,505.61 269.10,505.34 270.00,504.84 270.90,504.93 271.80,505.43 272.70,504.97 273.60,505.05 274.50,505.07 275.40,505.28 276.30,505.30 277.20,505.68 278.10,505.45 279.00,505.41 279.90,505.70 280.80,505.58 281.70,505.45 282.60,505.45 283.50,505.20 284.40,505.88 285.30,505.70 286.20,505.51 287.10,505.73 288.00,505.52 288.90,505.79 289.80,505.29 290.70,505.75 291.60,506.06 292.50,505.48 293.40,505.20 294.30,506.37 295.20,505.81 296.10,505.76 297.00,505.47 297.90,505.33" fill="none" stroke="#ff7a10" stroke-width="1.45" stroke-linejoin="round"/>
<path d="M185.7 501.7V507.2M184.6 501.7h2.2M184.6 507.2h2.2M188.1 501.4V506.8M187.0 501.4h2.2M187.0 506.8h2.2M190.5 500.9V506.3M189.4 500.9h2.2M189.4 506.3h2.2M192.9 500.4V505.8M191.8 500.4h2.2M191.8 505.8h2.2M195.3 499.9V505.4M194.2 499.9h2.2M194.2 505.4h2.2M197.7 499.7V505.1M196.6 499.7h2.2M196.6 505.1h2.2M200.1 499.7V505.1M199.0 499.7h2.2M199.0 505.1h2.2M202.5 499.7V505.2M201.4 499.7h2.2M201.4 505.2h2.2M204.9 499.8V505.3M203.8 499.8h2.2M203.8 505.3h2.2M207.3 499.9V505.3M206.2 499.9h2.2M206.2 505.3h2.2M209.7 500.0V505.4M208.6 500.0h2.2M208.6 505.4h2.2M212.1 500.1V505.5M211.0 500.1h2.2M211.0 505.5h2.2M214.5 500.2V505.6M213.4 500.2h2.2M213.4 505.6h2.2M216.9 500.3V505.7M215.8 500.3h2.2M215.8 505.7h2.2M219.3 500.4V505.8M218.2 500.4h2.2M218.2 505.8h2.2M221.7 500.5V505.9M220.6 500.5h2.2M220.6 505.9h2.2M224.1 500.6V506.0M223.0 500.6h2.2M223.0 506.0h2.2M226.5 500.6V506.1M225.4 500.6h2.2M225.4 506.1h2.2M228.9 500.7V506.2M227.8 500.7h2.2M227.8 506.2h2.2M231.3 500.8V506.2M230.2 500.8h2.2M230.2 506.2h2.2M233.7 500.9V506.3M232.6 500.9h2.2M232.6 506.3h2.2M236.1 501.0V506.4M235.0 501.0h2.2M235.0 506.4h2.2M238.5 501.1V506.5M237.4 501.1h2.2M237.4 506.5h2.2M240.9 501.1V506.5M239.8 501.1h2.2M239.8 506.5h2.2M243.3 501.1V506.5M242.2 501.1h2.2M242.2 506.5h2.2M245.7 501.1V506.5M244.6 501.1h2.2M244.6 506.5h2.2M248.1 501.1V506.6M247.0 501.1h2.2M247.0 506.6h2.2M250.5 501.1V506.6M249.4 501.1h2.2M249.4 506.6h2.2M252.9 501.2V506.6M251.8 501.2h2.2M251.8 506.6h2.2M255.3 501.2V506.6M254.2 501.2h2.2M254.2 506.6h2.2M257.7 501.2V506.6M256.6 501.2h2.2M256.6 506.6h2.2M260.1 501.2V506.6M259.0 501.2h2.2M259.0 506.6h2.2M262.5 501.2V506.6M261.4 501.2h2.2M261.4 506.6h2.2M264.9 501.2V506.6M263.8 501.2h2.2M263.8 506.6h2.2M267.3 501.2V506.6M266.2 501.2h2.2M266.2 506.6h2.2M269.7 501.2V506.6M268.6 501.2h2.2M268.6 506.6h2.2M272.1 501.2V506.6M271.0 501.2h2.2M271.0 506.6h2.2M274.5 501.2V506.6M273.4 501.2h2.2M273.4 506.6h2.2M276.9 501.2V506.7M275.8 501.2h2.2M275.8 506.7h2.2M279.3 501.3V506.7M278.2 501.3h2.2M278.2 506.7h2.2M281.7 501.3V506.7M280.6 501.3h2.2M280.6 506.7h2.2M284.1 501.3V506.7M283.0 501.3h2.2M283.0 506.7h2.2M286.5 501.3V506.7M285.4 501.3h2.2M285.4 506.7h2.2M288.9 501.3V506.7M287.8 501.3h2.2M287.8 506.7h2.2M291.3 501.3V506.7M290.2 501.3h2.2M290.2 506.7h2.2M293.7 501.3V506.7M292.6 501.3h2.2M292.6 506.7h2.2M296.1 501.3V506.7M295.0 501.3h2.2M295.0 506.7h2.2M298.5 501.3V506.7M297.4 501.3h2.2M297.4 506.7h2.2" stroke="#d2d2d2" stroke-width="0.4" fill="none"/>
<polyline points="184.50,504.53 185.40,504.52 186.30,504.87 187.20,504.03 188.10,503.76 189.00,503.75 189.90,503.68 190.80,503.77 191.70,502.54 192.60,503.51 193.50,503.43 194.40,502.48 195.30,502.56 196.20,502.32 197.10,502.35 198.00,501.87 198.90,501.93 199.80,502.56 200.70,502.08 201.60,502.80 202.50,503.00 203.40,502.10 204.30,502.66 205.20,503.24 206.10,502.59 207.00,502.83 207.90,502.49 208.80,502.71 209.70,502.97 210.60,502.98 211.50,502.55 212.40,503.12 213.30,502.82 214.20,503.21 215.10,502.78 216.00,502.39 216.90,502.81 217.80,502.67 218.70,502.92 219.60,503.40 220.50,503.22 221.40,503.14 222.30,503.06 223.20,503.42 224.10,503.07 225.00,503.53 225.90,503.31 226.80,503.37 227.70,503.77 228.60,503.11 229.50,503.45 230.40,503.47 231.30,503.54 232.20,504.24 233.10,504.05 234.00,503.92 234.90,503.35 235.80,503.88 236.70,503.53 237.60,504.08 238.50,504.04 239.40,503.93 240.30,503.46 241.20,504.34 242.10,503.87 243.00,503.69 243.90,503.78 244.80,503.83 245.70,503.58 246.60,503.74 247.50,504.16 248.40,503.64 249.30,504.09 250.20,503.96 251.10,503.39 252.00,503.08 252.90,503.40 253.80,503.73 254.70,504.11 255.60,504.11 256.50,503.34 257.40,503.77 258.30,504.32 259.20,503.38 260.10,503.70 261.00,503.47 261.90,503.76 262.80,504.58 263.70,504.13 264.60,503.95 265.50,503.96 266.40,503.43 267.30,504.13 268.20,503.95 269.10,503.94 270.00,503.95 270.90,504.26 271.80,504.32 272.70,504.75 273.60,503.83 274.50,504.00 275.40,503.88 276.30,504.28 277.20,503.95 278.10,504.26 279.00,504.28 279.90,503.85 280.80,503.76 281.70,503.78 282.60,503.98 283.50,504.10 284.40,503.53 285.30,503.58 286.20,504.19 287.10,504.33 288.00,503.87 288.90,503.89 289.80,504.29 290.70,503.28 291.60,504.67 292.50,504.27 293.40,503.93 294.30,503.70 295.20,504.61 296.10,504.16 297.00,503.57 297.90,503.58" fill="none" stroke="#7ee0a0" stroke-width="1.45" stroke-linejoin="round"/>
<path d="M185.7 496.5V508.3M184.6 496.5h2.2M184.6 508.3h2.2M188.1 494.1V505.8M187.0 494.1h2.2M187.0 505.8h2.2M190.5 491.4V503.1M189.4 491.4h2.2M189.4 503.1h2.2M192.9 489.2V500.9M191.8 489.2h2.2M191.8 500.9h2.2M195.3 487.7V499.5M194.2 487.7h2.2M194.2 499.5h2.2M197.7 487.2V498.9M196.6 487.2h2.2M196.6 498.9h2.2M200.1 487.4V499.1M199.0 487.4h2.2M199.0 499.1h2.2M202.5 488.0V499.8M201.4 488.0h2.2M201.4 499.8h2.2M204.9 488.7V500.4M203.8 488.7h2.2M203.8 500.4h2.2M207.3 489.3V501.0M206.2 489.3h2.2M206.2 501.0h2.2M209.7 489.7V501.4M208.6 489.7h2.2M208.6 501.4h2.2M212.1 489.9V501.7M211.0 489.9h2.2M211.0 501.7h2.2M214.5 490.0V501.8M213.4 490.0h2.2M213.4 501.8h2.2M216.9 490.1V501.9M215.8 490.1h2.2M215.8 501.9h2.2M219.3 490.2V502.0M218.2 490.2h2.2M218.2 502.0h2.2M221.7 490.3V502.0M220.6 490.3h2.2M220.6 502.0h2.2M224.1 490.4V502.1M223.0 490.4h2.2M223.0 502.1h2.2M226.5 490.5V502.2M225.4 490.5h2.2M225.4 502.2h2.2M228.9 490.6V502.3M227.8 490.6h2.2M227.8 502.3h2.2M231.3 490.7V502.4M230.2 490.7h2.2M230.2 502.4h2.2M233.7 490.8V502.5M232.6 490.8h2.2M232.6 502.5h2.2M236.1 490.9V502.6M235.0 490.9h2.2M235.0 502.6h2.2M238.5 490.9V502.7M237.4 490.9h2.2M237.4 502.7h2.2M240.9 491.0V502.7M239.8 491.0h2.2M239.8 502.7h2.2M243.3 491.1V502.8M242.2 491.1h2.2M242.2 502.8h2.2M245.7 491.1V502.8M244.6 491.1h2.2M244.6 502.8h2.2M248.1 491.2V502.9M247.0 491.2h2.2M247.0 502.9h2.2M250.5 491.2V502.9M249.4 491.2h2.2M249.4 502.9h2.2M252.9 491.3V503.0M251.8 491.3h2.2M251.8 503.0h2.2M255.3 491.3V503.1M254.2 491.3h2.2M254.2 503.1h2.2M257.7 491.4V503.1M256.6 491.4h2.2M256.6 503.1h2.2M260.1 491.4V503.2M259.0 491.4h2.2M259.0 503.2h2.2M262.5 491.5V503.2M261.4 491.5h2.2M261.4 503.2h2.2M264.9 491.5V503.3M263.8 491.5h2.2M263.8 503.3h2.2M267.3 491.6V503.3M266.2 491.6h2.2M266.2 503.3h2.2M269.7 491.7V503.4M268.6 491.7h2.2M268.6 503.4h2.2M272.1 491.7V503.4M271.0 491.7h2.2M271.0 503.4h2.2M274.5 491.8V503.5M273.4 491.8h2.2M273.4 503.5h2.2M276.9 491.8V503.5M275.8 491.8h2.2M275.8 503.5h2.2M279.3 491.9V503.6M278.2 491.9h2.2M278.2 503.6h2.2M281.7 491.9V503.7M280.6 491.9h2.2M280.6 503.7h2.2M284.1 492.0V503.7M283.0 492.0h2.2M283.0 503.7h2.2M286.5 492.0V503.8M285.4 492.0h2.2M285.4 503.8h2.2M288.9 492.1V503.8M287.8 492.1h2.2M287.8 503.8h2.2M291.3 492.1V503.9M290.2 492.1h2.2M290.2 503.9h2.2M293.7 492.2V503.9M292.6 492.2h2.2M292.6 503.9h2.2M296.1 492.2V504.0M295.0 492.2h2.2M295.0 504.0h2.2M298.5 492.3V504.0M297.4 492.3h2.2M297.4 504.0h2.2" stroke="#d2d2d2" stroke-width="0.4" fill="none"/>
<polyline points="184.50,503.29 185.40,502.73 186.30,501.84 187.20,501.21 188.10,499.80 189.00,499.24 189.90,498.55 190.80,497.44 191.70,496.07 192.60,495.73 193.50,494.28 194.40,493.65 195.30,493.29 196.20,493.08 197.10,492.74 198.00,492.95 198.90,492.81 199.80,493.07 200.70,493.16 201.60,493.96 202.50,494.10 203.40,494.46 204.30,494.14 205.20,494.49 206.10,495.14 207.00,495.42 207.90,495.48 208.80,495.17 209.70,495.61 210.60,495.75 211.50,495.97 212.40,495.85 213.30,495.35 214.20,496.11 215.10,496.04 216.00,495.42 216.90,495.77 217.80,496.40 218.70,495.72 219.60,496.50 220.50,495.96 221.40,496.97 222.30,496.52 223.20,495.94 224.10,496.46 225.00,496.53 225.90,496.32 226.80,496.37 227.70,496.55 228.60,496.65 229.50,495.90 230.40,496.03 231.30,496.44 232.20,496.94 233.10,496.78 234.00,496.73 234.90,496.52 235.80,496.20 236.70,496.90 237.60,496.72 238.50,496.93 239.40,496.78 240.30,497.06 241.20,496.75 242.10,496.52 243.00,497.04 243.90,497.04 244.80,496.92 245.70,497.39 246.60,496.42 247.50,497.44 248.40,497.15 249.30,497.34 250.20,496.60 251.10,497.25 252.00,497.28 252.90,496.54 253.80,497.19 254.70,497.42 255.60,497.20 256.50,497.16 257.40,497.47 258.30,497.32 259.20,497.35 260.10,497.07 261.00,497.07 261.90,497.07 262.80,497.40 263.70,497.13 264.60,497.47 265.50,497.05 266.40,497.31 267.30,497.60 268.20,497.09 269.10,497.98 270.00,497.83 270.90,497.80 271.80,497.60 272.70,497.97 273.60,497.99 274.50,498.22 275.40,497.61 276.30,497.91 277.20,496.99 278.10,497.46 279.00,498.09 279.90,497.33 280.80,497.73 281.70,497.44 282.60,498.16 283.50,497.46 284.40,497.50 285.30,498.00 286.20,498.16 287.10,498.03 288.00,497.84 288.90,497.18 289.80,497.39 290.70,497.51 291.60,498.08 292.50,498.13 293.40,497.93 294.30,498.16 295.20,498.24 296.10,498.17 297.00,497.85 297.90,498.15" fill="none" stroke="#f4a0b8" stroke-width="1.45" stroke-linejoin="round"/>
<polyline points="178.50,504.02 178.98,504.40 179.46,504.40 179.94,504.53 180.42,503.49 180.90,504.24 181.38,503.43 181.86,504.61 182.34,503.82 182.82,505.52 183.30,504.89 183.78,504.68 184.26,505.09" fill="none" stroke="#c6c6c6" stroke-width="1.6" stroke-linejoin="round"/>
<polyline points="178.50,504.26 178.98,504.85 179.46,504.37 179.94,504.76 180.42,504.36 180.90,504.60 181.38,505.13 181.86,504.77 182.34,504.52 182.82,505.45 183.30,504.55 183.78,503.79 184.26,504.82" fill="none" stroke="#c6c6c6" stroke-width="1.6" stroke-linejoin="round"/>
<polyline points="178.50,503.81 178.98,503.80 179.46,504.81 179.94,503.41 180.42,502.65 180.90,505.10 181.38,502.99 181.86,504.98 182.34,503.55 182.82,505.81 183.30,503.84 183.78,504.55 184.26,505.53" fill="none" stroke="#c6c6c6" stroke-width="1.6" stroke-linejoin="round"/>
<polyline points="178.50,504.75 178.98,504.94 179.46,504.88 179.94,504.05 180.42,504.48 180.90,506.11 181.38,504.66 181.86,504.18 182.34,504.48 182.82,503.43 183.30,505.86 183.78,504.48 184.26,504.64" fill="none" stroke="#c6c6c6" stroke-width="1.6" stroke-linejoin="round"/>
<polyline points="178.50,503.70 178.98,505.14 179.46,505.15 179.94,504.42 180.42,504.30 180.90,505.64 181.38,504.20 181.86,504.50 182.34,504.04 182.82,506.36 183.30,504.27 183.78,505.25 184.26,504.99" fill="none" stroke="#c6c6c6" stroke-width="1.6" stroke-linejoin="round"/>
<polyline points="178.50,503.66 178.98,503.07 179.46,504.16 179.94,504.38 180.42,503.46 180.90,505.01 181.38,504.56 181.86,504.84 182.34,505.21 182.82,504.45 183.30,503.23 183.78,504.47 184.26,504.32" fill="none" stroke="#c6c6c6" stroke-width="1.6" stroke-linejoin="round"/>
<polyline points="178.50,504.21 178.98,503.45 179.46,504.14 179.94,504.90 180.42,504.28 180.90,503.41 181.38,504.49 181.86,503.65 182.34,504.55 182.82,503.14 183.30,504.35 183.78,504.10 184.26,504.73" fill="none" stroke="#c6c6c6" stroke-width="1.6" stroke-linejoin="round"/>
<polyline points="178.50,503.60 178.98,504.35 179.46,505.23 179.94,504.04 180.42,505.08 180.90,503.25 181.38,503.70 181.86,504.18 182.34,503.65 182.82,505.78 183.30,502.82 183.78,504.11 184.26,502.97" fill="none" stroke="#c6c6c6" stroke-width="1.6" stroke-linejoin="round"/>
<line x1="178.50" y1="416.40" x2="178.50" y2="529.30" stroke="#444" stroke-width="1.0"/>
<line x1="175.10" y1="529.30" x2="298.90" y2="529.30" stroke="#444" stroke-width="1.0"/>
<line x1="175.10" y1="529.30" x2="178.50" y2="529.30" stroke="#444" stroke-width="0.8"/>
<line x1="176.30" y1="518.02" x2="178.50" y2="518.02" stroke="#444" stroke-width="0.8"/>
<line x1="175.10" y1="506.74" x2="178.50" y2="506.74" stroke="#444" stroke-width="0.8"/>
<line x1="176.30" y1="495.46" x2="178.50" y2="495.46" stroke="#444" stroke-width="0.8"/>
<line x1="175.10" y1="484.18" x2="178.50" y2="484.18" stroke="#444" stroke-width="0.8"/>
<line x1="176.30" y1="472.90" x2="178.50" y2="472.90" stroke="#444" stroke-width="0.8"/>
<line x1="175.10" y1="461.62" x2="178.50" y2="461.62" stroke="#444" stroke-width="0.8"/>
<line x1="176.30" y1="450.34" x2="178.50" y2="450.34" stroke="#444" stroke-width="0.8"/>
<line x1="175.10" y1="439.06" x2="178.50" y2="439.06" stroke="#444" stroke-width="0.8"/>
<line x1="176.30" y1="427.78" x2="178.50" y2="427.78" stroke="#444" stroke-width="0.8"/>
<line x1="175.10" y1="416.50" x2="178.50" y2="416.50" stroke="#444" stroke-width="0.8"/>
<line x1="178.50" y1="529.30" x2="178.50" y2="533.60" stroke="#444" stroke-width="0.8"/>
<line x1="184.50" y1="529.30" x2="184.50" y2="532.40" stroke="#444" stroke-width="0.8"/>
<line x1="190.50" y1="529.30" x2="190.50" y2="532.40" stroke="#444" stroke-width="0.8"/>
<line x1="196.50" y1="529.30" x2="196.50" y2="532.40" stroke="#444" stroke-width="0.8"/>
<line x1="202.50" y1="529.30" x2="202.50" y2="532.40" stroke="#444" stroke-width="0.8"/>
<line x1="208.50" y1="529.30" x2="208.50" y2="533.60" stroke="#444" stroke-width="0.8"/>
<line x1="214.50" y1="529.30" x2="214.50" y2="532.40" stroke="#444" stroke-width="0.8"/>
<line x1="220.50" y1="529.30" x2="220.50" y2="532.40" stroke="#444" stroke-width="0.8"/>
<line x1="226.50" y1="529.30" x2="226.50" y2="532.40" stroke="#444" stroke-width="0.8"/>
<line x1="232.50" y1="529.30" x2="232.50" y2="532.40" stroke="#444" stroke-width="0.8"/>
<line x1="238.50" y1="529.30" x2="238.50" y2="533.60" stroke="#444" stroke-width="0.8"/>
<line x1="244.50" y1="529.30" x2="244.50" y2="532.40" stroke="#444" stroke-width="0.8"/>
<line x1="250.50" y1="529.30" x2="250.50" y2="532.40" stroke="#444" stroke-width="0.8"/>
<line x1="256.50" y1="529.30" x2="256.50" y2="532.40" stroke="#444" stroke-width="0.8"/>
<line x1="262.50" y1="529.30" x2="262.50" y2="532.40" stroke="#444" stroke-width="0.8"/>
<line x1="268.50" y1="529.30" x2="268.50" y2="533.60" stroke="#444" stroke-width="0.8"/>
<line x1="274.50" y1="529.30" x2="274.50" y2="532.40" stroke="#444" stroke-width="0.8"/>
<line x1="280.50" y1="529.30" x2="280.50" y2="532.40" stroke="#444" stroke-width="0.8"/>
<line x1="286.50" y1="529.30" x2="286.50" y2="532.40" stroke="#444" stroke-width="0.8"/>
<line x1="292.50" y1="529.30" x2="292.50" y2="532.40" stroke="#444" stroke-width="0.8"/>
<line x1="298.50" y1="529.30" x2="298.50" y2="533.60" stroke="#444" stroke-width="0.8"/>
<text x="178.50" y="542.90" font-size="8.4" fill="#2c2c2c" text-anchor="middle" font-weight="normal">0</text>
<text x="208.50" y="542.90" font-size="8.4" fill="#2c2c2c" text-anchor="middle" font-weight="normal">500</text>
<text x="238.50" y="542.90" font-size="8.4" fill="#2c2c2c" text-anchor="middle" font-weight="normal">1,000</text>
<text x="268.50" y="542.90" font-size="8.4" fill="#2c2c2c" text-anchor="middle" font-weight="normal">1,500</text>
<text x="298.50" y="542.90" font-size="8.4" fill="#2c2c2c" text-anchor="middle" font-weight="normal">2,000</text>
<text x="238.50" y="554.60" font-size="8.5" fill="#2c2c2c" text-anchor="middle" font-weight="normal">Time (s)</text>
<text x="212.3" y="432.4" font-size="9" fill="#222" lengthAdjust="spacingAndGlyphs" textLength="64.2">+ <tspan fill="#5451a0">PRDX2ΔC<tspan font-size="5.5" dy="1.8">P</tspan><tspan dy="-1.8">ΔC</tspan><tspan font-size="5.5" dy="1.8">R</tspan></tspan></text>
<path d="M367.3 485.6V491.1M366.2 485.6h2.2M366.2 491.1h2.2M369.7 486.1V491.5M368.6 486.1h2.2M368.6 491.5h2.2M372.1 486.5V491.9M371.0 486.5h2.2M371.0 491.9h2.2M374.5 486.9V492.3M373.4 486.9h2.2M373.4 492.3h2.2M376.9 487.3V492.7M375.8 487.3h2.2M375.8 492.7h2.2M379.3 487.6V493.1M378.2 487.6h2.2M378.2 493.1h2.2M381.7 488.0V493.4M380.6 488.0h2.2M380.6 493.4h2.2M384.1 488.4V493.8M383.0 488.4h2.2M383.0 493.8h2.2M386.5 488.8V494.2M385.4 488.8h2.2M385.4 494.2h2.2M388.9 489.2V494.6M387.8 489.2h2.2M387.8 494.6h2.2M391.3 489.5V494.9M390.2 489.5h2.2M390.2 494.9h2.2M393.7 489.8V495.2M392.6 489.8h2.2M392.6 495.2h2.2M396.1 490.1V495.5M395.0 490.1h2.2M395.0 495.5h2.2M398.5 490.4V495.9M397.4 490.4h2.2M397.4 495.9h2.2M400.9 490.7V496.2M399.8 490.7h2.2M399.8 496.2h2.2M403.3 491.1V496.5M402.2 491.1h2.2M402.2 496.5h2.2M405.7 491.4V496.8M404.6 491.4h2.2M404.6 496.8h2.2M408.1 491.7V497.1M407.0 491.7h2.2M407.0 497.1h2.2M410.5 492.0V497.4M409.4 492.0h2.2M409.4 497.4h2.2M412.9 492.3V497.7M411.8 492.3h2.2M411.8 497.7h2.2M415.3 492.6V498.0M414.2 492.6h2.2M414.2 498.0h2.2M417.7 492.9V498.3M416.6 492.9h2.2M416.6 498.3h2.2M420.1 493.2V498.6M419.0 493.2h2.2M419.0 498.6h2.2M422.5 493.6V499.0M421.4 493.6h2.2M421.4 499.0h2.2M424.9 493.9V499.3M423.8 493.9h2.2M423.8 499.3h2.2M427.3 494.2V499.6M426.2 494.2h2.2M426.2 499.6h2.2M429.7 494.6V500.0M428.6 494.6h2.2M428.6 500.0h2.2M432.1 494.9V500.3M431.0 494.9h2.2M431.0 500.3h2.2M434.5 495.3V500.7M433.4 495.3h2.2M433.4 500.7h2.2M436.9 495.6V501.0M435.8 495.6h2.2M435.8 501.0h2.2M439.3 495.9V501.4M438.2 495.9h2.2M438.2 501.4h2.2M441.7 496.3V501.7M440.6 496.3h2.2M440.6 501.7h2.2M444.1 496.6V502.0M443.0 496.6h2.2M443.0 502.0h2.2M446.5 497.0V502.4M445.4 497.0h2.2M445.4 502.4h2.2M448.9 497.3V502.7M447.8 497.3h2.2M447.8 502.7h2.2M451.3 497.5V502.9M450.2 497.5h2.2M450.2 502.9h2.2M453.7 497.7V503.1M452.6 497.7h2.2M452.6 503.1h2.2M456.1 497.9V503.3M455.0 497.9h2.2M455.0 503.3h2.2M458.5 498.1V503.5M457.4 498.1h2.2M457.4 503.5h2.2M460.9 498.2V503.6M459.8 498.2h2.2M459.8 503.6h2.2M463.3 498.4V503.8M462.2 498.4h2.2M462.2 503.8h2.2M465.7 498.5V504.0M464.6 498.5h2.2M464.6 504.0h2.2M468.1 498.7V504.1M467.0 498.7h2.2M467.0 504.1h2.2M470.5 498.9V504.3M469.4 498.9h2.2M469.4 504.3h2.2M472.9 499.0V504.4M471.8 499.0h2.2M471.8 504.4h2.2M475.3 499.2V504.6M474.2 499.2h2.2M474.2 504.6h2.2M477.7 499.3V504.8M476.6 499.3h2.2M476.6 504.8h2.2M480.1 499.4V504.9M479.0 499.4h2.2M479.0 504.9h2.2" stroke="#d2d2d2" stroke-width="0.4" fill="none"/>
<polyline points="366.10,488.09 367.00,487.47 367.90,488.98 368.80,488.77 369.70,488.69 370.60,488.82 371.50,489.64 372.40,489.54 373.30,488.92 374.20,489.72 375.10,489.50 376.00,490.26 376.90,490.25 377.80,490.69 378.70,490.17 379.60,490.03 380.50,490.51 381.40,490.77 382.30,490.75 383.20,490.82 384.10,491.21 385.00,491.08 385.90,490.78 386.80,490.84 387.70,491.86 388.60,492.22 389.50,491.34 390.40,491.77 391.30,491.82 392.20,492.14 393.10,492.52 394.00,492.26 394.90,492.33 395.80,492.43 396.70,493.26 397.60,492.70 398.50,493.26 399.40,493.38 400.30,493.27 401.20,493.60 402.10,492.87 403.00,493.54 403.90,493.75 404.80,494.01 405.70,493.99 406.60,494.26 407.50,494.11 408.40,494.14 409.30,494.26 410.20,495.04 411.10,494.86 412.00,494.85 412.90,495.38 413.80,494.98 414.70,495.26 415.60,495.32 416.50,495.33 417.40,495.76 418.30,495.19 419.20,495.47 420.10,496.10 421.00,495.90 421.90,495.94 422.80,496.54 423.70,496.54 424.60,496.33 425.50,497.50 426.40,497.23 427.30,496.83 428.20,496.87 429.10,497.49 430.00,497.05 430.90,496.75 431.80,497.51 432.70,497.72 433.60,497.81 434.50,498.29 435.40,497.92 436.30,498.17 437.20,498.11 438.10,498.03 439.00,498.60 439.90,498.68 440.80,498.76 441.70,498.44 442.60,499.59 443.50,499.25 444.40,499.58 445.30,499.47 446.20,499.37 447.10,499.73 448.00,499.64 448.90,499.92 449.80,500.31 450.70,500.38 451.60,500.70 452.50,500.26 453.40,500.53 454.30,500.21 455.20,500.23 456.10,500.88 457.00,501.01 457.90,500.53 458.80,501.06 459.70,500.78 460.60,500.71 461.50,501.09 462.40,500.46 463.30,501.33 464.20,501.01 465.10,501.34 466.00,502.18 466.90,501.39 467.80,501.44 468.70,501.27 469.60,501.56 470.50,501.81 471.40,501.80 472.30,501.79 473.20,501.52 474.10,501.90 475.00,501.49 475.90,501.66 476.80,502.23 477.70,501.72 478.60,502.81 479.50,502.12" fill="none" stroke="#2f8ff0" stroke-width="1.45" stroke-linejoin="round"/>
<path d="M367.3 485.5V490.9M366.2 485.5h2.2M366.2 490.9h2.2M369.7 485.7V491.2M368.6 485.7h2.2M368.6 491.2h2.2M372.1 485.9V491.3M371.0 485.9h2.2M371.0 491.3h2.2M374.5 486.1V491.5M373.4 486.1h2.2M373.4 491.5h2.2M376.9 486.2V491.7M375.8 486.2h2.2M375.8 491.7h2.2M379.3 486.4V491.8M378.2 486.4h2.2M378.2 491.8h2.2M381.7 486.6V492.0M380.6 486.6h2.2M380.6 492.0h2.2M384.1 486.7V492.1M383.0 486.7h2.2M383.0 492.1h2.2M386.5 486.9V492.3M385.4 486.9h2.2M385.4 492.3h2.2M388.9 487.0V492.5M387.8 487.0h2.2M387.8 492.5h2.2M391.3 487.2V492.6M390.2 487.2h2.2M390.2 492.6h2.2M393.7 487.4V492.8M392.6 487.4h2.2M392.6 492.8h2.2M396.1 487.6V493.0M395.0 487.6h2.2M395.0 493.0h2.2M398.5 487.7V493.2M397.4 487.7h2.2M397.4 493.2h2.2M400.9 487.9V493.3M399.8 487.9h2.2M399.8 493.3h2.2M403.3 488.1V493.5M402.2 488.1h2.2M402.2 493.5h2.2M405.7 488.3V493.7M404.6 488.3h2.2M404.6 493.7h2.2M408.1 488.5V493.9M407.0 488.5h2.2M407.0 493.9h2.2M410.5 488.6V494.1M409.4 488.6h2.2M409.4 494.1h2.2M412.9 488.8V494.2M411.8 488.8h2.2M411.8 494.2h2.2M415.3 489.0V494.4M414.2 489.0h2.2M414.2 494.4h2.2M417.7 489.2V494.6M416.6 489.2h2.2M416.6 494.6h2.2M420.1 489.3V494.7M419.0 489.3h2.2M419.0 494.7h2.2M422.5 489.4V494.9M421.4 489.4h2.2M421.4 494.9h2.2M424.9 489.5V494.9M423.8 489.5h2.2M423.8 494.9h2.2M427.3 489.6V495.0M426.2 489.6h2.2M426.2 495.0h2.2M429.7 489.7V495.1M428.6 489.7h2.2M428.6 495.1h2.2M432.1 489.8V495.2M431.0 489.8h2.2M431.0 495.2h2.2M434.5 489.9V495.3M433.4 489.9h2.2M433.4 495.3h2.2M436.9 489.9V495.4M435.8 489.9h2.2M435.8 495.4h2.2M439.3 490.0V495.4M438.2 490.0h2.2M438.2 495.4h2.2M441.7 490.1V495.5M440.6 490.1h2.2M440.6 495.5h2.2M444.1 490.2V495.6M443.0 490.2h2.2M443.0 495.6h2.2M446.5 490.3V495.7M445.4 490.3h2.2M445.4 495.7h2.2M448.9 490.3V495.8M447.8 490.3h2.2M447.8 495.8h2.2M451.3 490.4V495.8M450.2 490.4h2.2M450.2 495.8h2.2M453.7 490.5V495.9M452.6 490.5h2.2M452.6 495.9h2.2M456.1 490.6V496.0M455.0 490.6h2.2M455.0 496.0h2.2M458.5 490.7V496.1M457.4 490.7h2.2M457.4 496.1h2.2M460.9 490.7V496.2M459.8 490.7h2.2M459.8 496.2h2.2M463.3 490.8V496.2M462.2 490.8h2.2M462.2 496.2h2.2M465.7 490.9V496.3M464.6 490.9h2.2M464.6 496.3h2.2M468.1 491.0V496.4M467.0 491.0h2.2M467.0 496.4h2.2M470.5 491.1V496.5M469.4 491.1h2.2M469.4 496.5h2.2M472.9 491.2V496.6M471.8 491.2h2.2M471.8 496.6h2.2M475.3 491.2V496.6M474.2 491.2h2.2M474.2 496.6h2.2M477.7 491.3V496.7M476.6 491.3h2.2M476.6 496.7h2.2M480.1 491.4V496.8M479.0 491.4h2.2M479.0 496.8h2.2" stroke="#d2d2d2" stroke-width="0.4" fill="none"/>
<polyline points="366.10,487.99 367.00,488.45 367.90,488.29 368.80,488.00 369.70,488.45 370.60,488.57 371.50,488.18 372.40,488.89 373.30,488.97 374.20,488.46 375.10,488.63 376.00,489.34 376.90,488.90 377.80,488.76 378.70,489.12 379.60,489.25 380.50,489.14 381.40,489.18 382.30,489.53 383.20,489.10 384.10,489.92 385.00,489.50 385.90,488.86 386.80,489.94 387.70,489.67 388.60,490.44 389.50,490.05 390.40,490.21 391.30,489.89 392.20,490.13 393.10,489.46 394.00,490.40 394.90,490.19 395.80,490.18 396.70,490.11 397.60,490.10 398.50,490.94 399.40,489.82 400.30,490.68 401.20,490.88 402.10,491.24 403.00,490.93 403.90,491.42 404.80,490.86 405.70,491.18 406.60,490.95 407.50,491.38 408.40,491.17 409.30,490.56 410.20,490.96 411.10,491.35 412.00,491.78 412.90,491.07 413.80,492.14 414.70,492.11 415.60,491.32 416.50,491.99 417.40,491.43 418.30,491.74 419.20,491.29 420.10,491.46 421.00,491.89 421.90,492.32 422.80,491.97 423.70,491.75 424.60,492.18 425.50,493.17 426.40,492.41 427.30,492.43 428.20,492.37 429.10,492.49 430.00,492.05 430.90,492.84 431.80,492.33 432.70,493.13 433.60,493.22 434.50,492.88 435.40,492.83 436.30,492.91 437.20,492.88 438.10,492.49 439.00,492.53 439.90,492.72 440.80,492.71 441.70,493.03 442.60,493.15 443.50,493.32 444.40,493.03 445.30,493.29 446.20,493.06 447.10,492.76 448.00,492.85 448.90,492.63 449.80,493.37 450.70,493.81 451.60,493.49 452.50,492.54 453.40,492.98 454.30,493.37 455.20,492.84 456.10,493.42 457.00,492.79 457.90,493.48 458.80,493.51 459.70,493.19 460.60,493.81 461.50,493.53 462.40,492.89 463.30,493.40 464.20,493.92 465.10,493.68 466.00,493.64 466.90,493.90 467.80,493.56 468.70,493.33 469.60,493.74 470.50,493.50 471.40,493.72 472.30,493.80 473.20,494.11 474.10,493.60 475.00,493.50 475.90,494.10 476.80,494.27 477.70,493.85 478.60,494.01 479.50,493.70" fill="none" stroke="#d83a3a" stroke-width="1.45" stroke-linejoin="round"/>
<path d="M367.3 485.4V490.8M366.2 485.4h2.2M366.2 490.8h2.2M369.7 485.6V491.0M368.6 485.6h2.2M368.6 491.0h2.2M372.1 485.6V491.1M371.0 485.6h2.2M371.0 491.1h2.2M374.5 485.7V491.1M373.4 485.7h2.2M373.4 491.1h2.2M376.9 485.7V491.2M375.8 485.7h2.2M375.8 491.2h2.2M379.3 485.8V491.2M378.2 485.8h2.2M378.2 491.2h2.2M381.7 485.8V491.2M380.6 485.8h2.2M380.6 491.2h2.2M384.1 485.9V491.3M383.0 485.9h2.2M383.0 491.3h2.2M386.5 485.9V491.3M385.4 485.9h2.2M385.4 491.3h2.2M388.9 486.0V491.4M387.8 486.0h2.2M387.8 491.4h2.2M391.3 486.0V491.5M390.2 486.0h2.2M390.2 491.5h2.2M393.7 486.1V491.5M392.6 486.1h2.2M392.6 491.5h2.2M396.1 486.2V491.6M395.0 486.2h2.2M395.0 491.6h2.2M398.5 486.3V491.7M397.4 486.3h2.2M397.4 491.7h2.2M400.9 486.4V491.8M399.8 486.4h2.2M399.8 491.8h2.2M403.3 486.5V491.9M402.2 486.5h2.2M402.2 491.9h2.2M405.7 486.6V492.0M404.6 486.6h2.2M404.6 492.0h2.2M408.1 486.7V492.1M407.0 486.7h2.2M407.0 492.1h2.2M410.5 486.8V492.2M409.4 486.8h2.2M409.4 492.2h2.2M412.9 486.8V492.3M411.8 486.8h2.2M411.8 492.3h2.2M415.3 486.9V492.3M414.2 486.9h2.2M414.2 492.3h2.2M417.7 487.0V492.4M416.6 487.0h2.2M416.6 492.4h2.2M420.1 487.1V492.5M419.0 487.1h2.2M419.0 492.5h2.2M422.5 487.2V492.6M421.4 487.2h2.2M421.4 492.6h2.2M424.9 487.2V492.6M423.8 487.2h2.2M423.8 492.6h2.2M427.3 487.2V492.7M426.2 487.2h2.2M426.2 492.7h2.2M429.7 487.3V492.7M428.6 487.3h2.2M428.6 492.7h2.2M432.1 487.3V492.8M431.0 487.3h2.2M431.0 492.8h2.2M434.5 487.4V492.8M433.4 487.4h2.2M433.4 492.8h2.2M436.9 487.4V492.8M435.8 487.4h2.2M435.8 492.8h2.2M439.3 487.5V492.9M438.2 487.5h2.2M438.2 492.9h2.2M441.7 487.5V492.9M440.6 487.5h2.2M440.6 492.9h2.2M444.1 487.6V493.0M443.0 487.6h2.2M443.0 493.0h2.2M446.5 487.6V493.0M445.4 487.6h2.2M445.4 493.0h2.2M448.9 487.7V493.1M447.8 487.7h2.2M447.8 493.1h2.2M451.3 487.7V493.1M450.2 487.7h2.2M450.2 493.1h2.2M453.7 487.7V493.2M452.6 487.7h2.2M452.6 493.2h2.2M456.1 487.8V493.2M455.0 487.8h2.2M455.0 493.2h2.2M458.5 487.8V493.2M457.4 487.8h2.2M457.4 493.2h2.2M460.9 487.9V493.3M459.8 487.9h2.2M459.8 493.3h2.2M463.3 487.9V493.3M462.2 487.9h2.2M462.2 493.3h2.2M465.7 488.0V493.4M464.6 488.0h2.2M464.6 493.4h2.2M468.1 488.0V493.4M467.0 488.0h2.2M467.0 493.4h2.2M470.5 488.1V493.5M469.4 488.1h2.2M469.4 493.5h2.2M472.9 488.1V493.5M471.8 488.1h2.2M471.8 493.5h2.2M475.3 488.1V493.6M474.2 488.1h2.2M474.2 493.6h2.2M477.7 488.2V493.6M476.6 488.2h2.2M476.6 493.6h2.2M480.1 488.2V493.6M479.0 488.2h2.2M479.0 493.6h2.2" stroke="#d2d2d2" stroke-width="0.4" fill="none"/>
<polyline points="366.10,487.94 367.00,487.91 367.90,488.20 368.80,488.67 369.70,488.08 370.60,488.28 371.50,488.74 372.40,488.83 373.30,488.95 374.20,488.20 375.10,488.55 376.00,489.48 376.90,488.72 377.80,488.66 378.70,488.51 379.60,488.48 380.50,488.62 381.40,488.29 382.30,488.22 383.20,488.63 384.10,488.08 385.00,488.64 385.90,488.89 386.80,488.58 387.70,489.11 388.60,488.77 389.50,489.03 390.40,488.86 391.30,488.69 392.20,489.55 393.10,488.68 394.00,488.76 394.90,488.94 395.80,488.68 396.70,488.83 397.60,489.09 398.50,489.33 399.40,488.81 400.30,488.84 401.20,489.58 402.10,489.37 403.00,489.55 403.90,488.95 404.80,489.43 405.70,489.68 406.60,488.84 407.50,489.20 408.40,489.31 409.30,489.34 410.20,489.51 411.10,489.47 412.00,489.23 412.90,489.41 413.80,489.73 414.70,489.59 415.60,489.06 416.50,489.86 417.40,490.13 418.30,489.71 419.20,490.14 420.10,488.97 421.00,489.63 421.90,489.66 422.80,489.75 423.70,489.26 424.60,490.23 425.50,489.94 426.40,490.47 427.30,489.56 428.20,490.00 429.10,489.43 430.00,490.10 430.90,490.36 431.80,490.27 432.70,489.80 433.60,490.34 434.50,490.01 435.40,490.34 436.30,490.35 437.20,490.32 438.10,489.65 439.00,490.52 439.90,490.09 440.80,489.96 441.70,490.46 442.60,490.72 443.50,489.79 444.40,489.73 445.30,490.38 446.20,490.69 447.10,490.05 448.00,490.36 448.90,490.63 449.80,490.50 450.70,491.16 451.60,490.67 452.50,490.82 453.40,490.87 454.30,490.28 455.20,490.40 456.10,489.96 457.00,491.37 457.90,490.75 458.80,490.82 459.70,490.15 460.60,490.26 461.50,490.56 462.40,490.59 463.30,490.88 464.20,490.82 465.10,490.81 466.00,491.49 466.90,490.10 467.80,490.49 468.70,490.07 469.60,490.36 470.50,490.61 471.40,490.52 472.30,491.34 473.20,491.15 474.10,490.57 475.00,490.98 475.90,491.39 476.80,490.89 477.70,491.31 478.60,490.92 479.50,490.43" fill="none" stroke="#3aaa5a" stroke-width="1.45" stroke-linejoin="round"/>
<path d="M367.3 485.2V490.6M366.2 485.2h2.2M366.2 490.6h2.2M369.7 485.2V490.6M368.6 485.2h2.2M368.6 490.6h2.2M372.1 485.1V490.5M371.0 485.1h2.2M371.0 490.5h2.2M374.5 484.9V490.3M373.4 484.9h2.2M373.4 490.3h2.2M376.9 484.7V490.1M375.8 484.7h2.2M375.8 490.1h2.2M379.3 484.5V490.0M378.2 484.5h2.2M378.2 490.0h2.2M381.7 484.4V489.8M380.6 484.4h2.2M380.6 489.8h2.2M384.1 484.2V489.6M383.0 484.2h2.2M383.0 489.6h2.2M386.5 484.0V489.4M385.4 484.0h2.2M385.4 489.4h2.2M388.9 483.9V489.3M387.8 483.9h2.2M387.8 489.3h2.2M391.3 483.8V489.2M390.2 483.8h2.2M390.2 489.2h2.2M393.7 483.7V489.2M392.6 483.7h2.2M392.6 489.2h2.2M396.1 483.7V489.1M395.0 483.7h2.2M395.0 489.1h2.2M398.5 483.7V489.1M397.4 483.7h2.2M397.4 489.1h2.2M400.9 483.7V489.1M399.8 483.7h2.2M399.8 489.1h2.2M403.3 483.7V489.1M402.2 483.7h2.2M402.2 489.1h2.2M405.7 483.7V489.1M404.6 483.7h2.2M404.6 489.1h2.2M408.1 483.7V489.1M407.0 483.7h2.2M407.0 489.1h2.2M410.5 483.7V489.1M409.4 483.7h2.2M409.4 489.1h2.2M412.9 483.7V489.1M411.8 483.7h2.2M411.8 489.1h2.2M415.3 483.7V489.1M414.2 483.7h2.2M414.2 489.1h2.2M417.7 483.7V489.1M416.6 483.7h2.2M416.6 489.1h2.2M420.1 483.7V489.2M419.0 483.7h2.2M419.0 489.2h2.2M422.5 483.8V489.2M421.4 483.8h2.2M421.4 489.2h2.2M424.9 483.8V489.2M423.8 483.8h2.2M423.8 489.2h2.2M427.3 483.8V489.3M426.2 483.8h2.2M426.2 489.3h2.2M429.7 483.9V489.3M428.6 483.9h2.2M428.6 489.3h2.2M432.1 483.9V489.3M431.0 483.9h2.2M431.0 489.3h2.2M434.5 483.9V489.4M433.4 483.9h2.2M433.4 489.4h2.2M436.9 484.0V489.4M435.8 484.0h2.2M435.8 489.4h2.2M439.3 484.0V489.4M438.2 484.0h2.2M438.2 489.4h2.2M441.7 484.1V489.5M440.6 484.1h2.2M440.6 489.5h2.2M444.1 484.1V489.5M443.0 484.1h2.2M443.0 489.5h2.2M446.5 484.1V489.5M445.4 484.1h2.2M445.4 489.5h2.2M448.9 484.2V489.6M447.8 484.2h2.2M447.8 489.6h2.2M451.3 484.2V489.6M450.2 484.2h2.2M450.2 489.6h2.2M453.7 484.2V489.6M452.6 484.2h2.2M452.6 489.6h2.2M456.1 484.3V489.7M455.0 484.3h2.2M455.0 489.7h2.2M458.5 484.3V489.7M457.4 484.3h2.2M457.4 489.7h2.2M460.9 484.3V489.8M459.8 484.3h2.2M459.8 489.8h2.2M463.3 484.4V489.8M462.2 484.4h2.2M462.2 489.8h2.2M465.7 484.4V489.8M464.6 484.4h2.2M464.6 489.8h2.2M468.1 484.5V489.9M467.0 484.5h2.2M467.0 489.9h2.2M470.5 484.5V489.9M469.4 484.5h2.2M469.4 489.9h2.2M472.9 484.5V489.9M471.8 484.5h2.2M471.8 489.9h2.2M475.3 484.6V490.0M474.2 484.6h2.2M474.2 490.0h2.2M477.7 484.6V490.0M476.6 484.6h2.2M476.6 490.0h2.2M480.1 484.6V490.0M479.0 484.6h2.2M479.0 490.0h2.2" stroke="#d2d2d2" stroke-width="0.4" fill="none"/>
<polyline points="366.10,487.84 367.00,488.28 367.90,488.10 368.80,487.78 369.70,487.94 370.60,487.83 371.50,488.10 372.40,487.88 373.30,488.46 374.20,487.69 375.10,487.16 376.00,487.86 376.90,487.49 377.80,487.14 378.70,486.91 379.60,486.86 380.50,487.45 381.40,487.23 382.30,486.47 383.20,487.11 384.10,486.80 385.00,487.10 385.90,486.97 386.80,487.65 387.70,486.82 388.60,487.29 389.50,486.87 390.40,486.83 391.30,486.05 392.20,486.22 393.10,486.33 394.00,486.62 394.90,486.89 395.80,486.29 396.70,486.71 397.60,486.48 398.50,486.14 399.40,486.50 400.30,486.45 401.20,486.76 402.10,486.11 403.00,486.27 403.90,486.22 404.80,485.92 405.70,486.96 406.60,486.44 407.50,486.24 408.40,486.34 409.30,486.35 410.20,486.29 411.10,486.93 412.00,486.47 412.90,486.07 413.80,486.46 414.70,486.51 415.60,486.17 416.50,487.01 417.40,486.32 418.30,485.96 419.20,486.54 420.10,486.72 421.00,486.30 421.90,486.62 422.80,486.75 423.70,486.45 424.60,487.04 425.50,486.31 426.40,486.92 427.30,486.73 428.20,486.33 429.10,486.59 430.00,486.51 430.90,486.17 431.80,486.13 432.70,485.97 433.60,486.82 434.50,486.37 435.40,487.20 436.30,486.43 437.20,486.28 438.10,486.95 439.00,486.58 439.90,486.47 440.80,486.81 441.70,486.97 442.60,486.30 443.50,487.22 444.40,486.76 445.30,486.52 446.20,486.76 447.10,486.34 448.00,486.39 448.90,486.73 449.80,486.32 450.70,486.66 451.60,487.31 452.50,487.04 453.40,486.86 454.30,486.90 455.20,487.51 456.10,486.25 457.00,487.50 457.90,487.37 458.80,486.88 459.70,486.98 460.60,486.56 461.50,486.99 462.40,486.96 463.30,486.86 464.20,487.34 465.10,487.54 466.00,487.28 466.90,486.82 467.80,487.25 468.70,486.77 469.60,487.36 470.50,486.96 471.40,487.21 472.30,486.96 473.20,487.24 474.10,487.19 475.00,487.42 475.90,486.88 476.80,487.30 477.70,487.14 478.60,487.11 479.50,487.61" fill="none" stroke="#8a2be8" stroke-width="1.45" stroke-linejoin="round"/>
<path d="M367.3 485.1V490.5M366.2 485.1h2.2M366.2 490.5h2.2M369.7 485.0V490.4M368.6 485.0h2.2M368.6 490.4h2.2M372.1 484.7V490.2M371.0 484.7h2.2M371.0 490.2h2.2M374.5 484.4V489.8M373.4 484.4h2.2M373.4 489.8h2.2M376.9 484.1V489.5M375.8 484.1h2.2M375.8 489.5h2.2M379.3 483.8V489.2M378.2 483.8h2.2M378.2 489.2h2.2M381.7 483.5V488.9M380.6 483.5h2.2M380.6 488.9h2.2M384.1 483.2V488.6M383.0 483.2h2.2M383.0 488.6h2.2M386.5 482.9V488.3M385.4 482.9h2.2M385.4 488.3h2.2M388.9 482.6V488.0M387.8 482.6h2.2M387.8 488.0h2.2M391.3 482.4V487.8M390.2 482.4h2.2M390.2 487.8h2.2M393.7 482.3V487.7M392.6 482.3h2.2M392.6 487.7h2.2M396.1 482.2V487.6M395.0 482.2h2.2M395.0 487.6h2.2M398.5 482.1V487.5M397.4 482.1h2.2M397.4 487.5h2.2M400.9 482.1V487.5M399.8 482.1h2.2M399.8 487.5h2.2M403.3 482.0V487.4M402.2 482.0h2.2M402.2 487.4h2.2M405.7 481.9V487.3M404.6 481.9h2.2M404.6 487.3h2.2M408.1 481.8V487.2M407.0 481.8h2.2M407.0 487.2h2.2M410.5 481.8V487.2M409.4 481.8h2.2M409.4 487.2h2.2M412.9 481.7V487.1M411.8 481.7h2.2M411.8 487.1h2.2M415.3 481.6V487.0M414.2 481.6h2.2M414.2 487.0h2.2M417.7 481.6V487.0M416.6 481.6h2.2M416.6 487.0h2.2M420.1 481.5V486.9M419.0 481.5h2.2M419.0 486.9h2.2M422.5 481.5V486.9M421.4 481.5h2.2M421.4 486.9h2.2M424.9 481.5V486.9M423.8 481.5h2.2M423.8 486.9h2.2M427.3 481.4V486.9M426.2 481.4h2.2M426.2 486.9h2.2M429.7 481.4V486.9M428.6 481.4h2.2M428.6 486.9h2.2M432.1 481.4V486.8M431.0 481.4h2.2M431.0 486.8h2.2M434.5 481.4V486.8M433.4 481.4h2.2M433.4 486.8h2.2M436.9 481.4V486.8M435.8 481.4h2.2M435.8 486.8h2.2M439.3 481.4V486.8M438.2 481.4h2.2M438.2 486.8h2.2M441.7 481.4V486.8M440.6 481.4h2.2M440.6 486.8h2.2M444.1 481.4V486.8M443.0 481.4h2.2M443.0 486.8h2.2M446.5 481.4V486.8M445.4 481.4h2.2M445.4 486.8h2.2M448.9 481.4V486.8M447.8 481.4h2.2M447.8 486.8h2.2M451.3 481.4V486.8M450.2 481.4h2.2M450.2 486.8h2.2M453.7 481.3V486.8M452.6 481.3h2.2M452.6 486.8h2.2M456.1 481.3V486.8M455.0 481.3h2.2M455.0 486.8h2.2M458.5 481.3V486.7M457.4 481.3h2.2M457.4 486.7h2.2M460.9 481.3V486.7M459.8 481.3h2.2M459.8 486.7h2.2M463.3 481.3V486.7M462.2 481.3h2.2M462.2 486.7h2.2M465.7 481.3V486.7M464.6 481.3h2.2M464.6 486.7h2.2M468.1 481.3V486.7M467.0 481.3h2.2M467.0 486.7h2.2M470.5 481.3V486.7M469.4 481.3h2.2M469.4 486.7h2.2M472.9 481.3V486.7M471.8 481.3h2.2M471.8 486.7h2.2M475.3 481.3V486.7M474.2 481.3h2.2M474.2 486.7h2.2M477.7 481.3V486.7M476.6 481.3h2.2M476.6 486.7h2.2M480.1 481.3V486.7M479.0 481.3h2.2M479.0 486.7h2.2" stroke="#d2d2d2" stroke-width="0.4" fill="none"/>
<polyline points="366.10,487.78 367.00,488.10 367.90,487.85 368.80,487.39 369.70,488.06 370.60,487.96 371.50,487.84 372.40,487.54 373.30,487.64 374.20,487.44 375.10,486.89 376.00,487.29 376.90,486.83 377.80,487.08 378.70,486.65 379.60,486.30 380.50,486.99 381.40,486.22 382.30,486.04 383.20,486.02 384.10,485.80 385.00,485.63 385.90,486.06 386.80,485.58 387.70,485.23 388.60,484.92 389.50,485.68 390.40,485.36 391.30,485.55 392.20,485.07 393.10,485.36 394.00,485.29 394.90,484.70 395.80,484.20 396.70,485.55 397.60,484.34 398.50,485.13 399.40,484.59 400.30,484.67 401.20,484.36 402.10,484.79 403.00,484.97 403.90,484.69 404.80,484.39 405.70,484.90 406.60,484.46 407.50,484.57 408.40,484.48 409.30,484.51 410.20,484.29 411.10,484.20 412.00,484.52 412.90,484.51 413.80,485.06 414.70,484.63 415.60,484.81 416.50,484.08 417.40,484.62 418.30,484.47 419.20,484.06 420.10,483.90 421.00,483.81 421.90,484.46 422.80,484.10 423.70,483.83 424.60,484.44 425.50,484.24 426.40,484.55 427.30,484.36 428.20,483.93 429.10,484.12 430.00,484.26 430.90,484.32 431.80,483.66 432.70,483.90 433.60,484.53 434.50,483.44 435.40,484.26 436.30,484.17 437.20,484.28 438.10,484.30 439.00,483.91 439.90,484.57 440.80,484.10 441.70,484.21 442.60,483.54 443.50,483.97 444.40,483.95 445.30,483.92 446.20,483.90 447.10,484.04 448.00,484.86 448.90,483.94 449.80,484.17 450.70,483.84 451.60,483.97 452.50,484.24 453.40,484.34 454.30,484.38 455.20,483.96 456.10,484.08 457.00,484.33 457.90,484.16 458.80,483.93 459.70,484.25 460.60,484.07 461.50,484.22 462.40,484.85 463.30,483.99 464.20,484.00 465.10,483.76 466.00,483.60 466.90,484.24 467.80,483.81 468.70,483.92 469.60,483.97 470.50,483.73 471.40,483.71 472.30,484.39 473.20,483.51 474.10,484.04 475.00,484.19 475.90,484.19 476.80,484.04 477.70,484.33 478.60,483.62 479.50,483.83" fill="none" stroke="#1aa6c8" stroke-width="1.45" stroke-linejoin="round"/>
<path d="M367.3 484.9V490.4M366.2 484.9h2.2M366.2 490.4h2.2M369.7 484.6V490.0M368.6 484.6h2.2M368.6 490.0h2.2M372.1 484.1V489.5M371.0 484.1h2.2M371.0 489.5h2.2M374.5 483.6V489.0M373.4 483.6h2.2M373.4 489.0h2.2M376.9 483.0V488.4M375.8 483.0h2.2M375.8 488.4h2.2M379.3 482.4V487.8M378.2 482.4h2.2M378.2 487.8h2.2M381.7 481.9V487.3M380.6 481.9h2.2M380.6 487.3h2.2M384.1 481.3V486.7M383.0 481.3h2.2M383.0 486.7h2.2M386.5 480.8V486.2M385.4 480.8h2.2M385.4 486.2h2.2M388.9 480.3V485.7M387.8 480.3h2.2M387.8 485.7h2.2M391.3 479.9V485.3M390.2 479.9h2.2M390.2 485.3h2.2M393.7 479.7V485.1M392.6 479.7h2.2M392.6 485.1h2.2M396.1 479.5V484.9M395.0 479.5h2.2M395.0 484.9h2.2M398.5 479.4V484.8M397.4 479.4h2.2M397.4 484.8h2.2M400.9 479.2V484.7M399.8 479.2h2.2M399.8 484.7h2.2M403.3 479.1V484.5M402.2 479.1h2.2M402.2 484.5h2.2M405.7 479.0V484.4M404.6 479.0h2.2M404.6 484.4h2.2M408.1 478.8V484.2M407.0 478.8h2.2M407.0 484.2h2.2M410.5 478.7V484.1M409.4 478.7h2.2M409.4 484.1h2.2M412.9 478.5V483.9M411.8 478.5h2.2M411.8 483.9h2.2M415.3 478.4V483.8M414.2 478.4h2.2M414.2 483.8h2.2M417.7 478.2V483.7M416.6 478.2h2.2M416.6 483.7h2.2M420.1 478.1V483.6M419.0 478.1h2.2M419.0 483.6h2.2M422.5 478.1V483.5M421.4 478.1h2.2M421.4 483.5h2.2M424.9 478.0V483.4M423.8 478.0h2.2M423.8 483.4h2.2M427.3 478.0V483.4M426.2 478.0h2.2M426.2 483.4h2.2M429.7 477.9V483.4M428.6 477.9h2.2M428.6 483.4h2.2M432.1 477.9V483.3M431.0 477.9h2.2M431.0 483.3h2.2M434.5 477.9V483.3M433.4 477.9h2.2M433.4 483.3h2.2M436.9 477.8V483.3M435.8 477.8h2.2M435.8 483.3h2.2M439.3 477.8V483.2M438.2 477.8h2.2M438.2 483.2h2.2M441.7 477.8V483.2M440.6 477.8h2.2M440.6 483.2h2.2M444.1 477.7V483.1M443.0 477.7h2.2M443.0 483.1h2.2M446.5 477.7V483.1M445.4 477.7h2.2M445.4 483.1h2.2M448.9 477.7V483.1M447.8 477.7h2.2M447.8 483.1h2.2M451.3 477.6V483.0M450.2 477.6h2.2M450.2 483.0h2.2M453.7 477.6V483.0M452.6 477.6h2.2M452.6 483.0h2.2M456.1 477.5V483.0M455.0 477.5h2.2M455.0 483.0h2.2M458.5 477.5V482.9M457.4 477.5h2.2M457.4 482.9h2.2M460.9 477.5V482.9M459.8 477.5h2.2M459.8 482.9h2.2M463.3 477.4V482.9M462.2 477.4h2.2M462.2 482.9h2.2M465.7 477.4V482.8M464.6 477.4h2.2M464.6 482.8h2.2M468.1 477.4V482.8M467.0 477.4h2.2M467.0 482.8h2.2M470.5 477.3V482.7M469.4 477.3h2.2M469.4 482.7h2.2M472.9 477.3V482.7M471.8 477.3h2.2M471.8 482.7h2.2M475.3 477.3V482.7M474.2 477.3h2.2M474.2 482.7h2.2M477.7 477.2V482.6M476.6 477.2h2.2M476.6 482.6h2.2M480.1 477.2V482.6M479.0 477.2h2.2M479.0 482.6h2.2" stroke="#d2d2d2" stroke-width="0.4" fill="none"/>
<polyline points="366.10,487.67 367.00,487.95 367.90,487.34 368.80,487.42 369.70,487.31 370.60,486.85 371.50,486.99 372.40,486.84 373.30,486.39 374.20,486.92 375.10,486.51 376.00,485.76 376.90,485.37 377.80,486.03 378.70,485.28 379.60,485.28 380.50,484.95 381.40,484.46 382.30,483.96 383.20,483.67 384.10,483.71 385.00,483.60 385.90,483.56 386.80,484.00 387.70,483.09 388.60,483.42 389.50,483.24 390.40,482.71 391.30,483.13 392.20,481.97 393.10,482.26 394.00,482.27 394.90,482.17 395.80,482.19 396.70,482.19 397.60,481.93 398.50,482.31 399.40,481.96 400.30,481.94 401.20,481.69 402.10,482.23 403.00,481.75 403.90,481.81 404.80,481.52 405.70,481.49 406.60,481.55 407.50,481.41 408.40,481.36 409.30,481.02 410.20,481.30 411.10,481.17 412.00,481.58 412.90,481.30 413.80,480.93 414.70,480.79 415.60,481.38 416.50,481.03 417.40,481.06 418.30,480.91 419.20,481.04 420.10,480.98 421.00,480.84 421.90,480.75 422.80,480.45 423.70,481.02 424.60,481.04 425.50,480.47 426.40,480.55 427.30,480.75 428.20,481.04 429.10,480.33 430.00,480.99 430.90,480.28 431.80,480.54 432.70,480.66 433.60,480.65 434.50,480.32 435.40,480.57 436.30,481.11 437.20,480.76 438.10,481.21 439.00,480.39 439.90,480.21 440.80,480.16 441.70,480.90 442.60,479.79 443.50,479.87 444.40,480.47 445.30,481.05 446.20,480.68 447.10,480.06 448.00,479.72 448.90,480.54 449.80,480.94 450.70,480.64 451.60,479.72 452.50,480.31 453.40,480.74 454.30,480.95 455.20,480.07 456.10,480.00 457.00,480.40 457.90,480.29 458.80,480.19 459.70,480.31 460.60,480.36 461.50,480.36 462.40,480.35 463.30,479.76 464.20,480.01 465.10,479.80 466.00,479.53 466.90,480.82 467.80,480.10 468.70,479.76 469.60,480.12 470.50,480.23 471.40,479.90 472.30,480.18 473.20,480.27 474.10,480.08 475.00,479.96 475.90,479.96 476.80,479.66 477.70,479.93 478.60,480.08 479.50,478.95" fill="none" stroke="#ff7a10" stroke-width="1.45" stroke-linejoin="round"/>
<path d="M367.3 484.8V490.2M366.2 484.8h2.2M366.2 490.2h2.2M369.7 484.3V489.7M368.6 484.3h2.2M368.6 489.7h2.2M372.1 483.6V489.0M371.0 483.6h2.2M371.0 489.0h2.2M374.5 482.8V488.3M373.4 482.8h2.2M373.4 488.3h2.2M376.9 482.1V487.5M375.8 482.1h2.2M375.8 487.5h2.2M379.3 481.3V486.7M378.2 481.3h2.2M378.2 486.7h2.2M381.7 480.5V486.0M380.6 480.5h2.2M380.6 486.0h2.2M384.1 479.8V485.2M383.0 479.8h2.2M383.0 485.2h2.2M386.5 479.0V484.5M385.4 479.0h2.2M385.4 484.5h2.2M388.9 478.4V483.8M387.8 478.4h2.2M387.8 483.8h2.2M391.3 477.9V483.3M390.2 477.9h2.2M390.2 483.3h2.2M393.7 477.6V483.1M392.6 477.6h2.2M392.6 483.1h2.2M396.1 477.5V482.9M395.0 477.5h2.2M395.0 482.9h2.2M398.5 477.3V482.7M397.4 477.3h2.2M397.4 482.7h2.2M400.9 477.1V482.5M399.8 477.1h2.2M399.8 482.5h2.2M403.3 477.0V482.4M402.2 477.0h2.2M402.2 482.4h2.2M405.7 476.8V482.2M404.6 476.8h2.2M404.6 482.2h2.2M408.1 476.6V482.1M407.0 476.6h2.2M407.0 482.1h2.2M410.5 476.5V481.9M409.4 476.5h2.2M409.4 481.9h2.2M412.9 476.3V481.7M411.8 476.3h2.2M411.8 481.7h2.2M415.3 476.2V481.6M414.2 476.2h2.2M414.2 481.6h2.2M417.7 476.0V481.4M416.6 476.0h2.2M416.6 481.4h2.2M420.1 475.9V481.3M419.0 475.9h2.2M419.0 481.3h2.2M422.5 475.8V481.2M421.4 475.8h2.2M421.4 481.2h2.2M424.9 475.8V481.2M423.8 475.8h2.2M423.8 481.2h2.2M427.3 475.8V481.2M426.2 475.8h2.2M426.2 481.2h2.2M429.7 475.7V481.1M428.6 475.7h2.2M428.6 481.1h2.2M432.1 475.7V481.1M431.0 475.7h2.2M431.0 481.1h2.2M434.5 475.7V481.1M433.4 475.7h2.2M433.4 481.1h2.2M436.9 475.6V481.1M435.8 475.6h2.2M435.8 481.1h2.2M439.3 475.6V481.0M438.2 475.6h2.2M438.2 481.0h2.2M441.7 475.6V481.0M440.6 475.6h2.2M440.6 481.0h2.2M444.1 475.6V481.0M443.0 475.6h2.2M443.0 481.0h2.2M446.5 475.5V480.9M445.4 475.5h2.2M445.4 480.9h2.2M448.9 475.5V480.9M447.8 475.5h2.2M447.8 480.9h2.2M451.3 475.5V480.9M450.2 475.5h2.2M450.2 480.9h2.2M453.7 475.5V480.9M452.6 475.5h2.2M452.6 480.9h2.2M456.1 475.4V480.8M455.0 475.4h2.2M455.0 480.8h2.2M458.5 475.4V480.8M457.4 475.4h2.2M457.4 480.8h2.2M460.9 475.4V480.8M459.8 475.4h2.2M459.8 480.8h2.2M463.3 475.3V480.8M462.2 475.3h2.2M462.2 480.8h2.2M465.7 475.3V480.7M464.6 475.3h2.2M464.6 480.7h2.2M468.1 475.3V480.7M467.0 475.3h2.2M467.0 480.7h2.2M470.5 475.3V480.7M469.4 475.3h2.2M469.4 480.7h2.2M472.9 475.2V480.7M471.8 475.2h2.2M471.8 480.7h2.2M475.3 475.2V480.6M474.2 475.2h2.2M474.2 480.6h2.2M477.7 475.2V480.6M476.6 475.2h2.2M476.6 480.6h2.2M480.1 475.2V480.6M479.0 475.2h2.2M479.0 480.6h2.2" stroke="#d2d2d2" stroke-width="0.4" fill="none"/>
<polyline points="366.10,487.58 367.00,487.61 367.90,487.50 368.80,487.29 369.70,487.25 370.60,487.27 371.50,486.44 372.40,485.76 373.30,486.52 374.20,485.89 375.10,485.23 376.00,485.30 376.90,484.62 377.80,484.52 378.70,484.57 379.60,484.00 380.50,483.81 381.40,483.18 382.30,483.87 383.20,482.65 384.10,482.07 385.00,482.16 385.90,481.86 386.80,481.83 387.70,481.30 388.60,481.22 389.50,481.37 390.40,481.16 391.30,481.37 392.20,480.38 393.10,480.36 394.00,479.99 394.90,480.18 395.80,479.97 396.70,480.55 397.60,480.66 398.50,480.19 399.40,480.05 400.30,479.77 401.20,479.86 402.10,479.81 403.00,479.69 403.90,479.56 404.80,479.51 405.70,479.42 406.60,479.62 407.50,479.43 408.40,479.80 409.30,479.63 410.20,479.30 411.10,479.02 412.00,479.33 412.90,479.48 413.80,478.67 414.70,479.17 415.60,479.40 416.50,479.10 417.40,479.11 418.30,479.45 419.20,478.76 420.10,478.07 421.00,478.81 421.90,478.81 422.80,478.16 423.70,478.48 424.60,478.53 425.50,478.05 426.40,478.85 427.30,478.48 428.20,478.29 429.10,478.38 430.00,478.80 430.90,478.72 431.80,477.85 432.70,478.43 433.60,478.47 434.50,478.04 435.40,478.94 436.30,478.38 437.20,478.91 438.10,477.90 439.00,478.64 439.90,478.28 440.80,478.60 441.70,478.26 442.60,478.19 443.50,478.28 444.40,478.37 445.30,478.18 446.20,478.32 447.10,478.40 448.00,478.03 448.90,477.95 449.80,478.63 450.70,478.52 451.60,478.43 452.50,478.08 453.40,478.61 454.30,477.67 455.20,478.13 456.10,478.09 457.00,477.85 457.90,478.35 458.80,477.99 459.70,477.97 460.60,477.68 461.50,478.41 462.40,477.63 463.30,477.87 464.20,477.97 465.10,477.70 466.00,478.10 466.90,478.07 467.80,477.74 468.70,478.10 469.60,477.64 470.50,477.54 471.40,477.89 472.30,477.90 473.20,478.15 474.10,478.22 475.00,477.47 475.90,478.24 476.80,477.88 477.70,477.80 478.60,478.17 479.50,478.09" fill="none" stroke="#7ee0a0" stroke-width="1.45" stroke-linejoin="round"/>
<path d="M367.3 484.0V489.4M366.2 484.0h2.2M366.2 489.4h2.2M369.7 482.7V488.1M368.6 482.7h2.2M368.6 488.1h2.2M372.1 481.0V486.4M371.0 481.0h2.2M371.0 486.4h2.2M374.5 479.3V484.7M373.4 479.3h2.2M373.4 484.7h2.2M376.9 477.8V483.2M375.8 477.8h2.2M375.8 483.2h2.2M379.3 476.9V482.3M378.2 476.9h2.2M378.2 482.3h2.2M381.7 476.4V481.8M380.6 476.4h2.2M380.6 481.8h2.2M384.1 476.2V481.7M383.0 476.2h2.2M383.0 481.7h2.2M386.5 476.1V481.5M385.4 476.1h2.2M385.4 481.5h2.2M388.9 476.0V481.4M387.8 476.0h2.2M387.8 481.4h2.2M391.3 475.9V481.3M390.2 475.9h2.2M390.2 481.3h2.2M393.7 475.8V481.2M392.6 475.8h2.2M392.6 481.2h2.2M396.1 475.7V481.1M395.0 475.7h2.2M395.0 481.1h2.2M398.5 475.6V481.0M397.4 475.6h2.2M397.4 481.0h2.2M400.9 475.5V480.9M399.8 475.5h2.2M399.8 480.9h2.2M403.3 475.4V480.8M402.2 475.4h2.2M402.2 480.8h2.2M405.7 475.3V480.7M404.6 475.3h2.2M404.6 480.7h2.2M408.1 475.2V480.6M407.0 475.2h2.2M407.0 480.6h2.2M410.5 475.2V480.6M409.4 475.2h2.2M409.4 480.6h2.2M412.9 475.1V480.5M411.8 475.1h2.2M411.8 480.5h2.2M415.3 475.1V480.5M414.2 475.1h2.2M414.2 480.5h2.2M417.7 475.1V480.5M416.6 475.1h2.2M416.6 480.5h2.2M420.1 475.1V480.5M419.0 475.1h2.2M419.0 480.5h2.2M422.5 475.1V480.5M421.4 475.1h2.2M421.4 480.5h2.2M424.9 475.1V480.5M423.8 475.1h2.2M423.8 480.5h2.2M427.3 475.0V480.5M426.2 475.0h2.2M426.2 480.5h2.2M429.7 475.0V480.4M428.6 475.0h2.2M428.6 480.4h2.2M432.1 475.0V480.4M431.0 475.0h2.2M431.0 480.4h2.2M434.5 475.0V480.4M433.4 475.0h2.2M433.4 480.4h2.2M436.9 475.0V480.4M435.8 475.0h2.2M435.8 480.4h2.2M439.3 475.0V480.4M438.2 475.0h2.2M438.2 480.4h2.2M441.7 474.9V480.4M440.6 474.9h2.2M440.6 480.4h2.2M444.1 474.9V480.3M443.0 474.9h2.2M443.0 480.3h2.2M446.5 474.9V480.3M445.4 474.9h2.2M445.4 480.3h2.2M448.9 474.9V480.3M447.8 474.9h2.2M447.8 480.3h2.2M451.3 474.9V480.3M450.2 474.9h2.2M450.2 480.3h2.2M453.7 474.9V480.3M452.6 474.9h2.2M452.6 480.3h2.2M456.1 474.9V480.3M455.0 474.9h2.2M455.0 480.3h2.2M458.5 474.8V480.3M457.4 474.8h2.2M457.4 480.3h2.2M460.9 474.8V480.2M459.8 474.8h2.2M459.8 480.2h2.2M463.3 474.8V480.2M462.2 474.8h2.2M462.2 480.2h2.2M465.7 474.8V480.2M464.6 474.8h2.2M464.6 480.2h2.2M468.1 474.8V480.2M467.0 474.8h2.2M467.0 480.2h2.2M470.5 474.8V480.2M469.4 474.8h2.2M469.4 480.2h2.2M472.9 474.7V480.2M471.8 474.7h2.2M471.8 480.2h2.2M475.3 474.7V480.1M474.2 474.7h2.2M474.2 480.1h2.2M477.7 474.7V480.1M476.6 474.7h2.2M476.6 480.1h2.2M480.1 474.7V480.1M479.0 474.7h2.2M479.0 480.1h2.2" stroke="#d2d2d2" stroke-width="0.4" fill="none"/>
<polyline points="366.10,487.11 367.00,487.07 367.90,485.79 368.80,485.86 369.70,484.98 370.60,484.16 371.50,483.84 372.40,483.09 373.30,482.99 374.20,482.43 375.10,481.14 376.00,480.57 376.90,480.85 377.80,479.74 378.70,479.66 379.60,479.24 380.50,479.00 381.40,478.57 382.30,479.27 383.20,479.00 384.10,478.55 385.00,478.99 385.90,478.69 386.80,478.85 387.70,479.32 388.60,478.91 389.50,478.42 390.40,478.83 391.30,479.10 392.20,478.73 393.10,478.50 394.00,478.34 394.90,478.35 395.80,478.25 396.70,478.71 397.60,478.52 398.50,478.53 399.40,478.39 400.30,478.07 401.20,477.75 402.10,478.20 403.00,477.75 403.90,477.70 404.80,478.37 405.70,478.23 406.60,477.90 407.50,478.35 408.40,477.30 409.30,478.46 410.20,478.24 411.10,477.60 412.00,478.07 412.90,477.60 413.80,478.13 414.70,477.48 415.60,477.99 416.50,477.58 417.40,477.48 418.30,478.26 419.20,478.07 420.10,478.33 421.00,478.12 421.90,477.48 422.80,477.77 423.70,477.49 424.60,477.30 425.50,477.42 426.40,477.51 427.30,477.87 428.20,477.85 429.10,477.62 430.00,477.44 430.90,477.37 431.80,477.61 432.70,477.79 433.60,477.72 434.50,477.17 435.40,477.59 436.30,477.05 437.20,477.90 438.10,477.39 439.00,477.59 439.90,477.41 440.80,477.89 441.70,477.54 442.60,477.66 443.50,477.72 444.40,478.00 445.30,478.07 446.20,477.72 447.10,477.44 448.00,477.52 448.90,477.52 449.80,477.49 450.70,478.01 451.60,477.25 452.50,477.55 453.40,477.80 454.30,477.73 455.20,477.25 456.10,477.49 457.00,478.07 457.90,476.88 458.80,478.00 459.70,476.99 460.60,477.26 461.50,477.83 462.40,477.12 463.30,477.11 464.20,477.17 465.10,477.29 466.00,477.39 466.90,477.41 467.80,477.64 468.70,477.39 469.60,477.06 470.50,477.49 471.40,476.84 472.30,477.94 473.20,477.43 474.10,477.90 475.00,477.98 475.90,477.35 476.80,477.52 477.70,477.59 478.60,477.74 479.50,477.48" fill="none" stroke="#f4a0b8" stroke-width="1.45" stroke-linejoin="round"/>
<polyline points="360.10,487.82 360.58,486.94 361.06,487.25 361.54,487.83 362.02,486.81 362.50,488.45 362.98,487.02 363.46,487.25 363.94,487.19 364.42,487.58 364.90,487.25 365.38,488.07 365.86,488.74" fill="none" stroke="#c6c6c6" stroke-width="1.6" stroke-linejoin="round"/>
<polyline points="360.10,486.47 360.58,487.34 361.06,487.13 361.54,486.90 362.02,487.71 362.50,486.52 362.98,488.33 363.46,486.58 363.94,487.54 364.42,486.48 364.90,486.98 365.38,487.37 365.86,487.72" fill="none" stroke="#c6c6c6" stroke-width="1.6" stroke-linejoin="round"/>
<polyline points="360.10,486.65 360.58,487.73 361.06,487.26 361.54,487.61 362.02,487.56 362.50,487.27 362.98,487.82 363.46,487.30 363.94,487.67 364.42,487.92 364.90,487.44 365.38,487.48 365.86,488.78" fill="none" stroke="#c6c6c6" stroke-width="1.6" stroke-linejoin="round"/>
<polyline points="360.10,486.94 360.58,484.83 361.06,486.87 361.54,486.66 362.02,487.67 362.50,486.51 362.98,486.24 363.46,486.98 363.94,487.56 364.42,487.54 364.90,488.92 365.38,487.32 365.86,487.99" fill="none" stroke="#c6c6c6" stroke-width="1.6" stroke-linejoin="round"/>
<polyline points="360.10,486.46 360.58,486.55 361.06,486.74 361.54,485.56 362.02,486.45 362.50,487.60 362.98,486.85 363.46,486.93 363.94,487.43 364.42,486.59 364.90,487.86 365.38,488.86 365.86,488.45" fill="none" stroke="#c6c6c6" stroke-width="1.6" stroke-linejoin="round"/>
<polyline points="360.10,486.46 360.58,487.46 361.06,486.78 361.54,487.98 362.02,486.80 362.50,487.33 362.98,487.86 363.46,487.71 363.94,487.60 364.42,486.88 364.90,487.39 365.38,487.74 365.86,487.52" fill="none" stroke="#c6c6c6" stroke-width="1.6" stroke-linejoin="round"/>
<polyline points="360.10,486.13 360.58,486.48 361.06,485.70 361.54,487.45 362.02,486.50 362.50,487.06 362.98,487.66 363.46,486.91 363.94,486.83 364.42,486.80 364.90,487.18 365.38,488.13 365.86,487.44" fill="none" stroke="#c6c6c6" stroke-width="1.6" stroke-linejoin="round"/>
<polyline points="360.10,486.46 360.58,485.67 361.06,486.78 361.54,486.84 362.02,485.97 362.50,487.05 362.98,487.46 363.46,487.02 363.94,486.73 364.42,487.16 364.90,488.38 365.38,487.48 365.86,486.46" fill="none" stroke="#c6c6c6" stroke-width="1.6" stroke-linejoin="round"/>
<line x1="360.10" y1="416.40" x2="360.10" y2="529.30" stroke="#c4c4c4" stroke-width="1.6"/>
<line x1="356.70" y1="529.30" x2="480.50" y2="529.30" stroke="#555" stroke-width="1.0"/>
<line x1="356.70" y1="529.30" x2="360.10" y2="529.30" stroke="#555" stroke-width="0.8"/>
<text x="352.50" y="531.80" font-size="7.8" fill="#2c2c2c" text-anchor="end" font-weight="normal">0</text>
<line x1="357.90" y1="518.02" x2="360.10" y2="518.02" stroke="#555" stroke-width="0.8"/>
<line x1="356.70" y1="506.74" x2="360.10" y2="506.74" stroke="#555" stroke-width="0.8"/>
<text x="352.50" y="509.24" font-size="7.8" fill="#2c2c2c" text-anchor="end" font-weight="normal">0.1</text>
<line x1="357.90" y1="495.46" x2="360.10" y2="495.46" stroke="#555" stroke-width="0.8"/>
<line x1="356.70" y1="484.18" x2="360.10" y2="484.18" stroke="#555" stroke-width="0.8"/>
<text x="352.50" y="486.68" font-size="7.8" fill="#2c2c2c" text-anchor="end" font-weight="normal">0.2</text>
<line x1="357.90" y1="472.90" x2="360.10" y2="472.90" stroke="#555" stroke-width="0.8"/>
<line x1="356.70" y1="461.62" x2="360.10" y2="461.62" stroke="#555" stroke-width="0.8"/>
<text x="352.50" y="464.12" font-size="7.8" fill="#2c2c2c" text-anchor="end" font-weight="normal">0.3</text>
<line x1="357.90" y1="450.34" x2="360.10" y2="450.34" stroke="#555" stroke-width="0.8"/>
<line x1="356.70" y1="439.06" x2="360.10" y2="439.06" stroke="#555" stroke-width="0.8"/>
<text x="352.50" y="441.56" font-size="7.8" fill="#2c2c2c" text-anchor="end" font-weight="normal">0.4</text>
<line x1="357.90" y1="427.78" x2="360.10" y2="427.78" stroke="#555" stroke-width="0.8"/>
<line x1="356.70" y1="416.50" x2="360.10" y2="416.50" stroke="#555" stroke-width="0.8"/>
<text x="352.50" y="419.00" font-size="7.8" fill="#2c2c2c" text-anchor="end" font-weight="normal">0.5</text>
<line x1="360.10" y1="529.30" x2="360.10" y2="533.60" stroke="#555" stroke-width="0.8"/>
<line x1="366.10" y1="529.30" x2="366.10" y2="532.40" stroke="#555" stroke-width="0.8"/>
<line x1="372.10" y1="529.30" x2="372.10" y2="532.40" stroke="#555" stroke-width="0.8"/>
<line x1="378.10" y1="529.30" x2="378.10" y2="532.40" stroke="#555" stroke-width="0.8"/>
<line x1="384.10" y1="529.30" x2="384.10" y2="532.40" stroke="#555" stroke-width="0.8"/>
<line x1="390.10" y1="529.30" x2="390.10" y2="533.60" stroke="#555" stroke-width="0.8"/>
<line x1="396.10" y1="529.30" x2="396.10" y2="532.40" stroke="#555" stroke-width="0.8"/>
<line x1="402.10" y1="529.30" x2="402.10" y2="532.40" stroke="#555" stroke-width="0.8"/>
<line x1="408.10" y1="529.30" x2="408.10" y2="532.40" stroke="#555" stroke-width="0.8"/>
<line x1="414.10" y1="529.30" x2="414.10" y2="532.40" stroke="#555" stroke-width="0.8"/>
<line x1="420.10" y1="529.30" x2="420.10" y2="533.60" stroke="#555" stroke-width="0.8"/>
<line x1="426.10" y1="529.30" x2="426.10" y2="532.40" stroke="#555" stroke-width="0.8"/>
<line x1="432.10" y1="529.30" x2="432.10" y2="532.40" stroke="#555" stroke-width="0.8"/>
<line x1="438.10" y1="529.30" x2="438.10" y2="532.40" stroke="#555" stroke-width="0.8"/>
<line x1="444.10" y1="529.30" x2="444.10" y2="532.40" stroke="#555" stroke-width="0.8"/>
<line x1="450.10" y1="529.30" x2="450.10" y2="533.60" stroke="#555" stroke-width="0.8"/>
<line x1="456.10" y1="529.30" x2="456.10" y2="532.40" stroke="#555" stroke-width="0.8"/>
<line x1="462.10" y1="529.30" x2="462.10" y2="532.40" stroke="#555" stroke-width="0.8"/>
<line x1="468.10" y1="529.30" x2="468.10" y2="532.40" stroke="#555" stroke-width="0.8"/>
<line x1="474.10" y1="529.30" x2="474.10" y2="532.40" stroke="#555" stroke-width="0.8"/>
<line x1="480.10" y1="529.30" x2="480.10" y2="533.60" stroke="#555" stroke-width="0.8"/>
<text x="360.10" y="542.90" font-size="8.4" fill="#2c2c2c" text-anchor="middle" font-weight="normal">0</text>
<text x="390.10" y="542.90" font-size="8.4" fill="#2c2c2c" text-anchor="middle" font-weight="normal">500</text>
<text x="420.10" y="542.90" font-size="8.4" fill="#2c2c2c" text-anchor="middle" font-weight="normal">1,000</text>
<text x="450.10" y="542.90" font-size="8.4" fill="#2c2c2c" text-anchor="middle" font-weight="normal">1,500</text>
<text x="480.10" y="542.90" font-size="8.4" fill="#2c2c2c" text-anchor="middle" font-weight="normal">2,000</text>
<text x="420.10" y="554.60" font-size="8.5" fill="#2c2c2c" text-anchor="middle" font-weight="normal">Time (s)</text>
<text x="407.5" y="432.6" font-size="9" fill="#222" lengthAdjust="spacingAndGlyphs" textLength="32.6">+ <tspan fill="#e8313b">PRDX1</tspan></text>
<path d="M514.0 515.6V520.6M512.9 515.6h2.2M512.9 520.6h2.2M516.4 515.7V520.6M515.3 515.7h2.2M515.3 520.6h2.2M518.8 515.8V520.7M517.7 515.8h2.2M517.7 520.7h2.2M521.2 515.9V520.8M520.1 515.9h2.2M520.1 520.8h2.2M523.6 515.9V520.9M522.5 515.9h2.2M522.5 520.9h2.2M526.0 516.0V520.9M524.9 516.0h2.2M524.9 520.9h2.2M528.4 516.0V521.0M527.3 516.0h2.2M527.3 521.0h2.2M530.8 516.0V521.0M529.7 516.0h2.2M529.7 521.0h2.2M533.2 516.0V521.0M532.1 516.0h2.2M532.1 521.0h2.2M535.6 516.1V521.0M534.5 516.1h2.2M534.5 521.0h2.2M538.0 516.1V521.0M536.9 516.1h2.2M536.9 521.0h2.2M540.4 516.1V521.1M539.3 516.1h2.2M539.3 521.1h2.2M542.8 516.1V521.1M541.7 516.1h2.2M541.7 521.1h2.2M545.2 516.1V521.1M544.1 516.1h2.2M544.1 521.1h2.2M547.6 516.1V521.1M546.5 516.1h2.2M546.5 521.1h2.2M550.0 516.2V521.1M548.9 516.2h2.2M548.9 521.1h2.2M552.4 516.2V521.1M551.3 516.2h2.2M551.3 521.1h2.2M554.8 516.2V521.2M553.7 516.2h2.2M553.7 521.2h2.2M557.2 516.2V521.2M556.1 516.2h2.2M556.1 521.2h2.2M559.6 516.2V521.2M558.5 516.2h2.2M558.5 521.2h2.2M562.0 516.2V521.2M560.9 516.2h2.2M560.9 521.2h2.2M564.4 516.3V521.2M563.3 516.3h2.2M563.3 521.2h2.2M566.8 516.3V521.2M565.7 516.3h2.2M565.7 521.2h2.2M569.2 516.3V521.2M568.1 516.3h2.2M568.1 521.2h2.2M571.6 516.3V521.3M570.5 516.3h2.2M570.5 521.3h2.2M574.0 516.3V521.3M572.9 516.3h2.2M572.9 521.3h2.2M576.4 516.3V521.3M575.3 516.3h2.2M575.3 521.3h2.2M578.8 516.3V521.3M577.7 516.3h2.2M577.7 521.3h2.2M581.2 516.4V521.3M580.1 516.4h2.2M580.1 521.3h2.2M583.6 516.4V521.3M582.5 516.4h2.2M582.5 521.3h2.2M586.0 516.4V521.4M584.9 516.4h2.2M584.9 521.4h2.2M588.4 516.4V521.4M587.3 516.4h2.2M587.3 521.4h2.2M590.8 516.4V521.4M589.7 516.4h2.2M589.7 521.4h2.2M593.2 516.4V521.4M592.1 516.4h2.2M592.1 521.4h2.2M595.6 516.5V521.4M594.5 516.5h2.2M594.5 521.4h2.2M598.0 516.5V521.4M596.9 516.5h2.2M596.9 521.4h2.2M600.4 516.5V521.5M599.3 516.5h2.2M599.3 521.5h2.2M602.8 516.5V521.5M601.7 516.5h2.2M601.7 521.5h2.2M605.2 516.5V521.5M604.1 516.5h2.2M604.1 521.5h2.2M607.6 516.5V521.5M606.5 516.5h2.2M606.5 521.5h2.2M610.0 516.6V521.5M608.9 516.6h2.2M608.9 521.5h2.2M612.4 516.6V521.5M611.3 516.6h2.2M611.3 521.5h2.2M614.8 516.6V521.5M613.7 516.6h2.2M613.7 521.5h2.2M617.2 516.6V521.6M616.1 516.6h2.2M616.1 521.6h2.2M619.6 516.6V521.6M618.5 516.6h2.2M618.5 521.6h2.2M622.0 516.6V521.6M620.9 516.6h2.2M620.9 521.6h2.2M624.4 516.6V521.6M623.3 516.6h2.2M623.3 521.6h2.2M626.8 516.7V521.6M625.7 516.7h2.2M625.7 521.6h2.2" stroke="#d2d2d2" stroke-width="0.4" fill="none"/>
<polyline points="512.80,518.06 513.70,518.30 514.60,517.82 515.50,518.06 516.40,518.40 517.30,517.93 518.20,518.88 519.10,518.90 520.00,518.76 520.90,518.14 521.80,518.43 522.70,518.17 523.60,518.42 524.50,518.38 525.40,518.60 526.30,518.58 527.20,518.16 528.10,518.24 529.00,518.90 529.90,518.31 530.80,517.86 531.70,518.27 532.60,518.81 533.50,518.28 534.40,518.45 535.30,518.63 536.20,518.23 537.10,518.16 538.00,518.71 538.90,518.51 539.80,518.68 540.70,518.56 541.60,518.07 542.50,518.71 543.40,518.40 544.30,518.51 545.20,518.57 546.10,518.95 547.00,518.41 547.90,518.95 548.80,518.39 549.70,518.65 550.60,518.59 551.50,518.78 552.40,518.91 553.30,518.97 554.20,518.65 555.10,518.69 556.00,518.58 556.90,518.76 557.80,518.44 558.70,518.64 559.60,518.65 560.50,518.77 561.40,518.71 562.30,518.50 563.20,518.93 564.10,519.09 565.00,518.60 565.90,518.60 566.80,518.73 567.70,518.67 568.60,519.15 569.50,519.06 570.40,518.76 571.30,518.78 572.20,519.16 573.10,518.63 574.00,519.38 574.90,518.40 575.80,519.12 576.70,518.98 577.60,519.13 578.50,519.23 579.40,518.92 580.30,519.42 581.20,518.94 582.10,518.79 583.00,518.94 583.90,518.86 584.80,519.31 585.70,519.44 586.60,519.28 587.50,518.55 588.40,518.78 589.30,519.44 590.20,518.36 591.10,518.70 592.00,518.57 592.90,518.60 593.80,518.51 594.70,519.45 595.60,518.91 596.50,519.18 597.40,518.34 598.30,518.73 599.20,518.95 600.10,519.04 601.00,519.62 601.90,518.94 602.80,519.24 603.70,518.56 604.60,518.76 605.50,519.02 606.40,519.12 607.30,518.66 608.20,519.18 609.10,518.68 610.00,518.96 610.90,519.12 611.80,518.92 612.70,518.50 613.60,519.55 614.50,518.82 615.40,518.83 616.30,519.15 617.20,518.62 618.10,518.87 619.00,518.92 619.90,519.40 620.80,518.92 621.70,519.50 622.60,518.95 623.50,518.44 624.40,519.40 625.30,518.64 626.20,519.46" fill="none" stroke="#2f8ff0" stroke-width="1.45" stroke-linejoin="round"/>
<path d="M514.0 515.6V520.6M512.9 515.6h2.2M512.9 520.6h2.2M516.4 515.7V520.6M515.3 515.7h2.2M515.3 520.6h2.2M518.8 515.8V520.7M517.7 515.8h2.2M517.7 520.7h2.2M521.2 515.9V520.8M520.1 515.9h2.2M520.1 520.8h2.2M523.6 515.9V520.9M522.5 515.9h2.2M522.5 520.9h2.2M526.0 516.0V520.9M524.9 516.0h2.2M524.9 520.9h2.2M528.4 516.0V521.0M527.3 516.0h2.2M527.3 521.0h2.2M530.8 516.0V521.0M529.7 516.0h2.2M529.7 521.0h2.2M533.2 516.0V521.0M532.1 516.0h2.2M532.1 521.0h2.2M535.6 516.1V521.0M534.5 516.1h2.2M534.5 521.0h2.2M538.0 516.1V521.0M536.9 516.1h2.2M536.9 521.0h2.2M540.4 516.1V521.1M539.3 516.1h2.2M539.3 521.1h2.2M542.8 516.1V521.1M541.7 516.1h2.2M541.7 521.1h2.2M545.2 516.1V521.1M544.1 516.1h2.2M544.1 521.1h2.2M547.6 516.1V521.1M546.5 516.1h2.2M546.5 521.1h2.2M550.0 516.2V521.1M548.9 516.2h2.2M548.9 521.1h2.2M552.4 516.2V521.1M551.3 516.2h2.2M551.3 521.1h2.2M554.8 516.2V521.2M553.7 516.2h2.2M553.7 521.2h2.2M557.2 516.2V521.2M556.1 516.2h2.2M556.1 521.2h2.2M559.6 516.2V521.2M558.5 516.2h2.2M558.5 521.2h2.2M562.0 516.2V521.2M560.9 516.2h2.2M560.9 521.2h2.2M564.4 516.3V521.2M563.3 516.3h2.2M563.3 521.2h2.2M566.8 516.3V521.2M565.7 516.3h2.2M565.7 521.2h2.2M569.2 516.3V521.2M568.1 516.3h2.2M568.1 521.2h2.2M571.6 516.3V521.3M570.5 516.3h2.2M570.5 521.3h2.2M574.0 516.3V521.3M572.9 516.3h2.2M572.9 521.3h2.2M576.4 516.3V521.3M575.3 516.3h2.2M575.3 521.3h2.2M578.8 516.3V521.3M577.7 516.3h2.2M577.7 521.3h2.2M581.2 516.4V521.3M580.1 516.4h2.2M580.1 521.3h2.2M583.6 516.4V521.3M582.5 516.4h2.2M582.5 521.3h2.2M586.0 516.4V521.4M584.9 516.4h2.2M584.9 521.4h2.2M588.4 516.4V521.4M587.3 516.4h2.2M587.3 521.4h2.2M590.8 516.4V521.4M589.7 516.4h2.2M589.7 521.4h2.2M593.2 516.4V521.4M592.1 516.4h2.2M592.1 521.4h2.2M595.6 516.5V521.4M594.5 516.5h2.2M594.5 521.4h2.2M598.0 516.5V521.4M596.9 516.5h2.2M596.9 521.4h2.2M600.4 516.5V521.5M599.3 516.5h2.2M599.3 521.5h2.2M602.8 516.5V521.5M601.7 516.5h2.2M601.7 521.5h2.2M605.2 516.5V521.5M604.1 516.5h2.2M604.1 521.5h2.2M607.6 516.5V521.5M606.5 516.5h2.2M606.5 521.5h2.2M610.0 516.6V521.5M608.9 516.6h2.2M608.9 521.5h2.2M612.4 516.6V521.5M611.3 516.6h2.2M611.3 521.5h2.2M614.8 516.6V521.5M613.7 516.6h2.2M613.7 521.5h2.2M617.2 516.6V521.6M616.1 516.6h2.2M616.1 521.6h2.2M619.6 516.6V521.6M618.5 516.6h2.2M618.5 521.6h2.2M622.0 516.6V521.6M620.9 516.6h2.2M620.9 521.6h2.2M624.4 516.6V521.6M623.3 516.6h2.2M623.3 521.6h2.2M626.8 516.7V521.6M625.7 516.7h2.2M625.7 521.6h2.2" stroke="#d2d2d2" stroke-width="0.4" fill="none"/>
<polyline points="512.80,518.06 513.70,518.05 514.60,517.87 515.50,518.57 516.40,518.05 517.30,518.42 518.20,518.41 519.10,517.98 520.00,518.30 520.90,518.19 521.80,518.34 522.70,518.25 523.60,517.91 524.50,518.38 525.40,518.53 526.30,518.45 527.20,518.24 528.10,518.34 529.00,519.15 529.90,518.52 530.80,518.36 531.70,517.69 532.60,518.70 533.50,518.60 534.40,518.88 535.30,518.55 536.20,519.09 537.10,518.80 538.00,518.57 538.90,519.02 539.80,518.64 540.70,518.78 541.60,518.18 542.50,518.08 543.40,517.93 544.30,518.55 545.20,518.39 546.10,517.86 547.00,518.81 547.90,518.08 548.80,518.90 549.70,518.30 550.60,519.12 551.50,518.76 552.40,518.70 553.30,518.73 554.20,519.26 555.10,518.62 556.00,518.76 556.90,518.21 557.80,518.50 558.70,519.36 559.60,518.65 560.50,518.36 561.40,518.73 562.30,518.93 563.20,519.14 564.10,518.84 565.00,519.02 565.90,518.82 566.80,518.84 567.70,518.35 568.60,519.06 569.50,518.65 570.40,519.11 571.30,518.68 572.20,518.45 573.10,518.96 574.00,519.16 574.90,518.78 575.80,518.79 576.70,519.01 577.60,518.68 578.50,518.79 579.40,518.61 580.30,519.26 581.20,518.60 582.10,518.45 583.00,519.10 583.90,518.23 584.80,518.79 585.70,519.27 586.60,519.21 587.50,519.11 588.40,519.09 589.30,518.96 590.20,518.80 591.10,518.97 592.00,519.01 592.90,519.21 593.80,519.56 594.70,519.15 595.60,519.32 596.50,518.66 597.40,519.70 598.30,518.59 599.20,519.85 600.10,519.02 601.00,518.96 601.90,519.32 602.80,519.29 603.70,518.71 604.60,519.33 605.50,519.03 606.40,518.99 607.30,518.80 608.20,519.41 609.10,518.61 610.00,519.08 610.90,518.72 611.80,519.48 612.70,518.70 613.60,519.08 614.50,518.81 615.40,519.26 616.30,518.80 617.20,519.06 618.10,519.68 619.00,518.30 619.90,519.30 620.80,518.95 621.70,519.17 622.60,519.25 623.50,519.23 624.40,518.83 625.30,518.83 626.20,518.84" fill="none" stroke="#d83a3a" stroke-width="1.45" stroke-linejoin="round"/>
<path d="M514.0 515.6V520.6M512.9 515.6h2.2M512.9 520.6h2.2M516.4 515.7V520.6M515.3 515.7h2.2M515.3 520.6h2.2M518.8 515.8V520.7M517.7 515.8h2.2M517.7 520.7h2.2M521.2 515.9V520.8M520.1 515.9h2.2M520.1 520.8h2.2M523.6 515.9V520.9M522.5 515.9h2.2M522.5 520.9h2.2M526.0 516.0V520.9M524.9 516.0h2.2M524.9 520.9h2.2M528.4 516.0V521.0M527.3 516.0h2.2M527.3 521.0h2.2M530.8 516.0V521.0M529.7 516.0h2.2M529.7 521.0h2.2M533.2 516.0V521.0M532.1 516.0h2.2M532.1 521.0h2.2M535.6 516.1V521.0M534.5 516.1h2.2M534.5 521.0h2.2M538.0 516.1V521.0M536.9 516.1h2.2M536.9 521.0h2.2M540.4 516.1V521.1M539.3 516.1h2.2M539.3 521.1h2.2M542.8 516.1V521.1M541.7 516.1h2.2M541.7 521.1h2.2M545.2 516.1V521.1M544.1 516.1h2.2M544.1 521.1h2.2M547.6 516.1V521.1M546.5 516.1h2.2M546.5 521.1h2.2M550.0 516.2V521.1M548.9 516.2h2.2M548.9 521.1h2.2M552.4 516.2V521.1M551.3 516.2h2.2M551.3 521.1h2.2M554.8 516.2V521.2M553.7 516.2h2.2M553.7 521.2h2.2M557.2 516.2V521.2M556.1 516.2h2.2M556.1 521.2h2.2M559.6 516.2V521.2M558.5 516.2h2.2M558.5 521.2h2.2M562.0 516.2V521.2M560.9 516.2h2.2M560.9 521.2h2.2M564.4 516.3V521.2M563.3 516.3h2.2M563.3 521.2h2.2M566.8 516.3V521.2M565.7 516.3h2.2M565.7 521.2h2.2M569.2 516.3V521.2M568.1 516.3h2.2M568.1 521.2h2.2M571.6 516.3V521.3M570.5 516.3h2.2M570.5 521.3h2.2M574.0 516.3V521.3M572.9 516.3h2.2M572.9 521.3h2.2M576.4 516.3V521.3M575.3 516.3h2.2M575.3 521.3h2.2M578.8 516.3V521.3M577.7 516.3h2.2M577.7 521.3h2.2M581.2 516.4V521.3M580.1 516.4h2.2M580.1 521.3h2.2M583.6 516.4V521.3M582.5 516.4h2.2M582.5 521.3h2.2M586.0 516.4V521.4M584.9 516.4h2.2M584.9 521.4h2.2M588.4 516.4V521.4M587.3 516.4h2.2M587.3 521.4h2.2M590.8 516.4V521.4M589.7 516.4h2.2M589.7 521.4h2.2M593.2 516.4V521.4M592.1 516.4h2.2M592.1 521.4h2.2M595.6 516.5V521.4M594.5 516.5h2.2M594.5 521.4h2.2M598.0 516.5V521.4M596.9 516.5h2.2M596.9 521.4h2.2M600.4 516.5V521.5M599.3 516.5h2.2M599.3 521.5h2.2M602.8 516.5V521.5M601.7 516.5h2.2M601.7 521.5h2.2M605.2 516.5V521.5M604.1 516.5h2.2M604.1 521.5h2.2M607.6 516.5V521.5M606.5 516.5h2.2M606.5 521.5h2.2M610.0 516.6V521.5M608.9 516.6h2.2M608.9 521.5h2.2M612.4 516.6V521.5M611.3 516.6h2.2M611.3 521.5h2.2M614.8 516.6V521.5M613.7 516.6h2.2M613.7 521.5h2.2M617.2 516.6V521.6M616.1 516.6h2.2M616.1 521.6h2.2M619.6 516.6V521.6M618.5 516.6h2.2M618.5 521.6h2.2M622.0 516.6V521.6M620.9 516.6h2.2M620.9 521.6h2.2M624.4 516.6V521.6M623.3 516.6h2.2M623.3 521.6h2.2M626.8 516.7V521.6M625.7 516.7h2.2M625.7 521.6h2.2" stroke="#d2d2d2" stroke-width="0.4" fill="none"/>
<polyline points="512.80,518.06 513.70,518.58 514.60,517.84 515.50,518.59 516.40,517.42 517.30,518.06 518.20,517.86 519.10,518.25 520.00,518.24 520.90,518.54 521.80,517.72 522.70,518.48 523.60,518.05 524.50,518.68 525.40,518.49 526.30,518.58 527.20,518.50 528.10,518.64 529.00,518.29 529.90,518.29 530.80,519.01 531.70,518.65 532.60,518.93 533.50,518.18 534.40,518.92 535.30,518.38 536.20,518.49 537.10,518.56 538.00,519.16 538.90,518.02 539.80,518.61 540.70,518.35 541.60,518.24 542.50,518.89 543.40,518.90 544.30,518.05 545.20,517.99 546.10,518.86 547.00,518.63 547.90,518.32 548.80,518.67 549.70,518.21 550.60,518.44 551.50,518.66 552.40,518.43 553.30,518.80 554.20,518.26 555.10,518.87 556.00,518.26 556.90,517.88 557.80,519.23 558.70,518.15 559.60,519.16 560.50,518.72 561.40,518.13 562.30,518.37 563.20,518.50 564.10,518.60 565.00,518.67 565.90,518.59 566.80,518.80 567.70,518.83 568.60,519.14 569.50,518.21 570.40,518.77 571.30,518.17 572.20,518.54 573.10,518.64 574.00,519.13 574.90,518.87 575.80,518.78 576.70,518.84 577.60,518.91 578.50,519.54 579.40,518.95 580.30,518.91 581.20,518.99 582.10,518.94 583.00,519.34 583.90,519.12 584.80,518.39 585.70,519.16 586.60,519.04 587.50,519.14 588.40,518.93 589.30,519.05 590.20,518.26 591.10,519.23 592.00,518.48 592.90,519.06 593.80,518.78 594.70,518.12 595.60,518.93 596.50,518.94 597.40,519.85 598.30,519.05 599.20,519.03 600.10,518.92 601.00,518.89 601.90,519.32 602.80,519.27 603.70,518.74 604.60,519.07 605.50,518.98 606.40,518.79 607.30,518.97 608.20,518.96 609.10,519.36 610.00,519.02 610.90,519.57 611.80,518.48 612.70,519.29 613.60,518.52 614.50,519.21 615.40,519.10 616.30,518.65 617.20,519.00 618.10,519.02 619.00,519.17 619.90,519.17 620.80,519.33 621.70,519.34 622.60,519.67 623.50,519.16 624.40,519.36 625.30,518.68 626.20,518.45" fill="none" stroke="#3aaa5a" stroke-width="1.45" stroke-linejoin="round"/>
<path d="M514.0 515.6V520.6M512.9 515.6h2.2M512.9 520.6h2.2M516.4 515.7V520.6M515.3 515.7h2.2M515.3 520.6h2.2M518.8 515.8V520.7M517.7 515.8h2.2M517.7 520.7h2.2M521.2 515.9V520.8M520.1 515.9h2.2M520.1 520.8h2.2M523.6 515.9V520.9M522.5 515.9h2.2M522.5 520.9h2.2M526.0 516.0V520.9M524.9 516.0h2.2M524.9 520.9h2.2M528.4 516.0V521.0M527.3 516.0h2.2M527.3 521.0h2.2M530.8 516.0V521.0M529.7 516.0h2.2M529.7 521.0h2.2M533.2 516.0V521.0M532.1 516.0h2.2M532.1 521.0h2.2M535.6 516.1V521.0M534.5 516.1h2.2M534.5 521.0h2.2M538.0 516.1V521.0M536.9 516.1h2.2M536.9 521.0h2.2M540.4 516.1V521.1M539.3 516.1h2.2M539.3 521.1h2.2M542.8 516.1V521.1M541.7 516.1h2.2M541.7 521.1h2.2M545.2 516.1V521.1M544.1 516.1h2.2M544.1 521.1h2.2M547.6 516.1V521.1M546.5 516.1h2.2M546.5 521.1h2.2M550.0 516.2V521.1M548.9 516.2h2.2M548.9 521.1h2.2M552.4 516.2V521.1M551.3 516.2h2.2M551.3 521.1h2.2M554.8 516.2V521.2M553.7 516.2h2.2M553.7 521.2h2.2M557.2 516.2V521.2M556.1 516.2h2.2M556.1 521.2h2.2M559.6 516.2V521.2M558.5 516.2h2.2M558.5 521.2h2.2M562.0 516.2V521.2M560.9 516.2h2.2M560.9 521.2h2.2M564.4 516.3V521.2M563.3 516.3h2.2M563.3 521.2h2.2M566.8 516.3V521.2M565.7 516.3h2.2M565.7 521.2h2.2M569.2 516.3V521.2M568.1 516.3h2.2M568.1 521.2h2.2M571.6 516.3V521.3M570.5 516.3h2.2M570.5 521.3h2.2M574.0 516.3V521.3M572.9 516.3h2.2M572.9 521.3h2.2M576.4 516.3V521.3M575.3 516.3h2.2M575.3 521.3h2.2M578.8 516.3V521.3M577.7 516.3h2.2M577.7 521.3h2.2M581.2 516.4V521.3M580.1 516.4h2.2M580.1 521.3h2.2M583.6 516.4V521.3M582.5 516.4h2.2M582.5 521.3h2.2M586.0 516.4V521.4M584.9 516.4h2.2M584.9 521.4h2.2M588.4 516.4V521.4M587.3 516.4h2.2M587.3 521.4h2.2M590.8 516.4V521.4M589.7 516.4h2.2M589.7 521.4h2.2M593.2 516.4V521.4M592.1 516.4h2.2M592.1 521.4h2.2M595.6 516.5V521.4M594.5 516.5h2.2M594.5 521.4h2.2M598.0 516.5V521.4M596.9 516.5h2.2M596.9 521.4h2.2M600.4 516.5V521.5M599.3 516.5h2.2M599.3 521.5h2.2M602.8 516.5V521.5M601.7 516.5h2.2M601.7 521.5h2.2M605.2 516.5V521.5M604.1 516.5h2.2M604.1 521.5h2.2M607.6 516.5V521.5M606.5 516.5h2.2M606.5 521.5h2.2M610.0 516.6V521.5M608.9 516.6h2.2M608.9 521.5h2.2M612.4 516.6V521.5M611.3 516.6h2.2M611.3 521.5h2.2M614.8 516.6V521.5M613.7 516.6h2.2M613.7 521.5h2.2M617.2 516.6V521.6M616.1 516.6h2.2M616.1 521.6h2.2M619.6 516.6V521.6M618.5 516.6h2.2M618.5 521.6h2.2M622.0 516.6V521.6M620.9 516.6h2.2M620.9 521.6h2.2M624.4 516.6V521.6M623.3 516.6h2.2M623.3 521.6h2.2M626.8 516.7V521.6M625.7 516.7h2.2M625.7 521.6h2.2" stroke="#d2d2d2" stroke-width="0.4" fill="none"/>
<polyline points="512.80,518.06 513.70,517.46 514.60,518.46 515.50,518.23 516.40,518.19 517.30,518.66 518.20,517.71 519.10,518.02 520.00,518.18 520.90,517.69 521.80,518.18 522.70,518.46 523.60,518.30 524.50,518.56 525.40,518.28 526.30,518.87 527.20,518.30 528.10,518.57 529.00,518.62 529.90,518.61 530.80,518.53 531.70,519.05 532.60,518.32 533.50,518.57 534.40,517.95 535.30,518.53 536.20,518.23 537.10,518.55 538.00,518.58 538.90,518.93 539.80,518.70 540.70,518.75 541.60,519.33 542.50,518.67 543.40,518.81 544.30,518.49 545.20,518.26 546.10,518.69 547.00,518.23 547.90,518.21 548.80,518.37 549.70,518.72 550.60,518.59 551.50,518.11 552.40,518.15 553.30,518.28 554.20,519.20 555.10,519.37 556.00,518.10 556.90,518.44 557.80,518.24 558.70,518.49 559.60,518.78 560.50,518.54 561.40,518.71 562.30,518.23 563.20,518.44 564.10,519.01 565.00,518.96 565.90,518.40 566.80,518.45 567.70,518.65 568.60,518.63 569.50,519.14 570.40,519.03 571.30,518.59 572.20,519.35 573.10,518.62 574.00,518.59 574.90,518.58 575.80,518.52 576.70,518.19 577.60,518.71 578.50,519.07 579.40,519.36 580.30,519.53 581.20,518.79 582.10,518.55 583.00,519.37 583.90,518.79 584.80,519.08 585.70,518.94 586.60,518.79 587.50,518.86 588.40,519.25 589.30,518.64 590.20,518.93 591.10,519.49 592.00,518.65 592.90,518.40 593.80,519.03 594.70,518.40 595.60,519.42 596.50,519.01 597.40,518.52 598.30,518.52 599.20,518.78 600.10,518.61 601.00,519.09 601.90,518.73 602.80,518.66 603.70,518.67 604.60,518.86 605.50,518.72 606.40,518.85 607.30,518.80 608.20,519.50 609.10,518.82 610.00,519.31 610.90,519.14 611.80,519.01 612.70,518.95 613.60,519.46 614.50,519.21 615.40,518.98 616.30,519.19 617.20,519.05 618.10,519.00 619.00,519.01 619.90,519.26 620.80,519.03 621.70,518.91 622.60,519.50 623.50,518.86 624.40,519.43 625.30,519.00 626.20,518.92" fill="none" stroke="#8a2be8" stroke-width="1.45" stroke-linejoin="round"/>
<path d="M514.0 515.6V520.6M512.9 515.6h2.2M512.9 520.6h2.2M516.4 515.7V520.6M515.3 515.7h2.2M515.3 520.6h2.2M518.8 515.8V520.7M517.7 515.8h2.2M517.7 520.7h2.2M521.2 515.9V520.8M520.1 515.9h2.2M520.1 520.8h2.2M523.6 515.9V520.9M522.5 515.9h2.2M522.5 520.9h2.2M526.0 516.0V520.9M524.9 516.0h2.2M524.9 520.9h2.2M528.4 516.0V521.0M527.3 516.0h2.2M527.3 521.0h2.2M530.8 516.0V521.0M529.7 516.0h2.2M529.7 521.0h2.2M533.2 516.0V521.0M532.1 516.0h2.2M532.1 521.0h2.2M535.6 516.1V521.0M534.5 516.1h2.2M534.5 521.0h2.2M538.0 516.1V521.0M536.9 516.1h2.2M536.9 521.0h2.2M540.4 516.1V521.1M539.3 516.1h2.2M539.3 521.1h2.2M542.8 516.1V521.1M541.7 516.1h2.2M541.7 521.1h2.2M545.2 516.1V521.1M544.1 516.1h2.2M544.1 521.1h2.2M547.6 516.1V521.1M546.5 516.1h2.2M546.5 521.1h2.2M550.0 516.2V521.1M548.9 516.2h2.2M548.9 521.1h2.2M552.4 516.2V521.1M551.3 516.2h2.2M551.3 521.1h2.2M554.8 516.2V521.2M553.7 516.2h2.2M553.7 521.2h2.2M557.2 516.2V521.2M556.1 516.2h2.2M556.1 521.2h2.2M559.6 516.2V521.2M558.5 516.2h2.2M558.5 521.2h2.2M562.0 516.2V521.2M560.9 516.2h2.2M560.9 521.2h2.2M564.4 516.3V521.2M563.3 516.3h2.2M563.3 521.2h2.2M566.8 516.3V521.2M565.7 516.3h2.2M565.7 521.2h2.2M569.2 516.3V521.2M568.1 516.3h2.2M568.1 521.2h2.2M571.6 516.3V521.3M570.5 516.3h2.2M570.5 521.3h2.2M574.0 516.3V521.3M572.9 516.3h2.2M572.9 521.3h2.2M576.4 516.3V521.3M575.3 516.3h2.2M575.3 521.3h2.2M578.8 516.3V521.3M577.7 516.3h2.2M577.7 521.3h2.2M581.2 516.4V521.3M580.1 516.4h2.2M580.1 521.3h2.2M583.6 516.4V521.3M582.5 516.4h2.2M582.5 521.3h2.2M586.0 516.4V521.4M584.9 516.4h2.2M584.9 521.4h2.2M588.4 516.4V521.4M587.3 516.4h2.2M587.3 521.4h2.2M590.8 516.4V521.4M589.7 516.4h2.2M589.7 521.4h2.2M593.2 516.4V521.4M592.1 516.4h2.2M592.1 521.4h2.2M595.6 516.5V521.4M594.5 516.5h2.2M594.5 521.4h2.2M598.0 516.5V521.4M596.9 516.5h2.2M596.9 521.4h2.2M600.4 516.5V521.5M599.3 516.5h2.2M599.3 521.5h2.2M602.8 516.5V521.5M601.7 516.5h2.2M601.7 521.5h2.2M605.2 516.5V521.5M604.1 516.5h2.2M604.1 521.5h2.2M607.6 516.5V521.5M606.5 516.5h2.2M606.5 521.5h2.2M610.0 516.6V521.5M608.9 516.6h2.2M608.9 521.5h2.2M612.4 516.6V521.5M611.3 516.6h2.2M611.3 521.5h2.2M614.8 516.6V521.5M613.7 516.6h2.2M613.7 521.5h2.2M617.2 516.6V521.6M616.1 516.6h2.2M616.1 521.6h2.2M619.6 516.6V521.6M618.5 516.6h2.2M618.5 521.6h2.2M622.0 516.6V521.6M620.9 516.6h2.2M620.9 521.6h2.2M624.4 516.6V521.6M623.3 516.6h2.2M623.3 521.6h2.2M626.8 516.7V521.6M625.7 516.7h2.2M625.7 521.6h2.2" stroke="#d2d2d2" stroke-width="0.4" fill="none"/>
<polyline points="512.80,518.06 513.70,517.86 514.60,518.46 515.50,518.40 516.40,518.51 517.30,517.99 518.20,518.16 519.10,518.81 520.00,518.04 520.90,517.93 521.80,518.50 522.70,518.39 523.60,518.31 524.50,518.73 525.40,518.57 526.30,518.27 527.20,518.57 528.10,518.47 529.00,518.44 529.90,517.94 530.80,518.41 531.70,518.39 532.60,518.66 533.50,518.12 534.40,518.50 535.30,518.53 536.20,518.11 537.10,518.11 538.00,518.83 538.90,518.65 539.80,518.15 540.70,518.71 541.60,518.07 542.50,518.62 543.40,517.96 544.30,518.89 545.20,519.21 546.10,519.06 547.00,517.97 547.90,518.84 548.80,518.75 549.70,518.80 550.60,518.86 551.50,518.58 552.40,518.60 553.30,518.84 554.20,518.82 555.10,518.23 556.00,518.36 556.90,518.35 557.80,518.28 558.70,518.74 559.60,518.41 560.50,518.17 561.40,518.96 562.30,518.27 563.20,519.49 564.10,519.32 565.00,519.19 565.90,519.04 566.80,519.04 567.70,518.89 568.60,518.49 569.50,518.98 570.40,518.87 571.30,519.18 572.20,519.28 573.10,518.83 574.00,519.02 574.90,518.51 575.80,518.76 576.70,519.38 577.60,518.58 578.50,519.19 579.40,518.94 580.30,519.16 581.20,519.09 582.10,519.03 583.00,519.22 583.90,519.08 584.80,518.94 585.70,518.63 586.60,518.64 587.50,518.31 588.40,519.39 589.30,519.01 590.20,518.51 591.10,519.26 592.00,518.96 592.90,518.68 593.80,518.43 594.70,518.74 595.60,518.82 596.50,518.99 597.40,518.74 598.30,518.91 599.20,518.84 600.10,519.16 601.00,519.01 601.90,519.25 602.80,519.32 603.70,519.25 604.60,519.26 605.50,519.21 606.40,519.18 607.30,519.49 608.20,518.92 609.10,518.92 610.00,518.54 610.90,519.78 611.80,519.49 612.70,519.35 613.60,519.33 614.50,519.04 615.40,519.33 616.30,519.31 617.20,518.84 618.10,519.14 619.00,519.60 619.90,518.79 620.80,518.39 621.70,518.75 622.60,519.16 623.50,518.69 624.40,519.14 625.30,519.24 626.20,519.05" fill="none" stroke="#1aa6c8" stroke-width="1.45" stroke-linejoin="round"/>
<path d="M514.0 515.6V520.6M512.9 515.6h2.2M512.9 520.6h2.2M516.4 515.7V520.6M515.3 515.7h2.2M515.3 520.6h2.2M518.8 515.8V520.7M517.7 515.8h2.2M517.7 520.7h2.2M521.2 515.9V520.8M520.1 515.9h2.2M520.1 520.8h2.2M523.6 515.9V520.9M522.5 515.9h2.2M522.5 520.9h2.2M526.0 516.0V521.0M524.9 516.0h2.2M524.9 521.0h2.2M528.4 516.0V521.0M527.3 516.0h2.2M527.3 521.0h2.2M530.8 516.1V521.0M529.7 516.1h2.2M529.7 521.0h2.2M533.2 516.1V521.1M532.1 516.1h2.2M532.1 521.1h2.2M535.6 516.1V521.1M534.5 516.1h2.2M534.5 521.1h2.2M538.0 516.2V521.1M536.9 516.2h2.2M536.9 521.1h2.2M540.4 516.2V521.2M539.3 516.2h2.2M539.3 521.2h2.2M542.8 516.2V521.2M541.7 516.2h2.2M541.7 521.2h2.2M545.2 516.3V521.2M544.1 516.3h2.2M544.1 521.2h2.2M547.6 516.3V521.3M546.5 516.3h2.2M546.5 521.3h2.2M550.0 516.3V521.3M548.9 516.3h2.2M548.9 521.3h2.2M552.4 516.4V521.3M551.3 516.4h2.2M551.3 521.3h2.2M554.8 516.4V521.4M553.7 516.4h2.2M553.7 521.4h2.2M557.2 516.4V521.4M556.1 516.4h2.2M556.1 521.4h2.2M559.6 516.5V521.4M558.5 516.5h2.2M558.5 521.4h2.2M562.0 516.5V521.4M560.9 516.5h2.2M560.9 521.4h2.2M564.4 516.5V521.5M563.3 516.5h2.2M563.3 521.5h2.2M566.8 516.5V521.5M565.7 516.5h2.2M565.7 521.5h2.2M569.2 516.6V521.5M568.1 516.6h2.2M568.1 521.5h2.2M571.6 516.6V521.6M570.5 516.6h2.2M570.5 521.6h2.2M574.0 516.6V521.6M572.9 516.6h2.2M572.9 521.6h2.2M576.4 516.7V521.6M575.3 516.7h2.2M575.3 521.6h2.2M578.8 516.7V521.7M577.7 516.7h2.2M577.7 521.7h2.2M581.2 516.7V521.7M580.1 516.7h2.2M580.1 521.7h2.2M583.6 516.8V521.7M582.5 516.8h2.2M582.5 521.7h2.2M586.0 516.8V521.8M584.9 516.8h2.2M584.9 521.8h2.2M588.4 516.8V521.8M587.3 516.8h2.2M587.3 521.8h2.2M590.8 516.9V521.8M589.7 516.9h2.2M589.7 521.8h2.2M593.2 516.9V521.9M592.1 516.9h2.2M592.1 521.9h2.2M595.6 516.9V521.9M594.5 516.9h2.2M594.5 521.9h2.2M598.0 517.0V521.9M596.9 517.0h2.2M596.9 521.9h2.2M600.4 517.0V522.0M599.3 517.0h2.2M599.3 522.0h2.2M602.8 517.0V522.0M601.7 517.0h2.2M601.7 522.0h2.2M605.2 517.1V522.0M604.1 517.1h2.2M604.1 522.0h2.2M607.6 517.1V522.1M606.5 517.1h2.2M606.5 522.1h2.2M610.0 517.1V522.1M608.9 517.1h2.2M608.9 522.1h2.2M612.4 517.2V522.1M611.3 517.2h2.2M611.3 522.1h2.2M614.8 517.2V522.1M613.7 517.2h2.2M613.7 522.1h2.2M617.2 517.2V522.2M616.1 517.2h2.2M616.1 522.2h2.2M619.6 517.2V522.2M618.5 517.2h2.2M618.5 522.2h2.2M622.0 517.3V522.2M620.9 517.3h2.2M620.9 522.2h2.2M624.4 517.3V522.3M623.3 517.3h2.2M623.3 522.3h2.2M626.8 517.3V522.3M625.7 517.3h2.2M625.7 522.3h2.2" stroke="#d2d2d2" stroke-width="0.4" fill="none"/>
<polyline points="512.80,518.06 513.70,517.66 514.60,518.06 515.50,518.22 516.40,518.59 517.30,518.12 518.20,518.55 519.10,518.28 520.00,518.72 520.90,518.59 521.80,518.65 522.70,518.59 523.60,518.76 524.50,518.04 525.40,518.20 526.30,518.58 527.20,518.82 528.10,518.16 529.00,518.59 529.90,518.35 530.80,518.22 531.70,518.68 532.60,518.43 533.50,518.44 534.40,518.73 535.30,518.66 536.20,518.81 537.10,519.70 538.00,518.76 538.90,518.13 539.80,518.34 540.70,517.81 541.60,518.66 542.50,518.42 543.40,518.91 544.30,518.96 545.20,519.01 546.10,518.60 547.00,518.51 547.90,519.37 548.80,518.56 549.70,518.51 550.60,518.56 551.50,519.22 552.40,518.77 553.30,518.74 554.20,519.27 555.10,519.22 556.00,518.18 556.90,519.10 557.80,519.06 558.70,519.53 559.60,519.12 560.50,518.51 561.40,518.83 562.30,519.23 563.20,518.96 564.10,518.87 565.00,518.81 565.90,519.32 566.80,518.90 567.70,519.24 568.60,519.20 569.50,519.33 570.40,519.32 571.30,518.93 572.20,519.65 573.10,519.04 574.00,518.26 574.90,519.41 575.80,519.23 576.70,519.17 577.60,518.67 578.50,519.63 579.40,519.01 580.30,519.23 581.20,518.59 582.10,519.29 583.00,518.61 583.90,519.55 584.80,519.15 585.70,519.62 586.60,519.47 587.50,519.69 588.40,519.44 589.30,518.83 590.20,519.50 591.10,518.57 592.00,518.85 592.90,519.27 593.80,519.38 594.70,519.29 595.60,519.64 596.50,519.23 597.40,519.40 598.30,520.05 599.20,519.44 600.10,519.28 601.00,519.46 601.90,519.39 602.80,519.50 603.70,519.66 604.60,519.19 605.50,519.09 606.40,519.64 607.30,519.31 608.20,519.91 609.10,519.19 610.00,519.85 610.90,519.59 611.80,519.32 612.70,519.79 613.60,519.63 614.50,519.34 615.40,519.84 616.30,519.57 617.20,519.35 618.10,519.62 619.00,519.96 619.90,519.85 620.80,519.82 621.70,519.75 622.60,519.57 623.50,520.26 624.40,519.81 625.30,519.73 626.20,519.33" fill="none" stroke="#ff7a10" stroke-width="1.45" stroke-linejoin="round"/>
<path d="M514.0 515.6V520.6M512.9 515.6h2.2M512.9 520.6h2.2M516.4 515.7V520.6M515.3 515.7h2.2M515.3 520.6h2.2M518.8 515.8V520.7M517.7 515.8h2.2M517.7 520.7h2.2M521.2 515.9V520.8M520.1 515.9h2.2M520.1 520.8h2.2M523.6 515.9V520.9M522.5 515.9h2.2M522.5 520.9h2.2M526.0 516.0V520.9M524.9 516.0h2.2M524.9 520.9h2.2M528.4 516.0V521.0M527.3 516.0h2.2M527.3 521.0h2.2M530.8 516.0V521.0M529.7 516.0h2.2M529.7 521.0h2.2M533.2 516.0V521.0M532.1 516.0h2.2M532.1 521.0h2.2M535.6 516.1V521.0M534.5 516.1h2.2M534.5 521.0h2.2M538.0 516.1V521.0M536.9 516.1h2.2M536.9 521.0h2.2M540.4 516.1V521.1M539.3 516.1h2.2M539.3 521.1h2.2M542.8 516.1V521.1M541.7 516.1h2.2M541.7 521.1h2.2M545.2 516.1V521.1M544.1 516.1h2.2M544.1 521.1h2.2M547.6 516.1V521.1M546.5 516.1h2.2M546.5 521.1h2.2M550.0 516.2V521.1M548.9 516.2h2.2M548.9 521.1h2.2M552.4 516.2V521.1M551.3 516.2h2.2M551.3 521.1h2.2M554.8 516.2V521.2M553.7 516.2h2.2M553.7 521.2h2.2M557.2 516.2V521.2M556.1 516.2h2.2M556.1 521.2h2.2M559.6 516.2V521.2M558.5 516.2h2.2M558.5 521.2h2.2M562.0 516.2V521.2M560.9 516.2h2.2M560.9 521.2h2.2M564.4 516.3V521.2M563.3 516.3h2.2M563.3 521.2h2.2M566.8 516.3V521.2M565.7 516.3h2.2M565.7 521.2h2.2M569.2 516.3V521.2M568.1 516.3h2.2M568.1 521.2h2.2M571.6 516.3V521.3M570.5 516.3h2.2M570.5 521.3h2.2M574.0 516.3V521.3M572.9 516.3h2.2M572.9 521.3h2.2M576.4 516.3V521.3M575.3 516.3h2.2M575.3 521.3h2.2M578.8 516.3V521.3M577.7 516.3h2.2M577.7 521.3h2.2M581.2 516.4V521.3M580.1 516.4h2.2M580.1 521.3h2.2M583.6 516.4V521.3M582.5 516.4h2.2M582.5 521.3h2.2M586.0 516.4V521.4M584.9 516.4h2.2M584.9 521.4h2.2M588.4 516.4V521.4M587.3 516.4h2.2M587.3 521.4h2.2M590.8 516.4V521.4M589.7 516.4h2.2M589.7 521.4h2.2M593.2 516.4V521.4M592.1 516.4h2.2M592.1 521.4h2.2M595.6 516.5V521.4M594.5 516.5h2.2M594.5 521.4h2.2M598.0 516.5V521.4M596.9 516.5h2.2M596.9 521.4h2.2M600.4 516.5V521.5M599.3 516.5h2.2M599.3 521.5h2.2M602.8 516.5V521.5M601.7 516.5h2.2M601.7 521.5h2.2M605.2 516.5V521.5M604.1 516.5h2.2M604.1 521.5h2.2M607.6 516.5V521.5M606.5 516.5h2.2M606.5 521.5h2.2M610.0 516.6V521.5M608.9 516.6h2.2M608.9 521.5h2.2M612.4 516.6V521.5M611.3 516.6h2.2M611.3 521.5h2.2M614.8 516.6V521.5M613.7 516.6h2.2M613.7 521.5h2.2M617.2 516.6V521.6M616.1 516.6h2.2M616.1 521.6h2.2M619.6 516.6V521.6M618.5 516.6h2.2M618.5 521.6h2.2M622.0 516.6V521.6M620.9 516.6h2.2M620.9 521.6h2.2M624.4 516.6V521.6M623.3 516.6h2.2M623.3 521.6h2.2M626.8 516.7V521.6M625.7 516.7h2.2M625.7 521.6h2.2" stroke="#d2d2d2" stroke-width="0.4" fill="none"/>
<polyline points="512.80,518.06 513.70,518.53 514.60,518.37 515.50,517.85 516.40,518.17 517.30,517.84 518.20,518.23 519.10,518.45 520.00,518.30 520.90,517.93 521.80,518.12 522.70,518.31 523.60,518.36 524.50,518.09 525.40,518.25 526.30,518.38 527.20,518.25 528.10,518.45 529.00,518.84 529.90,518.22 530.80,518.13 531.70,518.08 532.60,518.54 533.50,518.90 534.40,518.40 535.30,518.72 536.20,519.12 537.10,518.50 538.00,518.79 538.90,518.54 539.80,518.72 540.70,518.32 541.60,518.31 542.50,518.43 543.40,518.22 544.30,518.76 545.20,517.87 546.10,519.14 547.00,518.38 547.90,518.30 548.80,518.75 549.70,518.59 550.60,519.01 551.50,518.78 552.40,518.56 553.30,519.05 554.20,519.26 555.10,518.78 556.00,518.93 556.90,518.98 557.80,518.74 558.70,519.12 559.60,518.36 560.50,518.35 561.40,518.70 562.30,518.90 563.20,518.74 564.10,518.76 565.00,518.98 565.90,518.94 566.80,518.61 567.70,519.03 568.60,518.95 569.50,518.90 570.40,519.08 571.30,518.70 572.20,519.18 573.10,518.50 574.00,518.57 574.90,518.81 575.80,518.54 576.70,518.47 577.60,518.94 578.50,518.84 579.40,519.02 580.30,518.95 581.20,518.96 582.10,518.82 583.00,518.70 583.90,518.18 584.80,518.76 585.70,518.58 586.60,518.95 587.50,518.37 588.40,518.85 589.30,518.95 590.20,518.99 591.10,518.90 592.00,519.03 592.90,518.86 593.80,518.38 594.70,518.91 595.60,519.17 596.50,519.51 597.40,518.98 598.30,519.27 599.20,519.20 600.10,518.92 601.00,518.87 601.90,518.84 602.80,518.63 603.70,519.28 604.60,519.20 605.50,519.27 606.40,519.32 607.30,519.22 608.20,519.28 609.10,518.82 610.00,519.36 610.90,518.37 611.80,519.68 612.70,518.80 613.60,519.54 614.50,519.21 615.40,519.44 616.30,519.08 617.20,518.94 618.10,519.22 619.00,519.30 619.90,519.41 620.80,519.37 621.70,519.38 622.60,519.33 623.50,519.11 624.40,518.86 625.30,519.35 626.20,519.76" fill="none" stroke="#7ee0a0" stroke-width="1.45" stroke-linejoin="round"/>
<path d="M514.0 510.1V520.9M512.9 510.1h2.2M512.9 520.9h2.2M516.4 507.5V518.4M515.3 507.5h2.2M515.3 518.4h2.2M518.8 505.0V515.8M517.7 505.0h2.2M517.7 515.8h2.2M521.2 503.0V513.8M520.1 503.0h2.2M520.1 513.8h2.2M523.6 501.7V512.6M522.5 501.7h2.2M522.5 512.6h2.2M526.0 501.1V511.9M524.9 501.1h2.2M524.9 511.9h2.2M528.4 501.0V511.9M527.3 501.0h2.2M527.3 511.9h2.2M530.8 501.3V512.1M529.7 501.3h2.2M529.7 512.1h2.2M533.2 501.7V512.5M532.1 501.7h2.2M532.1 512.5h2.2M535.6 502.1V512.9M534.5 502.1h2.2M534.5 512.9h2.2M538.0 502.4V513.2M536.9 502.4h2.2M536.9 513.2h2.2M540.4 502.6V513.4M539.3 502.6h2.2M539.3 513.4h2.2M542.8 502.7V513.5M541.7 502.7h2.2M541.7 513.5h2.2M545.2 502.8V513.6M544.1 502.8h2.2M544.1 513.6h2.2M547.6 502.9V513.7M546.5 502.9h2.2M546.5 513.7h2.2M550.0 502.9V513.8M548.9 502.9h2.2M548.9 513.8h2.2M552.4 503.0V513.9M551.3 503.0h2.2M551.3 513.9h2.2M554.8 503.1V514.0M553.7 503.1h2.2M553.7 514.0h2.2M557.2 503.2V514.0M556.1 503.2h2.2M556.1 514.0h2.2M559.6 503.3V514.1M558.5 503.3h2.2M558.5 514.1h2.2M562.0 503.4V514.2M560.9 503.4h2.2M560.9 514.2h2.2M564.4 503.5V514.3M563.3 503.5h2.2M563.3 514.3h2.2M566.8 503.6V514.4M565.7 503.6h2.2M565.7 514.4h2.2M569.2 503.7V514.6M568.1 503.7h2.2M568.1 514.6h2.2M571.6 503.9V514.7M570.5 503.9h2.2M570.5 514.7h2.2M574.0 504.0V514.8M572.9 504.0h2.2M572.9 514.8h2.2M576.4 504.2V515.0M575.3 504.2h2.2M575.3 515.0h2.2M578.8 504.3V515.1M577.7 504.3h2.2M577.7 515.1h2.2M581.2 504.4V515.3M580.1 504.4h2.2M580.1 515.3h2.2M583.6 504.6V515.4M582.5 504.6h2.2M582.5 515.4h2.2M586.0 504.7V515.6M584.9 504.7h2.2M584.9 515.6h2.2M588.4 504.9V515.7M587.3 504.9h2.2M587.3 515.7h2.2M590.8 505.0V515.9M589.7 505.0h2.2M589.7 515.9h2.2M593.2 505.2V516.0M592.1 505.2h2.2M592.1 516.0h2.2M595.6 505.3V516.1M594.5 505.3h2.2M594.5 516.1h2.2M598.0 505.4V516.2M596.9 505.4h2.2M596.9 516.2h2.2M600.4 505.5V516.3M599.3 505.5h2.2M599.3 516.3h2.2M602.8 505.6V516.4M601.7 505.6h2.2M601.7 516.4h2.2M605.2 505.7V516.5M604.1 505.7h2.2M604.1 516.5h2.2M607.6 505.8V516.6M606.5 505.8h2.2M606.5 516.6h2.2M610.0 505.9V516.7M608.9 505.9h2.2M608.9 516.7h2.2M612.4 506.0V516.8M611.3 506.0h2.2M611.3 516.8h2.2M614.8 506.1V516.9M613.7 506.1h2.2M613.7 516.9h2.2M617.2 506.2V517.0M616.1 506.2h2.2M616.1 517.0h2.2M619.6 506.2V517.1M618.5 506.2h2.2M618.5 517.1h2.2M622.0 506.3V517.2M620.9 506.3h2.2M620.9 517.2h2.2M624.4 506.4V517.2M623.3 506.4h2.2M623.3 517.2h2.2M626.8 506.5V517.3M625.7 506.5h2.2M625.7 517.3h2.2" stroke="#d2d2d2" stroke-width="0.4" fill="none"/>
<polyline points="512.80,516.50 513.70,515.90 514.60,514.68 515.50,514.28 516.40,512.85 517.30,512.30 518.20,511.36 519.10,510.02 520.00,509.86 520.90,508.74 521.80,508.86 522.70,507.86 523.60,507.03 524.50,507.00 525.40,506.85 526.30,506.34 527.20,506.72 528.10,506.79 529.00,506.62 529.90,506.60 530.80,506.65 531.70,506.88 532.60,506.62 533.50,506.97 534.40,507.34 535.30,506.75 536.20,508.07 537.10,507.64 538.00,508.05 538.90,507.24 539.80,507.87 540.70,507.76 541.60,507.93 542.50,507.64 543.40,508.29 544.30,507.88 545.20,508.72 546.10,508.05 547.00,507.91 547.90,508.03 548.80,508.15 549.70,508.94 550.60,508.37 551.50,508.53 552.40,508.00 553.30,508.33 554.20,508.33 555.10,508.17 556.00,508.44 556.90,509.05 557.80,508.91 558.70,509.34 559.60,508.37 560.50,508.83 561.40,509.20 562.30,508.69 563.20,509.01 564.10,509.00 565.00,508.55 565.90,509.62 566.80,509.48 567.70,509.11 568.60,509.20 569.50,508.83 570.40,509.34 571.30,509.12 572.20,508.81 573.10,509.80 574.00,509.88 574.90,509.71 575.80,509.61 576.70,509.94 577.60,509.58 578.50,509.95 579.40,509.42 580.30,509.67 581.20,509.67 582.10,509.86 583.00,509.92 583.90,510.53 584.80,510.16 585.70,510.69 586.60,509.80 587.50,510.60 588.40,510.59 589.30,510.50 590.20,509.74 591.10,510.81 592.00,510.01 592.90,510.54 593.80,509.84 594.70,510.75 595.60,510.90 596.50,510.78 597.40,510.99 598.30,511.08 599.20,510.68 600.10,511.07 601.00,510.70 601.90,510.82 602.80,510.76 603.70,510.59 604.60,510.78 605.50,511.43 606.40,510.77 607.30,511.97 608.20,510.86 609.10,510.90 610.00,511.64 610.90,510.95 611.80,511.95 612.70,511.10 613.60,511.57 614.50,511.57 615.40,511.57 616.30,511.72 617.20,511.36 618.10,511.63 619.00,511.66 619.90,511.67 620.80,511.83 621.70,512.06 622.60,511.60 623.50,511.56 624.40,512.20 625.30,511.57 626.20,511.50" fill="none" stroke="#f4a0b8" stroke-width="1.45" stroke-linejoin="round"/>
<polyline points="506.80,517.93 507.28,517.09 507.76,519.47 508.24,517.15 508.72,518.53 509.20,517.85 509.68,518.65 510.16,516.45 510.64,518.32 511.12,517.63 511.60,519.03 512.08,518.27 512.56,517.80" fill="none" stroke="#c6c6c6" stroke-width="1.6" stroke-linejoin="round"/>
<polyline points="506.80,518.12 507.28,518.54 507.76,517.07 508.24,519.06 508.72,517.99 509.20,518.16 509.68,518.29 510.16,517.63 510.64,517.90 511.12,518.18 511.60,517.64 512.08,518.12 512.56,517.73" fill="none" stroke="#c6c6c6" stroke-width="1.6" stroke-linejoin="round"/>
<polyline points="506.80,517.21 507.28,517.89 507.76,518.00 508.24,518.42 508.72,517.12 509.20,517.41 509.68,517.70 510.16,517.85 510.64,518.60 511.12,518.00 511.60,517.87 512.08,518.83 512.56,518.70" fill="none" stroke="#c6c6c6" stroke-width="1.6" stroke-linejoin="round"/>
<polyline points="506.80,518.12 507.28,516.78 507.76,517.80 508.24,519.00 508.72,517.21 509.20,517.46 509.68,517.58 510.16,518.41 510.64,518.13 511.12,516.62 511.60,517.33 512.08,515.06 512.56,519.27" fill="none" stroke="#c6c6c6" stroke-width="1.6" stroke-linejoin="round"/>
<polyline points="506.80,519.08 507.28,518.32 507.76,518.64 508.24,518.48 508.72,517.57 509.20,517.17 509.68,518.98 510.16,517.67 510.64,517.49 511.12,517.89 511.60,517.17 512.08,517.30 512.56,518.61" fill="none" stroke="#c6c6c6" stroke-width="1.6" stroke-linejoin="round"/>
<polyline points="506.80,517.95 507.28,517.86 507.76,518.83 508.24,518.19 508.72,517.37 509.20,517.79 509.68,518.02 510.16,516.35 510.64,517.64 511.12,517.42 511.60,518.63 512.08,517.26 512.56,518.36" fill="none" stroke="#c6c6c6" stroke-width="1.6" stroke-linejoin="round"/>
<polyline points="506.80,518.15 507.28,518.31 507.76,518.88 508.24,517.66 508.72,518.85 509.20,517.49 509.68,518.57 510.16,517.21 510.64,517.83 511.12,517.28 511.60,518.79 512.08,517.69 512.56,517.58" fill="none" stroke="#c6c6c6" stroke-width="1.6" stroke-linejoin="round"/>
<polyline points="506.80,517.83 507.28,518.08 507.76,518.37 508.24,520.11 508.72,517.59 509.20,518.71 509.68,518.49 510.16,517.46 510.64,519.32 511.12,517.91 511.60,516.76 512.08,516.94 512.56,516.81" fill="none" stroke="#c6c6c6" stroke-width="1.6" stroke-linejoin="round"/>
<line x1="506.80" y1="416.40" x2="506.80" y2="529.30" stroke="#444" stroke-width="1.0"/>
<line x1="503.40" y1="529.30" x2="627.20" y2="529.30" stroke="#444" stroke-width="1.0"/>
<line x1="503.40" y1="529.30" x2="506.80" y2="529.30" stroke="#444" stroke-width="0.8"/>
<line x1="504.60" y1="518.02" x2="506.80" y2="518.02" stroke="#444" stroke-width="0.8"/>
<line x1="503.40" y1="506.74" x2="506.80" y2="506.74" stroke="#444" stroke-width="0.8"/>
<line x1="504.60" y1="495.46" x2="506.80" y2="495.46" stroke="#444" stroke-width="0.8"/>
<line x1="503.40" y1="484.18" x2="506.80" y2="484.18" stroke="#444" stroke-width="0.8"/>
<line x1="504.60" y1="472.90" x2="506.80" y2="472.90" stroke="#444" stroke-width="0.8"/>
<line x1="503.40" y1="461.62" x2="506.80" y2="461.62" stroke="#444" stroke-width="0.8"/>
<line x1="504.60" y1="450.34" x2="506.80" y2="450.34" stroke="#444" stroke-width="0.8"/>
<line x1="503.40" y1="439.06" x2="506.80" y2="439.06" stroke="#444" stroke-width="0.8"/>
<line x1="504.60" y1="427.78" x2="506.80" y2="427.78" stroke="#444" stroke-width="0.8"/>
<line x1="503.40" y1="416.50" x2="506.80" y2="416.50" stroke="#444" stroke-width="0.8"/>
<line x1="506.80" y1="529.30" x2="506.80" y2="533.60" stroke="#444" stroke-width="0.8"/>
<line x1="512.80" y1="529.30" x2="512.80" y2="532.40" stroke="#444" stroke-width="0.8"/>
<line x1="518.80" y1="529.30" x2="518.80" y2="532.40" stroke="#444" stroke-width="0.8"/>
<line x1="524.80" y1="529.30" x2="524.80" y2="532.40" stroke="#444" stroke-width="0.8"/>
<line x1="530.80" y1="529.30" x2="530.80" y2="532.40" stroke="#444" stroke-width="0.8"/>
<line x1="536.80" y1="529.30" x2="536.80" y2="533.60" stroke="#444" stroke-width="0.8"/>
<line x1="542.80" y1="529.30" x2="542.80" y2="532.40" stroke="#444" stroke-width="0.8"/>
<line x1="548.80" y1="529.30" x2="548.80" y2="532.40" stroke="#444" stroke-width="0.8"/>
<line x1="554.80" y1="529.30" x2="554.80" y2="532.40" stroke="#444" stroke-width="0.8"/>
<line x1="560.80" y1="529.30" x2="560.80" y2="532.40" stroke="#444" stroke-width="0.8"/>
<line x1="566.80" y1="529.30" x2="566.80" y2="533.60" stroke="#444" stroke-width="0.8"/>
<line x1="572.80" y1="529.30" x2="572.80" y2="532.40" stroke="#444" stroke-width="0.8"/>
<line x1="578.80" y1="529.30" x2="578.80" y2="532.40" stroke="#444" stroke-width="0.8"/>
<line x1="584.80" y1="529.30" x2="584.80" y2="532.40" stroke="#444" stroke-width="0.8"/>
<line x1="590.80" y1="529.30" x2="590.80" y2="532.40" stroke="#444" stroke-width="0.8"/>
<line x1="596.80" y1="529.30" x2="596.80" y2="533.60" stroke="#444" stroke-width="0.8"/>
<line x1="602.80" y1="529.30" x2="602.80" y2="532.40" stroke="#444" stroke-width="0.8"/>
<line x1="608.80" y1="529.30" x2="608.80" y2="532.40" stroke="#444" stroke-width="0.8"/>
<line x1="614.80" y1="529.30" x2="614.80" y2="532.40" stroke="#444" stroke-width="0.8"/>
<line x1="620.80" y1="529.30" x2="620.80" y2="532.40" stroke="#444" stroke-width="0.8"/>
<line x1="626.80" y1="529.30" x2="626.80" y2="533.60" stroke="#444" stroke-width="0.8"/>
<text x="506.80" y="542.90" font-size="8.4" fill="#2c2c2c" text-anchor="middle" font-weight="normal">0</text>
<text x="536.80" y="542.90" font-size="8.4" fill="#2c2c2c" text-anchor="middle" font-weight="normal">500</text>
<text x="566.80" y="542.90" font-size="8.4" fill="#2c2c2c" text-anchor="middle" font-weight="normal">1,000</text>
<text x="596.80" y="542.90" font-size="8.4" fill="#2c2c2c" text-anchor="middle" font-weight="normal">1,500</text>
<text x="626.80" y="542.90" font-size="8.4" fill="#2c2c2c" text-anchor="middle" font-weight="normal">2,000</text>
<text x="566.80" y="554.60" font-size="8.5" fill="#2c2c2c" text-anchor="middle" font-weight="normal">Time (s)</text>
<text x="541.6" y="432.0" font-size="9" fill="#222" lengthAdjust="spacingAndGlyphs" textLength="62">+ <tspan fill="#e8313b">PRDX1ΔC<tspan font-size="5.5" dy="1.8">P</tspan><tspan dy="-1.8">ΔC</tspan><tspan font-size="5.5" dy="1.8">R</tspan></tspan></text>
<text transform="translate(7.3,491) rotate(-90)" font-size="8.6" fill="#2c2c2c" text-anchor="middle">OxD</text>
<text transform="translate(334.3,491) rotate(-90)" font-size="8.6" fill="#2c2c2c" text-anchor="middle">OxD</text>
<line x1="41.70" y1="407.00" x2="299.10" y2="407.00" stroke="#555" stroke-width="1.5"/>
<line x1="368.70" y1="407.00" x2="627.00" y2="407.00" stroke="#555" stroke-width="1.5"/>
<text x="126.6" y="400.1" font-size="8.8" fill="#2c2c2c" lengthAdjust="spacingAndGlyphs" textLength="88.3">roGFP2-<tspan fill="#e8313b">PRDX1ΔC<tspan font-size="5.5" dy="1.8">P</tspan><tspan dy="-1.8">ΔC</tspan><tspan font-size="5.5" dy="1.8">R</tspan></tspan></text>
<text x="453.2" y="400.4" font-size="8.8" fill="#2c2c2c" lengthAdjust="spacingAndGlyphs" textLength="90.8">roGFP2-<tspan fill="#5451a0">PRDX2ΔC<tspan font-size="5.5" dy="1.8">P</tspan><tspan dy="-1.8">ΔC</tspan><tspan font-size="5.5" dy="1.8">R</tspan></tspan></text>
<text x="640.9" y="426.9" font-size="8.6" fill="#2c2c2c" textLength="40" lengthAdjust="spacingAndGlyphs">H<tspan font-size="5.5" dy="1.8">2</tspan><tspan dy="-1.8">O</tspan><tspan font-size="5.5" dy="1.8">2</tspan><tspan dy="-1.8"> (µM)</tspan></text>
<line x1="651.00" y1="438.80" x2="658.50" y2="438.80" stroke="#2f8ff0" stroke-width="1.6"/>
<text x="662.20" y="441.70" font-size="8.6" fill="#2c2c2c" text-anchor="start" font-weight="normal">0</text>
<line x1="651.00" y1="448.75" x2="658.50" y2="448.75" stroke="#d83a3a" stroke-width="1.6"/>
<text x="662.20" y="451.65" font-size="8.6" fill="#2c2c2c" text-anchor="start" font-weight="normal">10</text>
<line x1="651.00" y1="458.70" x2="658.50" y2="458.70" stroke="#3aaa5a" stroke-width="1.6"/>
<text x="662.20" y="461.60" font-size="8.6" fill="#2c2c2c" text-anchor="start" font-weight="normal">20</text>
<line x1="651.00" y1="468.65" x2="658.50" y2="468.65" stroke="#8a2be8" stroke-width="1.6"/>
<text x="662.20" y="471.55" font-size="8.6" fill="#2c2c2c" text-anchor="start" font-weight="normal">50</text>
<line x1="651.00" y1="478.60" x2="658.50" y2="478.60" stroke="#1aa6c8" stroke-width="1.6"/>
<text x="662.20" y="481.50" font-size="8.6" fill="#2c2c2c" text-anchor="start" font-weight="normal">100</text>
<line x1="651.00" y1="488.55" x2="658.50" y2="488.55" stroke="#ff7a10" stroke-width="1.6"/>
<text x="662.20" y="491.45" font-size="8.6" fill="#2c2c2c" text-anchor="start" font-weight="normal">200</text>
<line x1="651.00" y1="498.50" x2="658.50" y2="498.50" stroke="#7ee0a0" stroke-width="1.6"/>
<text x="662.20" y="501.40" font-size="8.6" fill="#2c2c2c" text-anchor="start" font-weight="normal">500</text>
<line x1="651.00" y1="508.45" x2="658.50" y2="508.45" stroke="#f4a0b8" stroke-width="1.6"/>
<text x="662.20" y="511.35" font-size="8.6" fill="#2c2c2c" text-anchor="start" font-weight="normal">1,000</text>
</svg></body></html>
